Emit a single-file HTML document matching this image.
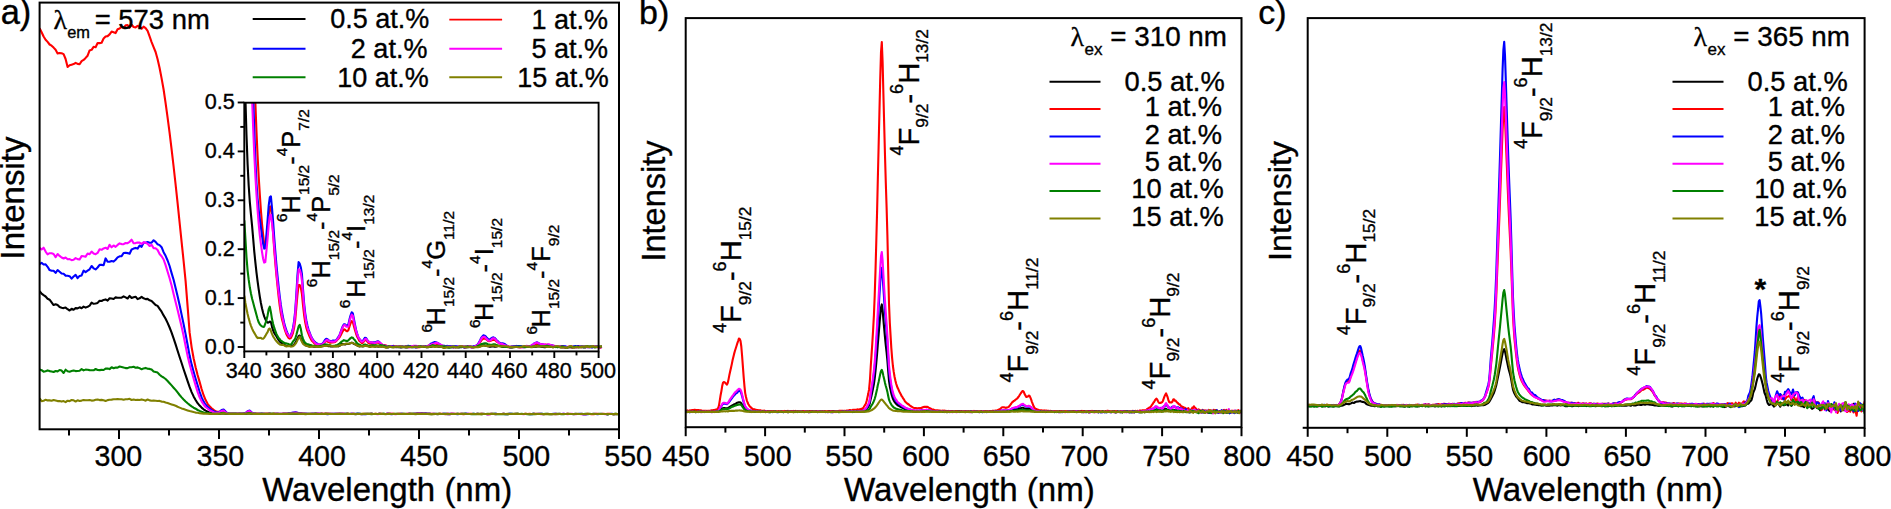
<!DOCTYPE html>
<html lang="en">
<head>
<meta charset="utf-8">
<title>Excitation and emission spectra</title>
<style>
html,body{margin:0;padding:0;background:#fff;}
body{width:1891px;height:509px;overflow:hidden;}
svg{display:block;font-family:'Liberation Sans', Arial, Helvetica, sans-serif;fill:#000;}
text{stroke:#000;stroke-width:0.35px;stroke-linejoin:round;}
</style>
</head>
<body>
<svg width="1891" height="509" viewBox="0 0 1891 509">
<rect x="0" y="0" width="1891" height="509" fill="#fff"/>
<defs>
<clipPath id="clipA"><rect x="39.6" y="2.6" width="579.4" height="426.7"/></clipPath>
<clipPath id="clipI"><rect x="244.3" y="102.7" width="358" height="249"/></clipPath>
<clipPath id="clipB"><rect x="685.5" y="18" width="556.5" height="410"/></clipPath>
<clipPath id="clipC"><rect x="1308" y="18" width="557" height="410"/></clipPath>
</defs>
<polyline fill="none" stroke="#000000" stroke-width="2.1" stroke-linejoin="round" points="39.6,291 41.6,293.7 43.6,295.2 45.6,296.5 47.6,298.7 49.6,299.7 51.6,302.3 53.6,305 55.6,304.2 57.6,305 59.6,307 61.6,307.7 63.6,308.1 65.6,307.6 67.6,309.2 69.6,310.5 71.6,308.8 73.6,309.8 75.6,308.1 77.6,308.4 79.6,307.3 81.6,308.3 83.6,306.6 85.6,307.6 87.6,306.8 89.6,305.7 91.6,302.6 93.6,303.8 95.6,303.5 97.6,302.9 99.6,300.7 101.6,301 103.6,299.9 105.6,299.4 107.6,300.6 109.6,298.3 111.6,298.5 113.6,299 115.6,297.4 117.6,297.7 119.6,297.8 121.6,297.6 123.6,296.3 125.6,297.4 127.6,298.5 129.6,295.9 131.6,298 133.6,297.3 135.6,296.7 137.6,299.1 139.6,298.3 141.6,296.9 143.6,298.3 145.6,299.1 147.6,298.9 149.6,300.3 151.6,301 153.6,303 155.6,305 157.6,305.9 159.6,308.8 161.6,311.7 163.6,315.4 165.6,318.7 167.6,322.9 169.6,327.5 171.6,332.6 173.6,338.3 175.6,344.4 177.6,350.7 179.6,357 181.6,363 183.6,369.2 185.6,375.2 187.6,381.1 189.6,386.9 191.6,392.1 193.6,396.4 195.6,400 197.6,403.2 199.6,405.6 201.6,407.6 203.6,409.3 205.6,410.6 207.6,411.6 209.6,412.4 211.6,413.1 213.6,413.4 215.6,413.7 217.6,413.8 219.6,413.7 221.6,413.5 223.6,413.4 225.6,413.7 227.6,413.8 229.6,413.9 231.6,413.8 233.6,413.9 235.6,413.8 237.6,413.8 239.6,413.9 241.6,413.9 243.6,413.9 245.6,413.9 247.6,413.5 249.6,413.5 251.6,413.7 253.6,413.9 255.6,413.9 257.6,413.9 259.6,414 261.6,413.9 263.6,413.9 265.6,413.9 267.6,413.9 269.6,413.9 271.6,413.9 273.6,413.9 275.6,414 277.6,413.9 279.6,413.9 281.6,413.9 283.6,413.9 285.6,413.8 287.6,413.8 289.6,413.9 291.6,413.7 293.6,413.8 295.6,413.7 297.6,413.8 299.6,413.8 301.6,413.9 303.6,413.9 305.6,413.9 307.6,414 309.6,414 311.6,413.9 313.6,413.9 315.6,413.9 317.6,413.9 319.6,414 321.6,413.9 323.6,414 325.6,413.9 327.6,413.9 329.6,413.9 331.6,414 333.6,414 335.6,414 337.6,414 339.6,413.9 341.6,413.9 343.6,413.9 345.6,414 347.6,413.9 349.6,414 351.6,413.9 353.6,413.9 355.6,414.1 357.6,413.9 359.6,413.9 361.6,414 363.6,414 365.6,413.9 367.6,414 369.6,413.9 371.6,413.9 373.6,414 375.6,414 377.6,414 379.6,413.9 381.6,414 383.6,413.9 385.6,414 387.6,413.9 389.6,413.9 391.6,414 393.6,414 395.6,414 397.6,414 399.6,414 401.6,414 403.6,414 405.6,414 407.6,414 409.6,414 411.6,414 413.6,414 415.6,414 417.6,413.9 419.6,413.9 421.6,414 423.6,414 425.6,413.9 427.6,414 429.6,414 431.6,414 433.6,414 435.6,414 437.6,414.1 439.6,413.9 441.6,414 443.6,414 445.6,414 447.6,414.1 449.6,414.1 451.6,413.9 453.6,413.9 455.6,414 457.6,413.9 459.6,414 461.6,414 463.6,413.9 465.6,413.9 467.6,414 469.6,414 471.6,414 473.6,414 475.6,414 477.6,413.9 479.6,414 481.6,413.9 483.6,413.9 485.6,414 487.6,414 489.6,414 491.6,413.9 493.6,414 495.6,413.9 497.6,414 499.6,414 501.6,414 503.6,414 505.6,414 507.6,414.1 509.6,413.9 511.6,414 513.6,414 515.6,414 517.6,413.9 519.6,414 521.6,414 523.6,414 525.6,414 527.6,414 529.6,414.1 531.6,414 533.6,413.9 535.6,414 537.6,413.9 539.6,413.8 541.6,414 543.6,414.1 545.6,414 547.6,413.9 549.6,414 551.6,414.1 553.6,414 555.6,414 557.6,414 559.6,414 561.6,414 563.6,414 565.6,414 567.6,413.9 569.6,414 571.6,414 573.6,414.1 575.6,413.9 577.6,414 579.6,414 581.6,413.9 583.6,414.1 585.6,414.1 587.6,414 589.6,414 591.6,414 593.6,413.9 595.6,414 597.6,414 599.6,414 601.6,413.9 603.6,414 605.6,414 607.6,414.1 609.6,414 611.6,414 613.6,414.1 615.6,414 617.6,414 619.6,413.9" clip-path="url(#clipA)"/>
<polyline fill="none" stroke="#ff0000" stroke-width="2.1" stroke-linejoin="round" points="39.6,28.3 41.6,32.2 43.6,36.5 45.6,39.8 47.6,41.9 49.6,44.5 51.6,45.7 53.6,47.6 55.6,49.7 57.6,53.4 59.6,53 61.6,53.2 63.6,54.1 65.6,59 67.6,67 69.6,65.3 71.6,64.7 73.6,64.1 75.6,62.9 77.6,63.9 79.6,64.2 81.6,61.1 83.6,59.9 85.6,57.9 87.6,55.7 89.6,50.4 91.6,49.8 93.6,46.8 95.6,47.2 97.6,43 99.6,43.1 101.6,42.7 103.6,38.5 105.6,36.5 107.6,36.1 109.6,34.4 111.6,31.6 113.6,32.2 115.6,33.1 117.6,29.2 119.6,28.5 121.6,26.7 123.6,27.8 125.6,25.3 127.6,25.1 129.6,27.8 131.6,24.7 133.6,27 135.6,27.4 137.6,25.9 139.6,26.5 141.6,28.7 143.6,26.6 145.6,28.1 147.6,30.8 149.6,36.4 151.6,42.1 153.6,47.1 155.6,52 157.6,59.3 159.6,68 161.6,78.4 163.6,89.5 165.6,103.2 167.6,117.7 169.6,132.9 171.6,149.4 173.6,166.5 175.6,184.5 177.6,203.2 179.6,222.5 181.6,241.8 183.6,261 185.6,281.2 187.6,306.4 189.6,332.4 191.6,347.1 193.6,358.2 195.6,367.3 197.6,375 199.6,381.9 201.6,389 203.6,395.2 205.6,400.1 207.6,403.8 209.6,406.3 211.6,408.2 213.6,409.9 215.6,411.3 217.6,411.9 219.6,411.7 221.6,410.9 223.6,410.7 225.6,412.3 227.6,413.5 229.6,413.9 231.6,413.9 233.6,413.9 235.6,413.9 237.6,413.9 239.6,413.9 241.6,413.8 243.6,413.8 245.6,413.4 247.6,411.9 249.6,411.5 251.6,412.9 253.6,413.6 255.6,413.9 257.6,413.9 259.6,413.9 261.6,413.9 263.6,414 265.6,413.9 267.6,413.9 269.6,413.9 271.6,414 273.6,413.9 275.6,413.8 277.6,414 279.6,414 281.6,414 283.6,413.9 285.6,413.9 287.6,413.7 289.6,413.6 291.6,413.2 293.6,413 295.6,412.9 297.6,413.1 299.6,413.3 301.6,413.7 303.6,413.9 305.6,413.8 307.6,414 309.6,414 311.6,413.9 313.6,413.9 315.6,413.9 317.6,413.9 319.6,413.9 321.6,413.9 323.6,413.9 325.6,413.9 327.6,413.9 329.6,414 331.6,414 333.6,413.9 335.6,414 337.6,413.9 339.6,413.9 341.6,414 343.6,413.9 345.6,414 347.6,413.9 349.6,414 351.6,414 353.6,413.9 355.6,414 357.6,414 359.6,414 361.6,414 363.6,413.9 365.6,414 367.6,414 369.6,414 371.6,413.9 373.6,414 375.6,413.9 377.6,414 379.6,413.9 381.6,413.9 383.6,414 385.6,414 387.6,413.9 389.6,413.9 391.6,413.9 393.6,413.9 395.6,414 397.6,413.9 399.6,413.9 401.6,414 403.6,413.9 405.6,414 407.6,413.9 409.6,413.9 411.6,413.8 413.6,414 415.6,413.8 417.6,413.7 419.6,413.6 421.6,413.6 423.6,413.7 425.6,413.8 427.6,413.8 429.6,413.8 431.6,413.9 433.6,413.9 435.6,414 437.6,414 439.6,413.9 441.6,413.9 443.6,414 445.6,414.1 447.6,413.8 449.6,414 451.6,413.9 453.6,414 455.6,413.9 457.6,414 459.6,413.9 461.6,413.9 463.6,414.1 465.6,414 467.6,414 469.6,413.9 471.6,413.9 473.6,414 475.6,414 477.6,414 479.6,414 481.6,413.9 483.6,414 485.6,414 487.6,414.1 489.6,414.1 491.6,414 493.6,414 495.6,414 497.6,414 499.6,414 501.6,414 503.6,413.9 505.6,414 507.6,414 509.6,414 511.6,414 513.6,414 515.6,414 517.6,414 519.6,414 521.6,414 523.6,414 525.6,413.9 527.6,414 529.6,413.9 531.6,414 533.6,414 535.6,413.9 537.6,414 539.6,414 541.6,414 543.6,414 545.6,414 547.6,414 549.6,414 551.6,414 553.6,414 555.6,413.9 557.6,414 559.6,414 561.6,414 563.6,414 565.6,414 567.6,413.9 569.6,414 571.6,414 573.6,414 575.6,414 577.6,414 579.6,414 581.6,414 583.6,414 585.6,414 587.6,413.9 589.6,414 591.6,414.1 593.6,414.1 595.6,414 597.6,413.9 599.6,414 601.6,414 603.6,413.9 605.6,414 607.6,413.9 609.6,413.9 611.6,414 613.6,414.1 615.6,414 617.6,414 619.6,414.1" clip-path="url(#clipA)"/>
<polyline fill="none" stroke="#0000ff" stroke-width="2.1" stroke-linejoin="round" points="39.6,264.1 41.6,262.9 43.6,264.5 45.6,264.3 47.6,266.8 49.6,270.1 51.6,270.8 53.6,270.8 55.6,272.9 57.6,270 59.6,271.7 61.6,273.5 63.6,273.8 65.6,275.6 67.6,275.8 69.6,276.2 71.6,278.6 73.6,276.5 75.6,274.9 77.6,278.1 79.6,275.9 81.6,275.4 83.6,270.7 85.6,272.1 87.6,270.7 89.6,269.3 91.6,266 93.6,268.3 95.6,269.4 97.6,267.5 99.6,264.9 101.6,264.9 103.6,265.2 105.6,258.4 107.6,261.7 109.6,261.8 111.6,261 113.6,261.6 115.6,259.7 117.6,257.4 119.6,256.3 121.6,256.1 123.6,253 125.6,252.7 127.6,253.1 129.6,253.7 131.6,249.5 133.6,248.6 135.6,247.9 137.6,248.6 139.6,245.5 141.6,246.8 143.6,242.5 145.6,242.8 147.6,242.1 149.6,242.7 151.6,242.6 153.6,240.3 155.6,241.9 157.6,244.3 159.6,245.1 161.6,247.2 163.6,252.2 165.6,255.8 167.6,260.5 169.6,266 171.6,273.1 173.6,279.8 175.6,288 177.6,296.2 179.6,305.1 181.6,314.6 183.6,324.1 185.6,334.1 187.6,344.8 189.6,355.6 191.6,364.4 193.6,371.7 195.6,378.7 197.6,385.2 199.6,391.8 201.6,397.4 203.6,401.6 205.6,404.7 207.6,406.8 209.6,408.6 211.6,410.3 213.6,411.2 215.6,411.9 217.6,412.5 219.6,412 221.6,410.1 223.6,409.6 225.6,411.5 227.6,413.4 229.6,413.7 231.6,413.9 233.6,413.9 235.6,413.9 237.6,413.9 239.6,413.9 241.6,413.9 243.6,413.8 245.6,413 247.6,411.2 249.6,410.6 251.6,412.4 253.6,413.6 255.6,413.9 257.6,414 259.6,413.8 261.6,413.9 263.6,413.9 265.6,414 267.6,414 269.6,413.9 271.6,414 273.6,414 275.6,413.9 277.6,413.9 279.6,414 281.6,414 283.6,413.9 285.6,413.8 287.6,413.8 289.6,413.4 291.6,412.9 293.6,412.6 295.6,412.4 297.6,412.8 299.6,413.2 301.6,413.6 303.6,413.8 305.6,413.9 307.6,413.9 309.6,414 311.6,413.9 313.6,413.9 315.6,413.9 317.6,413.9 319.6,413.8 321.6,414 323.6,414 325.6,414 327.6,414.1 329.6,414 331.6,413.9 333.6,413.9 335.6,413.9 337.6,413.9 339.6,414 341.6,413.9 343.6,414 345.6,413.9 347.6,414 349.6,414 351.6,413.9 353.6,414 355.6,413.9 357.6,413.9 359.6,413.9 361.6,414 363.6,414.1 365.6,414.1 367.6,414 369.6,414 371.6,413.9 373.6,414 375.6,414 377.6,414 379.6,414 381.6,414 383.6,414 385.6,414 387.6,413.9 389.6,414 391.6,414.1 393.6,414 395.6,414 397.6,414 399.6,414 401.6,413.9 403.6,414 405.6,414 407.6,414 409.6,413.9 411.6,414 413.6,413.8 415.6,413.7 417.6,413.5 419.6,413.6 421.6,413.4 423.6,413.5 425.6,413.6 427.6,413.8 429.6,413.9 431.6,414 433.6,413.9 435.6,414 437.6,414 439.6,414 441.6,414 443.6,413.9 445.6,413.9 447.6,414 449.6,413.9 451.6,414 453.6,414 455.6,414 457.6,414.1 459.6,414 461.6,413.9 463.6,414 465.6,413.9 467.6,413.9 469.6,414 471.6,414 473.6,413.9 475.6,414 477.6,414 479.6,414 481.6,414 483.6,414 485.6,414 487.6,414.1 489.6,414 491.6,414 493.6,414 495.6,413.9 497.6,414 499.6,414 501.6,414 503.6,413.9 505.6,414.1 507.6,414 509.6,413.9 511.6,413.9 513.6,414 515.6,414 517.6,414 519.6,414 521.6,414 523.6,414 525.6,414 527.6,414 529.6,414 531.6,414.1 533.6,413.9 535.6,414 537.6,414 539.6,414 541.6,413.9 543.6,414 545.6,414 547.6,414 549.6,414 551.6,414 553.6,413.9 555.6,413.9 557.6,414 559.6,414 561.6,414 563.6,413.9 565.6,414 567.6,414 569.6,414 571.6,414 573.6,414 575.6,414 577.6,414 579.6,413.9 581.6,414 583.6,414.1 585.6,414 587.6,414.1 589.6,414 591.6,414 593.6,414 595.6,414 597.6,414.1 599.6,414 601.6,414 603.6,414 605.6,414 607.6,414.1 609.6,414 611.6,413.9 613.6,414 615.6,414 617.6,414 619.6,414.1" clip-path="url(#clipA)"/>
<polyline fill="none" stroke="#ff00ff" stroke-width="2.1" stroke-linejoin="round" points="39.6,247.8 41.6,249.5 43.6,247.7 45.6,251.6 47.6,254.3 49.6,253.2 51.6,253.3 53.6,254 55.6,257.2 57.6,254 59.6,255.9 61.6,257.5 63.6,258.5 65.6,257.5 67.6,259.2 69.6,259.1 71.6,260.1 73.6,259.8 75.6,258.1 77.6,259.1 79.6,259.5 81.6,256.1 83.6,256.2 85.6,256.7 87.6,253.5 89.6,254.2 91.6,251.6 93.6,253.5 95.6,254.2 97.6,252.9 99.6,249.2 101.6,249.8 103.6,248.4 105.6,247.7 107.6,249 109.6,244.8 111.6,247.3 113.6,245.5 115.6,246.8 117.6,244.9 119.6,243.4 121.6,244.1 123.6,244.2 125.6,243 127.6,243.2 129.6,241.8 131.6,239.7 133.6,243.3 135.6,243.1 137.6,242.5 139.6,242.6 141.6,243.9 143.6,242.4 145.6,242.6 147.6,243.8 149.6,246 151.6,244.8 153.6,248.1 155.6,248.2 157.6,250 159.6,254 161.6,256.3 163.6,259.5 165.6,265.1 167.6,271.7 169.6,278.3 171.6,285.5 173.6,294 175.6,302.1 177.6,309.9 179.6,318.3 181.6,326.7 183.6,335.8 185.6,346 187.6,355.9 189.6,364.2 191.6,371.6 193.6,378.5 195.6,385.4 197.6,391.9 199.6,397.4 201.6,401.4 203.6,404.5 205.6,407 207.6,408.5 209.6,410.2 211.6,411.2 213.6,412.2 215.6,412.9 217.6,412.8 219.6,412.2 221.6,410.9 223.6,410.6 225.6,412.2 227.6,413.5 229.6,413.9 231.6,413.9 233.6,413.9 235.6,414 237.6,413.8 239.6,413.9 241.6,413.9 243.6,413.9 245.6,413.2 247.6,411.5 249.6,411.1 251.6,412.6 253.6,413.7 255.6,413.8 257.6,413.9 259.6,413.9 261.6,414 263.6,413.9 265.6,414 267.6,413.9 269.6,413.9 271.6,414 273.6,414 275.6,413.9 277.6,413.9 279.6,413.9 281.6,413.9 283.6,413.9 285.6,413.9 287.6,413.7 289.6,413.5 291.6,413 293.6,412.8 295.6,412.7 297.6,412.9 299.6,413.4 301.6,413.6 303.6,413.9 305.6,414 307.6,413.9 309.6,413.9 311.6,414 313.6,414 315.6,414 317.6,413.9 319.6,413.9 321.6,413.9 323.6,413.8 325.6,414 327.6,413.9 329.6,413.9 331.6,413.9 333.6,414 335.6,413.9 337.6,413.9 339.6,413.9 341.6,413.9 343.6,413.9 345.6,414 347.6,413.9 349.6,414 351.6,413.9 353.6,414 355.6,414 357.6,414 359.6,414 361.6,414.1 363.6,414 365.6,414 367.6,413.9 369.6,414 371.6,414 373.6,414 375.6,414 377.6,414.1 379.6,413.9 381.6,414 383.6,414 385.6,414 387.6,413.9 389.6,414 391.6,413.9 393.6,414 395.6,414.1 397.6,414 399.6,413.9 401.6,413.9 403.6,414 405.6,414 407.6,413.9 409.6,413.9 411.6,414 413.6,413.9 415.6,413.7 417.6,413.6 419.6,413.5 421.6,413.5 423.6,413.5 425.6,413.7 427.6,413.8 429.6,413.9 431.6,414 433.6,414 435.6,413.9 437.6,414 439.6,414 441.6,414 443.6,413.9 445.6,414 447.6,413.9 449.6,414.1 451.6,413.9 453.6,413.9 455.6,414 457.6,414 459.6,414 461.6,414 463.6,414 465.6,414 467.6,413.9 469.6,414 471.6,414 473.6,414 475.6,414 477.6,413.9 479.6,414 481.6,414 483.6,414 485.6,414 487.6,414.1 489.6,414.1 491.6,413.9 493.6,414 495.6,414.1 497.6,414 499.6,414 501.6,414 503.6,414 505.6,414 507.6,414 509.6,414 511.6,414 513.6,414 515.6,413.9 517.6,414 519.6,414 521.6,414 523.6,414.1 525.6,414 527.6,414 529.6,414 531.6,414 533.6,414 535.6,414 537.6,414 539.6,413.9 541.6,414.1 543.6,414 545.6,414 547.6,414 549.6,414 551.6,414 553.6,414 555.6,414.1 557.6,414 559.6,413.9 561.6,414 563.6,413.9 565.6,414 567.6,414.1 569.6,414 571.6,413.9 573.6,414 575.6,414.1 577.6,414 579.6,414 581.6,414.1 583.6,414.1 585.6,414.1 587.6,414 589.6,414 591.6,414 593.6,414 595.6,413.9 597.6,414 599.6,414 601.6,414 603.6,414 605.6,414.1 607.6,414 609.6,414 611.6,414 613.6,414 615.6,414.1 617.6,414 619.6,414" clip-path="url(#clipA)"/>
<polyline fill="none" stroke="#008000" stroke-width="2.1" stroke-linejoin="round" points="39.6,369.4 41.6,370.2 43.6,371.7 45.6,371.3 47.6,370.4 49.6,371.1 51.6,371.5 53.6,372 55.6,371 57.6,371.4 59.6,370 61.6,370.6 63.6,373 65.6,369.7 67.6,371.3 69.6,371.7 71.6,371.1 73.6,370.6 75.6,371.1 77.6,371 79.6,370.8 81.6,369.1 83.6,370.4 85.6,369.6 87.6,369.7 89.6,370.1 91.6,370.3 93.6,370.3 95.6,369 97.6,370 99.6,370.1 101.6,369.9 103.6,370 105.6,368.6 107.6,368.5 109.6,369.1 111.6,367.3 113.6,368.3 115.6,367.6 117.6,367.6 119.6,366.5 121.6,367 123.6,367.6 125.6,368.1 127.6,368.1 129.6,367.3 131.6,367.2 133.6,366.8 135.6,367.7 137.6,367.4 139.6,368.2 141.6,369.3 143.6,368.4 145.6,367.9 147.6,368.7 149.6,368.9 151.6,369.6 153.6,371.6 155.6,372.1 157.6,372.6 159.6,374.8 161.6,376.4 163.6,377.5 165.6,379 167.6,381 169.6,383.2 171.6,385.4 173.6,387.7 175.6,389.9 177.6,392.4 179.6,395 181.6,397.4 183.6,399.5 185.6,401.5 187.6,403.3 189.6,404.9 191.6,406.4 193.6,407.7 195.6,408.7 197.6,410 199.6,410.9 201.6,411.7 203.6,412.4 205.6,412.9 207.6,413.2 209.6,413.3 211.6,413.6 213.6,413.8 215.6,413.8 217.6,413.9 219.6,413.7 221.6,413.1 223.6,412.9 225.6,413.5 227.6,413.8 229.6,413.8 231.6,413.9 233.6,413.9 235.6,413.9 237.6,414 239.6,413.9 241.6,413.9 243.6,413.9 245.6,413.7 247.6,413.2 249.6,413.1 251.6,413.5 253.6,414 255.6,413.9 257.6,414 259.6,413.9 261.6,413.9 263.6,414 265.6,414 267.6,414 269.6,413.9 271.6,413.9 273.6,413.9 275.6,414 277.6,414 279.6,414 281.6,414 283.6,414 285.6,414 287.6,413.9 289.6,413.7 291.6,413.6 293.6,413.5 295.6,413.7 297.6,413.6 299.6,413.8 301.6,413.9 303.6,414 305.6,414 307.6,413.9 309.6,413.9 311.6,414 313.6,414 315.6,413.9 317.6,414 319.6,414 321.6,413.9 323.6,414 325.6,413.9 327.6,414 329.6,414 331.6,414 333.6,414 335.6,413.9 337.6,414 339.6,413.9 341.6,414 343.6,414 345.6,413.8 347.6,413.9 349.6,414 351.6,414 353.6,414 355.6,414 357.6,413.9 359.6,414 361.6,414.1 363.6,414 365.6,414 367.6,413.9 369.6,414 371.6,414.1 373.6,414 375.6,414 377.6,414 379.6,413.9 381.6,414 383.6,413.9 385.6,414 387.6,414 389.6,414 391.6,414 393.6,414 395.6,413.9 397.6,413.9 399.6,414 401.6,413.9 403.6,413.9 405.6,413.9 407.6,414 409.6,413.9 411.6,413.9 413.6,413.9 415.6,413.9 417.6,413.9 419.6,414 421.6,413.8 423.6,413.8 425.6,413.9 427.6,413.9 429.6,413.9 431.6,414.1 433.6,414 435.6,413.9 437.6,413.9 439.6,414 441.6,414 443.6,413.9 445.6,413.9 447.6,414 449.6,414 451.6,414 453.6,414 455.6,414 457.6,413.9 459.6,414 461.6,414 463.6,414 465.6,413.9 467.6,414 469.6,414 471.6,414.1 473.6,413.9 475.6,414.1 477.6,413.9 479.6,414 481.6,414.1 483.6,414 485.6,414 487.6,413.9 489.6,414 491.6,414 493.6,413.9 495.6,414.1 497.6,414 499.6,414.1 501.6,414 503.6,414.1 505.6,414.1 507.6,414.1 509.6,414 511.6,413.9 513.6,414 515.6,413.9 517.6,413.9 519.6,414 521.6,413.9 523.6,414 525.6,414 527.6,414.1 529.6,414.1 531.6,414 533.6,414.1 535.6,414 537.6,414 539.6,414 541.6,413.9 543.6,414 545.6,413.9 547.6,414 549.6,414.1 551.6,414 553.6,414 555.6,414 557.6,413.9 559.6,413.9 561.6,414.1 563.6,414.1 565.6,414 567.6,414 569.6,414 571.6,414 573.6,414 575.6,414 577.6,414 579.6,414 581.6,414 583.6,414 585.6,413.9 587.6,414 589.6,413.9 591.6,414 593.6,414 595.6,414 597.6,414 599.6,413.9 601.6,414 603.6,414 605.6,414 607.6,414.1 609.6,414 611.6,414 613.6,414.1 615.6,413.9 617.6,414.1 619.6,414" clip-path="url(#clipA)"/>
<polyline fill="none" stroke="#808000" stroke-width="2.1" stroke-linejoin="round" points="39.6,398.3 41.6,401.2 43.6,400.8 45.6,399.7 47.6,400.4 49.6,400.4 51.6,400.7 53.6,400 55.6,400.5 57.6,401.1 59.6,401.1 61.6,401.6 63.6,401.1 65.6,402.2 67.6,400.7 69.6,401.1 71.6,400 73.6,400.3 75.6,401.5 77.6,400.3 79.6,401 81.6,400.6 83.6,400.1 85.6,400.3 87.6,400.2 89.6,400.1 91.6,400.6 93.6,400.5 95.6,399.8 97.6,399.6 99.6,400.1 101.6,399.9 103.6,400.3 105.6,401 107.6,400.1 109.6,399.7 111.6,399.6 113.6,399.3 115.6,399.2 117.6,399.1 119.6,399.3 121.6,399.2 123.6,399.7 125.6,399.2 127.6,399.3 129.6,398.8 131.6,400 133.6,399.5 135.6,400 137.6,399.7 139.6,400 141.6,399.4 143.6,399.9 145.6,400.7 147.6,399.5 149.6,400.4 151.6,400.7 153.6,400.5 155.6,400.7 157.6,401 159.6,400.9 161.6,401.6 163.6,401.8 165.6,402.5 167.6,403.1 169.6,403.8 171.6,404.4 173.6,405.1 175.6,405.8 177.6,406.8 179.6,407.6 181.6,408.4 183.6,409.1 185.6,409.8 187.6,410.4 189.6,411 191.6,411.5 193.6,412.1 195.6,412.6 197.6,412.8 199.6,413.2 201.6,413.4 203.6,413.6 205.6,413.8 207.6,413.8 209.6,413.9 211.6,414 213.6,413.9 215.6,413.9 217.6,413.9 219.6,413.7 221.6,413.6 223.6,413.4 225.6,413.7 227.6,413.8 229.6,413.9 231.6,413.9 233.6,413.8 235.6,413.9 237.6,413.9 239.6,413.9 241.6,414 243.6,413.9 245.6,413.8 247.6,413.7 249.6,413.5 251.6,413.8 253.6,413.9 255.6,413.9 257.6,413.9 259.6,414 261.6,414 263.6,413.9 265.6,413.9 267.6,413.9 269.6,413.9 271.6,414 273.6,413.9 275.6,413.9 277.6,413.9 279.6,414 281.6,414 283.6,413.9 285.6,413.9 287.6,413.9 289.6,413.8 291.6,413.8 293.6,413.8 295.6,413.8 297.6,413.8 299.6,413.9 301.6,413.9 303.6,413.9 305.6,414.1 307.6,414 309.6,413.9 311.6,414 313.6,414 315.6,413.9 317.6,414 319.6,414 321.6,413.9 323.6,414 325.6,413.9 327.6,413.9 329.6,413.9 331.6,413.9 333.6,414 335.6,414 337.6,413.9 339.6,414 341.6,413.9 343.6,414 345.6,414 347.6,413.9 349.6,413.9 351.6,414 353.6,414 355.6,414 357.6,414 359.6,414 361.6,413.9 363.6,413.9 365.6,413.9 367.6,413.9 369.6,413.9 371.6,413.9 373.6,414 375.6,413.9 377.6,414 379.6,414 381.6,413.9 383.6,414 385.6,414.1 387.6,414 389.6,413.9 391.6,414 393.6,413.9 395.6,414 397.6,414 399.6,413.9 401.6,414 403.6,414 405.6,414 407.6,414 409.6,413.9 411.6,413.9 413.6,413.9 415.6,414.1 417.6,413.9 419.6,413.9 421.6,413.9 423.6,413.9 425.6,414 427.6,414 429.6,414.1 431.6,414 433.6,414.1 435.6,414 437.6,414 439.6,413.9 441.6,414 443.6,414 445.6,414 447.6,413.9 449.6,414 451.6,414 453.6,414 455.6,414 457.6,414 459.6,414 461.6,413.9 463.6,413.9 465.6,414 467.6,414 469.6,414 471.6,414 473.6,414 475.6,414 477.6,414.1 479.6,413.9 481.6,414.1 483.6,414 485.6,414 487.6,414 489.6,413.9 491.6,413.9 493.6,413.9 495.6,414 497.6,414 499.6,414 501.6,414 503.6,413.9 505.6,414 507.6,413.9 509.6,414 511.6,414 513.6,413.9 515.6,413.9 517.6,413.9 519.6,414 521.6,414 523.6,414 525.6,413.9 527.6,414 529.6,414 531.6,414 533.6,413.9 535.6,414.1 537.6,414 539.6,414 541.6,414 543.6,414.1 545.6,414 547.6,414.1 549.6,414 551.6,414.1 553.6,414.1 555.6,414 557.6,414.1 559.6,414 561.6,414 563.6,414 565.6,414 567.6,414 569.6,413.9 571.6,414 573.6,414 575.6,414 577.6,413.9 579.6,414 581.6,414 583.6,414 585.6,414 587.6,413.9 589.6,414 591.6,414 593.6,414 595.6,413.9 597.6,414 599.6,414 601.6,414 603.6,414 605.6,414 607.6,414.1 609.6,414 611.6,414 613.6,414 615.6,413.9 617.6,414.1 619.6,414.1" clip-path="url(#clipA)"/>
<polyline fill="none" stroke="#000000" stroke-width="2.1" stroke-linejoin="round" points="244.3,43.3 245.4,97.9 246.5,135.3 247.6,164.1 248.7,185.7 249.8,201.8 250.9,213.8 252.1,226.1 253.2,238.8 254.3,251.8 255.4,262.6 256.5,272.7 257.6,281.4 258.7,289.4 259.8,296.6 260.9,303 262,308.3 263.1,312.7 264.2,316.4 265.3,319.1 266.4,321.4 267.6,322.6 268.7,322.4 269.8,321.6 270.9,321.9 272,326.6 273.1,330.4 274.2,332.9 275.3,334.6 276.4,336.3 277.5,338.2 278.6,340 279.7,341.4 280.8,342.5 281.9,343.4 283.1,344.1 284.2,344.7 285.3,345.5 286.4,345.9 287.5,346 288.6,345.7 289.7,345.9 290.8,345.9 291.9,345.9 293,345.4 294.1,344.5 295.2,343.1 296.3,340.9 297.4,338.6 298.6,336.1 299.7,335.5 300.8,337.9 301.9,340.1 303,342.7 304.1,344 305.2,344.9 306.3,345.6 307.4,346 308.5,346.3 309.6,346 310.7,346.2 311.8,346.3 312.9,346.4 314.1,346.6 315.2,346.5 316.3,346.6 317.4,346.3 318.5,346.6 319.6,346.4 320.7,346.4 321.8,346.3 322.9,346.3 324,346 325.1,345.4 326.2,345.7 327.3,345.8 328.4,346.2 329.6,346 330.7,346.4 331.8,346.2 332.9,346.5 334,346.1 335.1,346.1 336.2,346.1 337.3,346.1 338.4,346.4 339.5,345.8 340.6,345.1 341.7,344 342.8,344.1 343.9,344.3 345.1,344.5 346.2,344 347.3,343.9 348.4,344 349.5,343.6 350.6,343.2 351.7,342.8 352.8,343.1 353.9,343.8 355,344.3 356.1,344.8 357.2,345.4 358.3,346.1 359.4,346.4 360.6,346.3 361.7,346.2 362.8,346.4 363.9,346.2 365,345.8 366.1,345.1 367.2,345.6 368.3,345.9 369.4,346.7 370.5,346.6 371.6,346 372.7,345.8 373.8,346.2 374.9,346.6 376.1,346.5 377.2,346.4 378.3,346.6 379.4,346.5 380.5,346.3 381.6,346.4 382.7,346.3 383.8,346.7 384.9,346.6 386,347.3 387.1,347.5 388.2,347.4 389.3,347.1 390.5,346.7 391.6,346.8 392.7,346.4 393.8,346.4 394.9,346.3 396,346.6 397.1,346.9 398.2,347.3 399.3,347.3 400.4,347.4 401.5,347.4 402.6,347.3 403.7,347 404.8,347 406,347.4 407.1,347.4 408.2,347.3 409.3,346.7 410.4,346.6 411.5,346.8 412.6,347.1 413.7,346.8 414.8,346.6 415.9,346.1 417,346 418.1,346.3 419.2,346.6 420.3,347 421.5,346.7 422.6,346.7 423.7,346.7 424.8,346.8 425.9,347.1 427,347.2 428.1,347.3 429.2,346.9 430.3,346.9 431.4,346.6 432.5,346.4 433.6,346.1 434.7,346.2 435.8,346.3 437,346.5 438.1,346.6 439.2,346.8 440.3,346.7 441.4,346.8 442.5,346.6 443.6,347 444.7,346.9 445.8,347.2 446.9,347.1 448,347.3 449.1,347.3 450.2,347.1 451.3,347.1 452.5,347.2 453.6,347.5 454.7,347.1 455.8,346.9 456.9,346.9 458,347.2 459.1,347.5 460.2,346.9 461.3,347.2 462.4,346.8 463.5,347.1 464.6,347.1 465.7,347.1 466.8,347 468,346.6 469.1,346.6 470.2,346.6 471.3,346.7 472.4,346.7 473.5,346.9 474.6,346.8 475.7,347 476.8,346.7 477.9,346.8 479,346.6 480.1,346.4 481.2,345.7 482.3,345.1 483.5,345.2 484.6,345.4 485.7,345.8 486.8,345.9 487.9,346.1 489,346.6 490.1,346.5 491.2,346.6 492.3,346.2 493.4,346.5 494.5,346.6 495.6,346.8 496.7,346.4 497.8,346 499,345.9 500.1,345.9 501.2,346.4 502.3,346.8 503.4,347 504.5,346.9 505.6,346.7 506.7,346.8 507.8,346.8 508.9,346.9 510,347.3 511.1,347.5 512.2,347.4 513.3,347.1 514.5,346.9 515.6,346.5 516.7,346.5 517.8,346.6 518.9,346.7 520,346.5 521.1,346.5 522.2,346.7 523.3,346.7 524.4,346.5 525.5,346.3 526.6,346.5 527.7,346.8 528.9,346.7 530,346.5 531.1,346.6 532.2,346.5 533.3,346.7 534.4,346.4 535.5,346.6 536.6,346.6 537.7,346.4 538.8,346.4 539.9,346.5 541,346.7 542.1,346.9 543.2,347 544.4,347.3 545.5,347.1 546.6,346.6 547.7,346.5 548.8,346.6 549.9,346.6 551,346.8 552.1,346.6 553.2,346.7 554.3,346.6 555.4,346.8 556.5,347 557.6,347.2 558.7,347 559.9,346.8 561,346.7 562.1,346.9 563.2,347.1 564.3,347 565.4,347.2 566.5,347 567.6,347.4 568.7,347 569.8,347.1 570.9,347.1 572,347.4 573.1,347.4 574.2,347.1 575.4,347.2 576.5,347.1 577.6,346.4 578.7,346.4 579.8,346.5 580.9,347.2 582,346.9 583.1,347.4 584.2,347.5 585.3,347.5 586.4,347.1 587.5,346.6 588.6,346.8 589.7,346.8 590.9,346.5 592,346.5 593.1,346.7 594.2,347.3 595.3,347.2 596.4,346.8 597.5,346.8 598.6,346.9 599.7,347.1 600.8,346.6 601.9,346.2" clip-path="url(#clipI)"/>
<polyline fill="none" stroke="#ff0000" stroke-width="2.1" stroke-linejoin="round" points="244.3,-581.4 245.4,-466.7 246.5,-365.4 247.6,-277 248.7,-199 249.8,-130.8 250.9,-70.3 252.1,-16.4 253.2,30.8 254.3,70.6 255.4,103.9 256.5,132 257.6,156 258.7,176.7 259.8,194.3 260.9,210.3 262,223.8 263.1,234.4 264.2,244.2 265.3,247 266.4,240.7 267.6,229.1 268.7,214.7 269.8,206.9 270.9,206.3 272,217.8 273.1,232.6 274.2,249.6 275.3,262.9 276.4,275 277.5,286 278.6,296.4 279.7,305.7 280.8,313.1 281.9,318.9 283.1,323.3 284.2,327.7 285.3,331.1 286.4,334.2 287.5,336.1 288.6,338.1 289.7,338.6 290.8,338 291.9,335.8 293,332.8 294.1,328.1 295.2,320.3 296.3,307.8 297.4,295.3 298.6,285 299.7,285 300.8,287.6 301.9,293.7 303,305.1 304.1,315 305.2,322.4 306.3,327.6 307.4,331.2 308.5,333.9 309.6,336.6 310.7,338.8 311.8,340.7 312.9,341.6 314.1,343.1 315.2,343.9 316.3,345 317.4,344.8 318.5,345 319.6,344.9 320.7,344.7 321.8,344.5 322.9,344 324,343 325.1,341.9 326.2,341 327.3,341.3 328.4,342 329.6,342.6 330.7,342.7 331.8,342.5 332.9,342.4 334,342.3 335.1,341.9 336.2,341.2 337.3,339.8 338.4,338.7 339.5,337.4 340.6,335.5 341.7,333.3 342.8,331.1 343.9,329.3 345.1,329.7 346.2,330.9 347.3,331.3 348.4,330.1 349.5,326.4 350.6,323.2 351.7,321.1 352.8,321.8 353.9,326.3 355,330.2 356.1,333.8 357.2,336.8 358.3,338.8 359.4,341 360.6,341.8 361.7,342.9 362.8,342.9 363.9,341.4 365,340.2 366.1,339.9 367.2,341.4 368.3,342.9 369.4,343.5 370.5,343.8 371.6,343.8 372.7,343.8 373.8,343.8 374.9,343.2 376.1,342.6 377.2,342.4 378.3,342.7 379.4,343.3 380.5,344 381.6,344.6 382.7,345 383.8,345 384.9,345.2 386,345.6 387.1,346 388.2,346.5 389.3,346.6 390.5,347 391.6,346.2 392.7,346.1 393.8,345.9 394.9,346.5 396,347.1 397.1,347 398.2,346.7 399.3,346.4 400.4,346.4 401.5,346.6 402.6,346.8 403.7,346.7 404.8,346.6 406,346.3 407.1,346.5 408.2,346.6 409.3,346.9 410.4,346.9 411.5,346.8 412.6,346.8 413.7,346.6 414.8,346.9 415.9,347.1 417,347.3 418.1,347.4 419.2,346.9 420.3,347.1 421.5,346.7 422.6,346.9 423.7,346.6 424.8,346.8 425.9,346.6 427,346.3 428.1,345.8 429.2,345.4 430.3,345.4 431.4,344.7 432.5,344 433.6,343.4 434.7,343.4 435.8,343.7 437,344 438.1,344.6 439.2,344.8 440.3,345.1 441.4,345.6 442.5,345.9 443.6,346.1 444.7,346.2 445.8,346.3 446.9,346.6 448,346.7 449.1,346.8 450.2,346.7 451.3,346.6 452.5,346.9 453.6,346.6 454.7,346.9 455.8,346.7 456.9,347.3 458,347 459.1,346.7 460.2,346.3 461.3,346.2 462.4,346.8 463.5,347.1 464.6,347.4 465.7,347.3 466.8,346.9 468,346.8 469.1,346.6 470.2,346.7 471.3,346.9 472.4,347.1 473.5,347.3 474.6,346.9 475.7,346.4 476.8,345.6 477.9,344.6 479,343.6 480.1,342.2 481.2,340.6 482.3,339.3 483.5,338.6 484.6,338.6 485.7,339 486.8,339.7 487.9,340.7 489,341.2 490.1,341 491.2,340.6 492.3,340 493.4,339.7 494.5,339.9 495.6,340.6 496.7,341.7 497.8,342.4 499,343 500.1,343.5 501.2,343.8 502.3,344.5 503.4,345 504.5,345.5 505.6,345.9 506.7,346.5 507.8,347.1 508.9,347.3 510,347.2 511.1,347.2 512.2,347 513.3,346.7 514.5,346.5 515.6,346.3 516.7,346.6 517.8,346.8 518.9,347.1 520,347.3 521.1,347 522.2,347.1 523.3,346.7 524.4,346.7 525.5,346.9 526.6,347 527.7,346.7 528.9,346.4 530,346.1 531.1,346.4 532.2,345.6 533.3,345.5 534.4,344.3 535.5,344.2 536.6,344.2 537.7,344.3 538.8,343.8 539.9,343.9 541,344.2 542.1,344.9 543.2,345 544.4,345 545.5,344.6 546.6,344.8 547.7,344.9 548.8,345.3 549.9,345.6 551,345.7 552.1,345.7 553.2,345.8 554.3,346 555.4,346.5 556.5,346.4 557.6,346.5 558.7,346.5 559.9,346.5 561,346.5 562.1,346.3 563.2,346.2 564.3,346.7 565.4,347.3 566.5,347.2 567.6,347.1 568.7,346.8 569.8,347.2 570.9,347.1 572,347.4 573.1,346.8 574.2,347 575.4,346.8 576.5,347.1 577.6,346.7 578.7,347 579.8,346.9 580.9,347.2 582,346.8 583.1,346.7 584.2,346.8 585.3,346.8 586.4,347 587.5,346.8 588.6,346.9 589.7,346.9 590.9,347 592,346.9 593.1,346.4 594.2,346.5 595.3,346.5 596.4,346.6 597.5,346.9 598.6,347.3 599.7,347.9 600.8,347.5 601.9,346.7" clip-path="url(#clipI)"/>
<polyline fill="none" stroke="#0000ff" stroke-width="2.1" stroke-linejoin="round" points="244.3,-386.8 245.4,-285.8 246.5,-200.3 247.6,-128.8 248.7,-68.4 249.8,-17.5 250.9,25.8 252.1,64.1 253.2,97.8 254.3,130.3 255.4,159.8 256.5,183.3 257.6,198.6 258.7,210.1 259.8,219 260.9,227.5 262,235.6 263.1,243.6 264.2,248.6 265.3,248.2 266.4,235 267.6,220.2 268.7,205.6 269.8,197.4 270.9,196.4 272,207.8 273.1,221.3 274.2,237.2 275.3,251.3 276.4,264.4 277.5,275.9 278.6,286.3 279.7,296.2 280.8,304.7 281.9,311.8 283.1,317.9 284.2,323 285.3,327.2 286.4,330.4 287.5,333.1 288.6,335.3 289.7,336.2 290.8,335.2 291.9,332.1 293,327.9 294.1,321.1 295.2,311 296.3,294.8 297.4,276.2 298.6,262 299.7,263.6 300.8,267.2 301.9,273.9 303,289 304.1,303.1 305.2,313.1 306.3,320.2 307.4,325.5 308.5,329.5 309.6,332.4 310.7,335.4 311.8,337.8 312.9,339.6 314.1,341.2 315.2,342.1 316.3,343.3 317.4,343.6 318.5,344.2 319.6,344.5 320.7,344.4 321.8,343.9 322.9,343.3 324,341.6 325.1,339.8 326.2,338.9 327.3,339 328.4,340.2 329.6,340.7 330.7,341.2 331.8,340.9 332.9,340.6 334,340.6 335.1,340.7 336.2,340.1 337.3,338.5 338.4,336.9 339.5,335.2 340.6,332 341.7,329 342.8,326.2 343.9,324.2 345.1,324.4 346.2,325.5 347.3,325.4 348.4,324.3 349.5,319.4 350.6,315.4 351.7,312.3 352.8,313.3 353.9,319 355,324.6 356.1,330 357.2,333.9 358.3,337.2 359.4,338.9 360.6,340.5 361.7,341.2 362.8,341 363.9,339.3 365,337.7 366.1,338 367.2,339.8 368.3,341.3 369.4,341.9 370.5,342.4 371.6,342.2 372.7,342.6 373.8,342.4 374.9,342.4 376.1,341.9 377.2,341.3 378.3,341.4 379.4,342.2 380.5,343.6 381.6,344.6 382.7,345.2 383.8,345.7 384.9,345.8 386,346 387.1,346.3 388.2,346 389.3,346.2 390.5,346.1 391.6,346.5 392.7,346.1 393.8,346.2 394.9,346.7 396,347.2 397.1,346.8 398.2,346.6 399.3,346.6 400.4,346.9 401.5,346.6 402.6,346.7 403.7,346.8 404.8,347.3 406,346.6 407.1,346.2 408.2,345.7 409.3,346.2 410.4,346.4 411.5,347 412.6,346.9 413.7,347.3 414.8,347.2 415.9,347.4 417,347.2 418.1,346.8 419.2,346.5 420.3,346.4 421.5,346.7 422.6,346.7 423.7,346.7 424.8,346.2 425.9,346.3 427,346.6 428.1,346.5 429.2,345.4 430.3,344.2 431.4,343.4 432.5,343 433.6,342.4 434.7,342 435.8,342.2 437,342.6 438.1,343.1 439.2,343.8 440.3,344.8 441.4,345.4 442.5,345.7 443.6,345.7 444.7,345.9 445.8,346.2 446.9,345.9 448,346 449.1,346 450.2,346.1 451.3,346.2 452.5,346.3 453.6,346.5 454.7,346.2 455.8,346.2 456.9,346.3 458,346.6 459.1,346.9 460.2,346.8 461.3,346.8 462.4,346.9 463.5,347.2 464.6,347.5 465.7,347.3 466.8,347.3 468,347.2 469.1,346.7 470.2,347 471.3,346.8 472.4,346.9 473.5,346.3 474.6,346 475.7,345.7 476.8,345.3 477.9,344.3 479,342.4 480.1,340.3 481.2,337.9 482.3,336.4 483.5,335.3 484.6,335.7 485.7,336.4 486.8,337.9 487.9,338.9 489,339.6 490.1,339.1 491.2,338.4 492.3,337.7 493.4,337.3 494.5,337.9 495.6,338.8 496.7,340.3 497.8,341.1 499,342.4 500.1,343 501.2,343.5 502.3,343.4 503.4,343.5 504.5,344 505.6,344.7 506.7,345.6 507.8,346.6 508.9,347.2 510,347.2 511.1,346.7 512.2,346.2 513.3,346.4 514.5,346.2 515.6,346.3 516.7,345.9 517.8,346.3 518.9,346.1 520,346.3 521.1,346.4 522.2,346.9 523.3,347.1 524.4,347 525.5,347 526.6,346.6 527.7,346.6 528.9,346.6 530,346.1 531.1,345.9 532.2,344.8 533.3,344.5 534.4,343.3 535.5,342.9 536.6,342.3 537.7,342.6 538.8,343.4 539.9,344.2 541,344.6 542.1,344.4 543.2,344.6 544.4,345 545.5,345.2 546.6,345 547.7,344.8 548.8,345 549.9,345.2 551,345.2 552.1,345.3 553.2,346 554.3,346.4 555.4,346.8 556.5,347 557.6,346.9 558.7,346.9 559.9,346.7 561,346.6 562.1,346.5 563.2,346.2 564.3,346.3 565.4,346.3 566.5,346.7 567.6,347 568.7,347 569.8,346.9 570.9,346.8 572,346.9 573.1,346.5 574.2,346.2 575.4,346.1 576.5,346.4 577.6,346.5 578.7,346.6 579.8,346.6 580.9,346.5 582,346.5 583.1,346.6 584.2,346.6 585.3,346.8 586.4,346.5 587.5,347.1 588.6,347 589.7,347.3 590.9,347.2 592,347.6 593.1,347 594.2,346.8 595.3,346.4 596.4,346.6 597.5,346.6 598.6,346.5 599.7,347 600.8,347 601.9,347.1" clip-path="url(#clipI)"/>
<polyline fill="none" stroke="#ff00ff" stroke-width="2.1" stroke-linejoin="round" points="244.3,-337.5 245.4,-234.1 246.5,-149.4 247.6,-80.5 248.7,-24 249.8,23.3 250.9,63.9 252.1,98.9 253.2,129 254.3,154.7 255.4,176.4 256.5,194.7 257.6,210.2 258.7,223.8 259.8,235.1 260.9,243.9 262,251.8 263.1,258.7 264.2,262.6 265.3,262.1 266.4,251.1 267.6,238.5 268.7,225 269.8,216.3 270.9,214.9 272,222.8 273.1,233.5 274.2,246.7 275.3,259.5 276.4,272.1 277.5,282.6 278.6,291.8 279.7,299.9 280.8,308.3 281.9,315.2 283.1,320.4 284.2,325.5 285.3,329.2 286.4,332.3 287.5,334 288.6,335.8 289.7,337 290.8,335.8 291.9,333.3 293,329.7 294.1,324.1 295.2,314.3 296.3,299.1 297.4,282.9 298.6,269.3 299.7,269.8 300.8,273 301.9,280.6 303,294.1 304.1,306.8 305.2,316.3 306.3,323.1 307.4,327.6 308.5,330.8 309.6,333.5 310.7,336.3 311.8,338.6 312.9,340.6 314.1,341.8 315.2,343 316.3,344 317.4,344.3 318.5,344.3 319.6,344.3 320.7,344.6 321.8,344.6 322.9,344 324,342.8 325.1,341.2 326.2,340.2 327.3,339.7 328.4,340.8 329.6,341.3 330.7,341.5 331.8,341.6 332.9,341.6 334,341.8 335.1,341.1 336.2,340.6 337.3,339.2 338.4,337.8 339.5,335.6 340.6,332.7 341.7,329.8 342.8,327.2 343.9,325.2 345.1,325 346.2,326.7 347.3,326.8 348.4,326.4 349.5,321.4 350.6,317.6 351.7,314.7 352.8,315.8 353.9,321.5 355,326.5 356.1,331.2 357.2,334.3 358.3,337 359.4,338.9 360.6,340.7 361.7,341.7 362.8,341.5 363.9,340.4 365,339.1 366.1,338.9 367.2,340.1 368.3,341.6 369.4,342.1 370.5,342.5 371.6,342.2 372.7,342.6 373.8,342.8 374.9,342.9 376.1,342.5 377.2,342 378.3,341.9 379.4,342.3 380.5,343 381.6,344 382.7,344.8 383.8,345.6 384.9,345.7 386,346 387.1,346.1 388.2,346.2 389.3,346.1 390.5,346.3 391.6,346.6 392.7,346.7 393.8,346.5 394.9,346.2 396,346.3 397.1,346.7 398.2,346.6 399.3,346.6 400.4,346.3 401.5,346.5 402.6,346.8 403.7,346.9 404.8,346.9 406,346.5 407.1,346.4 408.2,347.1 409.3,347.4 410.4,347.3 411.5,346.4 412.6,346.3 413.7,345.8 414.8,345.8 415.9,345.7 417,346 418.1,346.6 419.2,346.6 420.3,346.7 421.5,346.5 422.6,346.6 423.7,346.6 424.8,346.5 425.9,346.5 427,346.3 428.1,345.9 429.2,345.4 430.3,344.7 431.4,344.5 432.5,343.8 433.6,343.8 434.7,343.2 435.8,343 437,342.9 438.1,343.3 439.2,344 440.3,344.4 441.4,345.2 442.5,345.5 443.6,346.5 444.7,346.6 445.8,346.9 446.9,346.9 448,346.8 449.1,346.7 450.2,346.8 451.3,346.9 452.5,347.1 453.6,347.3 454.7,347.3 455.8,347.4 456.9,346.7 458,346.9 459.1,346.4 460.2,346.7 461.3,346.2 462.4,346.4 463.5,346.2 464.6,346.4 465.7,346.4 466.8,346.2 468,346 469.1,346.3 470.2,346.8 471.3,347.6 472.4,347.6 473.5,347.2 474.6,346.4 475.7,346 476.8,345.6 477.9,344.7 479,343.2 480.1,341 481.2,339.1 482.3,337.3 483.5,336.9 484.6,336.8 485.7,338.1 486.8,339.1 487.9,340.2 489,340.7 490.1,340.4 491.2,339.8 492.3,338.5 493.4,338.2 494.5,338.4 495.6,339.6 496.7,340.8 497.8,342.2 499,343.1 500.1,343.5 501.2,343.7 502.3,344 503.4,344.6 504.5,344.9 505.6,345.4 506.7,345.7 507.8,346.1 508.9,346.5 510,346.6 511.1,346.9 512.2,346.7 513.3,346.7 514.5,346.7 515.6,347 516.7,347 517.8,347.2 518.9,347.1 520,347.4 521.1,347.1 522.2,346.9 523.3,347.1 524.4,347.2 525.5,346.7 526.6,345.9 527.7,346.1 528.9,346.3 530,346.3 531.1,345.6 532.2,344.9 533.3,344.4 534.4,343.6 535.5,342.9 536.6,342.6 537.7,342.9 538.8,343.5 539.9,343.8 541,344.1 542.1,344.3 543.2,344.3 544.4,344.4 545.5,344.8 546.6,344.7 547.7,344.6 548.8,344.1 549.9,344.6 551,345.2 552.1,345.6 553.2,345.6 554.3,345.8 555.4,346.1 556.5,346.7 557.6,346.7 558.7,347 559.9,346.9 561,347.1 562.1,347 563.2,347.4 564.3,347.5 565.4,347.4 566.5,347 567.6,346.9 568.7,346.9 569.8,346.7 570.9,346.5 572,346.7 573.1,346.8 574.2,347.1 575.4,347.1 576.5,347.4 577.6,347.3 578.7,347.3 579.8,346.6 580.9,346.6 582,346.5 583.1,347 584.2,346.6 585.3,346.8 586.4,346.7 587.5,347.2 588.6,347.1 589.7,347 590.9,346.7 592,346.9 593.1,346.9 594.2,346.8 595.3,346.6 596.4,346.7 597.5,347.2 598.6,347.6 599.7,347.6 600.8,347.2 601.9,346.7" clip-path="url(#clipI)"/>
<polyline fill="none" stroke="#008000" stroke-width="2.1" stroke-linejoin="round" points="244.3,220.2 245.4,238.6 246.5,257.1 247.6,270.6 248.7,279.7 249.8,287.3 250.9,293.2 252.1,298.7 253.2,302.8 254.3,307 255.4,310.9 256.5,315 257.6,319 258.7,322.3 259.8,324.3 260.9,325.5 262,326.4 263.1,326.9 264.2,326.7 265.3,323.7 266.4,320.2 267.6,315.4 268.7,309.1 269.8,306.7 270.9,312.2 272,319.1 273.1,323.8 274.2,327.7 275.3,330.9 276.4,333.9 277.5,335.9 278.6,338 279.7,339.1 280.8,340.6 281.9,341.2 283.1,342.3 284.2,342.8 285.3,343.4 286.4,343.4 287.5,343.7 288.6,344.1 289.7,344.7 290.8,344.5 291.9,343.4 293,341.5 294.1,340.3 295.2,338.7 296.3,335 297.4,330.9 298.6,326.4 299.7,324.8 300.8,328.8 301.9,335.2 303,338.9 304.1,341.3 305.2,342.9 306.3,343.6 307.4,344.4 308.5,344.4 309.6,344.8 310.7,345 311.8,345.6 312.9,345.9 314.1,345.9 315.2,346 316.3,346.4 317.4,346.6 318.5,346.2 319.6,346.1 320.7,345.9 321.8,345.8 322.9,345.3 324,344.7 325.1,344.3 326.2,344.5 327.3,344.6 328.4,345.1 329.6,345 330.7,345.5 331.8,345.9 332.9,346 334,345.8 335.1,345.6 336.2,345.3 337.3,345.1 338.4,344.2 339.5,343.6 340.6,342.6 341.7,341.6 342.8,340.9 343.9,340.1 345.1,340.6 346.2,340.9 347.3,341 348.4,340.4 349.5,339.1 350.6,338.1 351.7,337.4 352.8,337.8 353.9,339.1 355,340.3 356.1,342 357.2,343.2 358.3,344.3 359.4,344.6 360.6,345.2 361.7,345.7 362.8,345.5 363.9,344.9 365,344.4 366.1,344.9 367.2,345.6 368.3,346 369.4,345.9 370.5,345.9 371.6,345.4 372.7,345.4 373.8,345.2 374.9,345.2 376.1,345.1 377.2,345.6 378.3,345.6 379.4,345.6 380.5,345.1 381.6,345.2 382.7,345.4 383.8,345.7 384.9,346.3 386,346.4 387.1,346.9 388.2,346.4 389.3,346.3 390.5,346.9 391.6,347 392.7,347.3 393.8,346.6 394.9,347 396,346.7 397.1,346.8 398.2,346.7 399.3,346.9 400.4,346.8 401.5,346.7 402.6,346.6 403.7,346.7 404.8,346.9 406,346.5 407.1,346.6 408.2,346.4 409.3,346.7 410.4,346.9 411.5,347.2 412.6,347.3 413.7,347 414.8,346.5 415.9,346.5 417,346.8 418.1,346.9 419.2,346.9 420.3,346.4 421.5,346.5 422.6,346.9 423.7,346.8 424.8,347 425.9,346.6 427,347.1 428.1,346.7 429.2,346.8 430.3,346.1 431.4,345.7 432.5,345.1 433.6,345.4 434.7,345.8 435.8,346.2 437,346 438.1,345.9 439.2,345.8 440.3,346.1 441.4,346.2 442.5,346.3 443.6,346.2 444.7,346.4 445.8,346.5 446.9,347.2 448,347.5 449.1,347.7 450.2,347.5 451.3,347.2 452.5,346.9 453.6,346.8 454.7,346.9 455.8,347.2 456.9,347.1 458,347.1 459.1,346.9 460.2,346.9 461.3,346.7 462.4,346.7 463.5,346.7 464.6,346.8 465.7,346.6 466.8,346.6 468,346.4 469.1,346.8 470.2,346.9 471.3,347.1 472.4,347.3 473.5,347.2 474.6,347.1 475.7,347 476.8,346.5 477.9,346.1 479,345.3 480.1,344.9 481.2,344 482.3,343.9 483.5,343.6 484.6,343.4 485.7,343.4 486.8,343.6 487.9,344.4 489,344.5 490.1,344.8 491.2,344.8 492.3,344.7 493.4,344.3 494.5,344.3 495.6,344.6 496.7,345.1 497.8,345.4 499,345.9 500.1,346.3 501.2,346.4 502.3,346.6 503.4,346.7 504.5,346.9 505.6,347 506.7,346.9 507.8,347 508.9,346.9 510,347.2 511.1,347.3 512.2,347.2 513.3,346.9 514.5,346.9 515.6,346.9 516.7,346.9 517.8,346.8 518.9,346.6 520,346.7 521.1,346.6 522.2,346.9 523.3,346.8 524.4,347.2 525.5,347.1 526.6,347 527.7,346.7 528.9,346.8 530,346.8 531.1,346.8 532.2,346.6 533.3,346.7 534.4,346.3 535.5,346.4 536.6,346 537.7,345.9 538.8,345.8 539.9,346 541,346.2 542.1,346.3 543.2,346.3 544.4,346.5 545.5,346.1 546.6,345.9 547.7,345.8 548.8,346.4 549.9,346.5 551,346.9 552.1,346.7 553.2,347.2 554.3,346.6 555.4,347.1 556.5,346.7 557.6,346.9 558.7,346.9 559.9,347.2 561,347.1 562.1,346.5 563.2,346.8 564.3,347.2 565.4,347.6 566.5,347.5 567.6,347.5 568.7,347 569.8,346.7 570.9,346.6 572,347.1 573.1,347 574.2,346.8 575.4,346.9 576.5,346.7 577.6,347.1 578.7,347 579.8,347.2 580.9,346.6 582,346.6 583.1,346.7 584.2,346.7 585.3,346.6 586.4,346.4 587.5,346.4 588.6,346.5 589.7,346.6 590.9,346.6 592,346.7 593.1,346.5 594.2,347.1 595.3,347.2 596.4,347.3 597.5,346.8 598.6,346.8 599.7,347 600.8,346.8 601.9,346.8" clip-path="url(#clipI)"/>
<polyline fill="none" stroke="#808000" stroke-width="2.1" stroke-linejoin="round" points="244.3,295.6 245.4,303 246.5,308.8 247.6,314 248.7,318.4 249.8,322.3 250.9,325.6 252.1,328.6 253.2,331 254.3,332.9 255.4,334.8 256.5,336.8 257.6,338.1 258.7,337.8 259.8,338 260.9,337.9 262,338.8 263.1,338.7 264.2,337.7 265.3,335.9 266.4,333.9 267.6,332.1 268.7,329.2 269.8,328.5 270.9,330.9 272,333.9 273.1,336.4 274.2,338 275.3,339.8 276.4,341.2 277.5,342.4 278.6,343.5 279.7,344.4 280.8,344.7 281.9,344.9 283.1,344.8 284.2,345.4 285.3,346 286.4,346.4 287.5,346.2 288.6,346.1 289.7,346 290.8,346.6 291.9,346.5 293,346.3 294.1,345.4 295.2,344.2 296.3,342.6 297.4,340.4 298.6,337.9 299.7,336.7 300.8,339.5 301.9,341.7 303,343.8 304.1,344.7 305.2,345.5 306.3,345.6 307.4,346.1 308.5,346.4 309.6,347 310.7,346.7 311.8,346.7 312.9,346.3 314.1,346.5 315.2,346.6 316.3,346.9 317.4,346.6 318.5,346.5 319.6,346.7 320.7,347 321.8,346.6 322.9,346 324,346 325.1,346 326.2,346 327.3,345.7 328.4,345.5 329.6,345.6 330.7,345.6 331.8,346.1 332.9,346 334,346.4 335.1,346.4 336.2,346.4 337.3,346.2 338.4,345.7 339.5,345.6 340.6,345 341.7,344.8 342.8,344.4 343.9,344.2 345.1,343.9 346.2,343.4 347.3,343.7 348.4,343.7 349.5,343.7 350.6,343.1 351.7,342.8 352.8,343.1 353.9,343.6 355,344.1 356.1,345 357.2,345.5 358.3,346 359.4,346.1 360.6,346.2 361.7,346.3 362.8,346.2 363.9,345.9 365,346 366.1,345.8 367.2,346.3 368.3,346.4 369.4,346.7 370.5,346.8 371.6,346.4 372.7,346.7 373.8,346.6 374.9,346.8 376.1,346.2 377.2,346.3 378.3,346 379.4,346.8 380.5,346.6 381.6,346.9 382.7,346.6 383.8,346.9 384.9,347.3 386,347.7 387.1,347.3 388.2,346.9 389.3,346.8 390.5,346.9 391.6,347.1 392.7,347.1 393.8,347.5 394.9,347.1 396,346.6 397.1,346.6 398.2,346.7 399.3,346.9 400.4,346.3 401.5,346.9 402.6,347 403.7,347.3 404.8,347.1 406,347.1 407.1,347.2 408.2,346.8 409.3,346.9 410.4,346.9 411.5,347.2 412.6,346.9 413.7,347 414.8,346.9 415.9,347.3 417,347 418.1,346.8 419.2,346.3 420.3,346.8 421.5,347 422.6,346.9 423.7,346.6 424.8,346.7 425.9,347 427,347.1 428.1,346.9 429.2,347 430.3,346.7 431.4,346.5 432.5,346.2 433.6,346.7 434.7,346.9 435.8,346.9 437,346.4 438.1,346.5 439.2,346.3 440.3,346.6 441.4,346.7 442.5,347.5 443.6,347.9 444.7,348 445.8,347.5 446.9,347.3 448,346.7 449.1,346.7 450.2,347 451.3,346.8 452.5,346.7 453.6,346.5 454.7,347.1 455.8,347.4 456.9,347.2 458,347.1 459.1,346.5 460.2,346.4 461.3,346.3 462.4,346.4 463.5,346.7 464.6,346.9 465.7,347.2 466.8,347.4 468,347.3 469.1,347.3 470.2,347 471.3,346.9 472.4,347.3 473.5,347.4 474.6,347.1 475.7,347 476.8,347.1 477.9,347.2 479,346.9 480.1,346.6 481.2,346.3 482.3,346 483.5,345.8 484.6,345.7 485.7,345.8 486.8,346.1 487.9,346.1 489,345.9 490.1,345.8 491.2,345.8 492.3,345.7 493.4,345.6 494.5,345.6 495.6,345.9 496.7,346.1 497.8,346.2 499,346 500.1,346.3 501.2,346.4 502.3,346.3 503.4,346.2 504.5,346.2 505.6,346.3 506.7,346.4 507.8,346.5 508.9,346.9 510,346.7 511.1,346.9 512.2,346.9 513.3,347.1 514.5,347.1 515.6,346.9 516.7,346.8 517.8,347.1 518.9,347.3 520,347.3 521.1,347 522.2,346.8 523.3,346.4 524.4,346.2 525.5,346.3 526.6,346.6 527.7,346.6 528.9,346.5 530,346.9 531.1,347.1 532.2,347.1 533.3,346.2 534.4,346.5 535.5,346.1 536.6,346.5 537.7,346 538.8,346.4 539.9,346.4 541,346.4 542.1,346.4 543.2,346.2 544.4,346.5 545.5,346.6 546.6,346.8 547.7,346.9 548.8,346.9 549.9,346.6 551,346.8 552.1,347.1 553.2,347.4 554.3,346.9 555.4,346.4 556.5,346.2 557.6,346.3 558.7,346.6 559.9,346.8 561,347.6 562.1,347.6 563.2,347.5 564.3,347.3 565.4,347.6 566.5,347.9 567.6,347.6 568.7,346.9 569.8,346.2 570.9,346 572,346.5 573.1,347.4 574.2,347.7 575.4,347.2 576.5,347 577.6,347.2 578.7,347.5 579.8,347.1 580.9,347.1 582,346.9 583.1,346.7 584.2,346.6 585.3,346.6 586.4,346.4 587.5,346.6 588.6,347 589.7,347.3 590.9,346.7 592,346.4 593.1,346.3 594.2,346.8 595.3,346.6 596.4,346.9 597.5,346.7 598.6,346.9 599.7,346.6 600.8,346.5 601.9,346.4" clip-path="url(#clipI)"/>
<rect x="39.6" y="2.6" width="579.4" height="426.7" fill="none" stroke="#000" stroke-width="2"/>
<line x1="69" y1="429.3" x2="69" y2="435.5" stroke="#000" stroke-width="2"/>
<line x1="119" y1="429.3" x2="119" y2="439" stroke="#000" stroke-width="2"/>
<text x="118.4" y="465.6" font-size="28.6" text-anchor="middle">300</text>
<line x1="169" y1="429.3" x2="169" y2="435.5" stroke="#000" stroke-width="2"/>
<line x1="219" y1="429.3" x2="219" y2="439" stroke="#000" stroke-width="2"/>
<text x="220.4" y="465.6" font-size="28.6" text-anchor="middle">350</text>
<line x1="269" y1="429.3" x2="269" y2="435.5" stroke="#000" stroke-width="2"/>
<line x1="319" y1="429.3" x2="319" y2="439" stroke="#000" stroke-width="2"/>
<text x="322" y="465.6" font-size="28.6" text-anchor="middle">400</text>
<line x1="369" y1="429.3" x2="369" y2="435.5" stroke="#000" stroke-width="2"/>
<line x1="419" y1="429.3" x2="419" y2="439" stroke="#000" stroke-width="2"/>
<text x="424.2" y="465.6" font-size="28.6" text-anchor="middle">450</text>
<line x1="469" y1="429.3" x2="469" y2="435.5" stroke="#000" stroke-width="2"/>
<line x1="519" y1="429.3" x2="519" y2="439" stroke="#000" stroke-width="2"/>
<text x="526.4" y="465.6" font-size="28.6" text-anchor="middle">500</text>
<line x1="569" y1="429.3" x2="569" y2="435.5" stroke="#000" stroke-width="2"/>
<line x1="619" y1="429.3" x2="619" y2="439" stroke="#000" stroke-width="2"/>
<text x="628.1" y="465.6" font-size="28.6" text-anchor="middle">550</text>
<text x="387.2" y="501" font-size="33" text-anchor="middle">Wavelength (nm)</text>
<text x="0" y="0" font-size="33" text-anchor="middle" transform="translate(23.6 198) rotate(-90)">Intensity</text>
<text x="0.7" y="24.2" font-size="34.5" text-anchor="start">a)</text>
<rect x="244.3" y="102.7" width="354.3" height="248.7" fill="none" stroke="#000" stroke-width="1.9"/>
<line x1="244.3" y1="351.4" x2="244.3" y2="358" stroke="#000" stroke-width="1.9"/>
<text x="243.7" y="378.4" font-size="21.6" text-anchor="middle">340</text>
<line x1="266.4" y1="351.4" x2="266.4" y2="355.4" stroke="#000" stroke-width="1.9"/>
<line x1="288.6" y1="351.4" x2="288.6" y2="358" stroke="#000" stroke-width="1.9"/>
<text x="288" y="378.4" font-size="21.6" text-anchor="middle">360</text>
<line x1="310.7" y1="351.4" x2="310.7" y2="355.4" stroke="#000" stroke-width="1.9"/>
<line x1="332.9" y1="351.4" x2="332.9" y2="358" stroke="#000" stroke-width="1.9"/>
<text x="332.3" y="378.4" font-size="21.6" text-anchor="middle">380</text>
<line x1="355" y1="351.4" x2="355" y2="355.4" stroke="#000" stroke-width="1.9"/>
<line x1="377.2" y1="351.4" x2="377.2" y2="358" stroke="#000" stroke-width="1.9"/>
<text x="376.6" y="378.4" font-size="21.6" text-anchor="middle">400</text>
<line x1="399.3" y1="351.4" x2="399.3" y2="355.4" stroke="#000" stroke-width="1.9"/>
<line x1="421.5" y1="351.4" x2="421.5" y2="358" stroke="#000" stroke-width="1.9"/>
<text x="420.9" y="378.4" font-size="21.6" text-anchor="middle">420</text>
<line x1="443.6" y1="351.4" x2="443.6" y2="355.4" stroke="#000" stroke-width="1.9"/>
<line x1="465.7" y1="351.4" x2="465.7" y2="358" stroke="#000" stroke-width="1.9"/>
<text x="465.1" y="378.4" font-size="21.6" text-anchor="middle">440</text>
<line x1="487.9" y1="351.4" x2="487.9" y2="355.4" stroke="#000" stroke-width="1.9"/>
<line x1="510" y1="351.4" x2="510" y2="358" stroke="#000" stroke-width="1.9"/>
<text x="509.4" y="378.4" font-size="21.6" text-anchor="middle">460</text>
<line x1="532.2" y1="351.4" x2="532.2" y2="355.4" stroke="#000" stroke-width="1.9"/>
<line x1="554.3" y1="351.4" x2="554.3" y2="358" stroke="#000" stroke-width="1.9"/>
<text x="553.7" y="378.4" font-size="21.6" text-anchor="middle">480</text>
<line x1="576.5" y1="351.4" x2="576.5" y2="355.4" stroke="#000" stroke-width="1.9"/>
<line x1="598.6" y1="351.4" x2="598.6" y2="358" stroke="#000" stroke-width="1.9"/>
<text x="598" y="378.4" font-size="21.6" text-anchor="middle">500</text>
<line x1="237.7" y1="347" x2="244.3" y2="347" stroke="#000" stroke-width="1.9"/>
<text x="234.8" y="353.8" font-size="21.6" text-anchor="end">0.0</text>
<line x1="240.3" y1="322.6" x2="244.3" y2="322.6" stroke="#000" stroke-width="1.9"/>
<line x1="237.7" y1="298.1" x2="244.3" y2="298.1" stroke="#000" stroke-width="1.9"/>
<text x="234.8" y="304.9" font-size="21.6" text-anchor="end">0.1</text>
<line x1="240.3" y1="273.6" x2="244.3" y2="273.6" stroke="#000" stroke-width="1.9"/>
<line x1="237.7" y1="249.2" x2="244.3" y2="249.2" stroke="#000" stroke-width="1.9"/>
<text x="234.8" y="256" font-size="21.6" text-anchor="end">0.2</text>
<line x1="240.3" y1="224.8" x2="244.3" y2="224.8" stroke="#000" stroke-width="1.9"/>
<line x1="237.7" y1="200.3" x2="244.3" y2="200.3" stroke="#000" stroke-width="1.9"/>
<text x="234.8" y="207.1" font-size="21.6" text-anchor="end">0.3</text>
<line x1="240.3" y1="175.8" x2="244.3" y2="175.8" stroke="#000" stroke-width="1.9"/>
<line x1="237.7" y1="151.4" x2="244.3" y2="151.4" stroke="#000" stroke-width="1.9"/>
<text x="234.8" y="158.2" font-size="21.6" text-anchor="end">0.4</text>
<line x1="240.3" y1="126.9" x2="244.3" y2="126.9" stroke="#000" stroke-width="1.9"/>
<line x1="237.7" y1="102.5" x2="244.3" y2="102.5" stroke="#000" stroke-width="1.9"/>
<text x="234.8" y="109.3" font-size="21.6" text-anchor="end">0.5</text>
<text x="53.4" y="28.7" font-size="27.4" text-anchor="start"><tspan font-family='"Liberation Serif", "DejaVu Serif", serif' font-size="27.8">λ</tspan><tspan font-size="16.4" dy="9.1" dx="0.3">em</tspan><tspan font-size="27.4" dy="-9.1" dx="-2.8"> = 573 nm</tspan></text>
<line x1="252.7" y1="19" x2="305.5" y2="19" stroke="#000000" stroke-width="1.9"/>
<text x="429.2" y="28.4" font-size="27" text-anchor="end">0.5 at.%</text>
<line x1="449.3" y1="19.6" x2="502.1" y2="19.6" stroke="#ff0000" stroke-width="1.9"/>
<text x="608.1" y="29" font-size="27" text-anchor="end">1 at.%</text>
<line x1="252.7" y1="48.8" x2="305.5" y2="48.8" stroke="#0000ff" stroke-width="1.9"/>
<text x="427.4" y="58.2" font-size="27" text-anchor="end">2 at.%</text>
<line x1="449.3" y1="48.8" x2="502.1" y2="48.8" stroke="#ff00ff" stroke-width="1.9"/>
<text x="608.1" y="58.2" font-size="27" text-anchor="end">5 at.%</text>
<line x1="252.7" y1="77.2" x2="305.5" y2="77.2" stroke="#008000" stroke-width="1.9"/>
<text x="428.8" y="86.6" font-size="27" text-anchor="end">10 at.%</text>
<line x1="449.3" y1="77.2" x2="502.1" y2="77.2" stroke="#808000" stroke-width="1.9"/>
<text x="608.7" y="86.6" font-size="27" text-anchor="end">15 at.%</text>
<text x="0" y="0" font-size="25.5" text-anchor="start" transform="translate(300.4 222) rotate(-90)"><tspan font-size="15.5" dy="-13">6</tspan><tspan font-size="25.5" dy="13" dx="0">H</tspan><tspan font-size="15.5" dy="9">15/2</tspan><tspan font-size="25.5" dy="-9">​</tspan><tspan font-size="25.5">-</tspan><tspan font-size="15.5" dy="-13">4</tspan><tspan font-size="25.5" dy="13" dx="0">P</tspan><tspan font-size="15.5" dy="9">7/2</tspan><tspan font-size="25.5" dy="-9">​</tspan></text>
<text x="0" y="0" font-size="25.5" text-anchor="start" transform="translate(330 287.2) rotate(-90)"><tspan font-size="15.5" dy="-13">6</tspan><tspan font-size="25.5" dy="13" dx="0">H</tspan><tspan font-size="15.5" dy="9">15/2</tspan><tspan font-size="25.5" dy="-9">​</tspan><tspan font-size="25.5">-</tspan><tspan font-size="15.5" dy="-13">4</tspan><tspan font-size="25.5" dy="13" dx="0">P</tspan><tspan font-size="15.5" dy="9">5/2</tspan><tspan font-size="25.5" dy="-9">​</tspan></text>
<text x="0" y="0" font-size="25.5" text-anchor="start" transform="translate(365.2 308.3) rotate(-90)"><tspan font-size="15.5" dy="-15">6</tspan><tspan font-size="25.5" dy="15" dx="2">H</tspan><tspan font-size="15.5" dy="9">15/2</tspan><tspan font-size="25.5" dy="-9">​</tspan><tspan font-size="25.5">-</tspan><tspan font-size="15.5" dy="-13">4</tspan><tspan font-size="25.5" dy="13" dx="0">I</tspan><tspan font-size="15.5" dy="9">13/2</tspan><tspan font-size="25.5" dy="-9">​</tspan></text>
<text x="0" y="0" font-size="25.5" text-anchor="start" transform="translate(444.9 332.6) rotate(-90)"><tspan font-size="15.5" dy="-13">6</tspan><tspan font-size="25.5" dy="13" dx="-1.5">H</tspan><tspan font-size="15.5" dy="9">15/2</tspan><tspan font-size="25.5" dy="-9">​</tspan><tspan font-size="25.5">-</tspan><tspan font-size="15.5" dy="-13">4</tspan><tspan font-size="25.5" dy="13" dx="0">G</tspan><tspan font-size="15.5" dy="9">11/2</tspan><tspan font-size="25.5" dy="-9">​</tspan></text>
<text x="0" y="0" font-size="25.5" text-anchor="start" transform="translate(492.9 328.1) rotate(-90)"><tspan font-size="15.5" dy="-13">6</tspan><tspan font-size="25.5" dy="13" dx="-1.5">H</tspan><tspan font-size="15.5" dy="9">15/2</tspan><tspan font-size="25.5" dy="-9">​</tspan><tspan font-size="25.5">-</tspan><tspan font-size="15.5" dy="-13">4</tspan><tspan font-size="25.5" dy="13" dx="0">I</tspan><tspan font-size="15.5" dy="9">15/2</tspan><tspan font-size="25.5" dy="-9">​</tspan></text>
<text x="0" y="0" font-size="25.5" text-anchor="start" transform="translate(550 334.6) rotate(-90)"><tspan font-size="15.5" dy="-13">6</tspan><tspan font-size="25.5" dy="13" dx="-1.5">H</tspan><tspan font-size="15.5" dy="9">15/2</tspan><tspan font-size="25.5" dy="-9">​</tspan><tspan font-size="25.5">-</tspan><tspan font-size="15.5" dy="-13">4</tspan><tspan font-size="25.5" dy="13" dx="0">F</tspan><tspan font-size="15.5" dy="9">9/2</tspan><tspan font-size="25.5" dy="-9">​</tspan></text>
<polyline fill="none" stroke="#000000" stroke-width="2.1" stroke-linejoin="round" points="685.7,411.9 686.5,411.7 687.3,412.1 688.1,411.7 688.9,411.9 689.7,412 690.5,412 691.3,412 692.1,411.9 692.8,411.8 693.6,411.8 694.4,411.8 695.2,412.1 696,412.1 696.8,411.7 697.6,411.8 698.4,411.7 699.2,411.8 700,412 700.8,411.8 701.6,411.8 702.4,411.9 703.2,412 704,411.9 704.8,411.9 705.6,411.8 706.3,411.9 707.1,411.7 707.9,412 708.7,411.9 709.5,411.9 710.3,412 711.1,412 711.9,411.8 712.7,411.8 713.5,411.9 714.3,411.8 715.1,411.9 715.9,411.8 716.7,411.8 717.5,411.6 718.3,411.4 719,411.2 719.8,410.4 720.6,409.9 721.4,409.3 722.2,408.7 723,408.2 723.8,408 724.6,408 725.4,408.2 726.2,408.2 727,408.2 727.8,408.2 728.6,407.5 729.4,407.2 730.2,406.6 731,406.1 731.8,405.6 732.5,405.3 733.3,404.8 734.1,404.3 734.9,404 735.7,403.6 736.5,403.1 737.3,402.8 738.1,402.5 738.9,402.2 739.7,402.3 740.5,402.6 741.3,403.3 742.1,404.7 742.9,406 743.7,407.4 744.5,408.6 745.2,409.4 746,410 746.8,410.3 747.6,410.8 748.4,411 749.2,411.2 750,411.4 750.8,411.3 751.6,411.4 752.4,411.5 753.2,411.6 754,411.6 754.8,411.6 755.6,411.7 756.4,411.8 757.2,411.9 758,411.7 758.7,411.8 759.5,411.9 760.3,411.7 761.1,411.8 761.9,412 762.7,411.8 763.5,411.9 764.3,411.7 765.1,412 765.9,411.9 766.7,411.9 767.5,411.7 768.3,412 769.1,412.2 769.9,412 770.7,411.9 771.5,411.8 772.2,411.7 773,411.9 773.8,412 774.6,411.8 775.4,411.9 776.2,411.9 777,411.9 777.8,411.8 778.6,412 779.4,412 780.2,411.9 781,411.9 781.8,412 782.6,412 783.4,411.9 784.2,411.8 785,411.8 785.7,411.8 786.5,411.8 787.3,412.1 788.1,412.1 788.9,412 789.7,412 790.5,412 791.3,411.9 792.1,412 792.9,411.9 793.7,412.1 794.5,412 795.3,411.8 796.1,412 796.9,411.9 797.7,411.8 798.4,411.9 799.2,411.8 800,411.9 800.8,411.8 801.6,412 802.4,412 803.2,412 804,412 804.8,411.8 805.6,411.9 806.4,411.9 807.2,411.9 808,411.8 808.8,412 809.6,411.7 810.4,412 811.2,412 811.9,411.8 812.7,411.8 813.5,412 814.3,411.9 815.1,412 815.9,411.8 816.7,411.8 817.5,412 818.3,411.9 819.1,411.9 819.9,411.9 820.7,411.9 821.5,412 822.3,411.9 823.1,411.9 823.9,411.9 824.7,411.8 825.4,411.9 826.2,412 827,411.9 827.8,411.9 828.6,411.9 829.4,411.8 830.2,411.8 831,411.9 831.8,411.9 832.6,412 833.4,411.8 834.2,411.9 835,412 835.8,412 836.6,411.9 837.4,411.7 838.1,411.8 838.9,412 839.7,411.9 840.5,411.8 841.3,411.8 842.1,411.8 842.9,411.9 843.7,411.7 844.5,411.8 845.3,412 846.1,411.8 846.9,411.8 847.7,411.6 848.5,411.6 849.3,411.8 850.1,411.6 850.9,411.6 851.6,411.7 852.4,411.8 853.2,411.5 854,411.5 854.8,411.6 855.6,411.7 856.4,411.4 857.2,411.5 858,411.5 858.8,411.4 859.6,411.5 860.4,411.3 861.2,411.3 862,411.3 862.8,411 863.6,410.8 864.4,410.7 865.1,410.1 865.9,409.7 866.7,409 867.5,407.9 868.3,406.7 869.1,405.5 869.9,402.9 870.7,398.9 871.5,395.7 872.3,392.1 873.1,388.1 873.9,384 874.7,378.4 875.5,371 876.3,362.6 877.1,353.7 877.8,344.4 878.6,335 879.4,325.1 880.2,315.5 881,307.4 881.8,304.4 882.6,310.1 883.4,319.6 884.2,328.6 885,337.4 885.8,345.4 886.6,352.5 887.4,360.6 888.2,370.8 889,380.7 889.8,386.2 890.6,390.1 891.3,393.4 892.1,396.3 892.9,398.8 893.7,400.4 894.5,401.8 895.3,402.8 896.1,403.7 896.9,404.6 897.7,405.2 898.5,405.8 899.3,406.1 900.1,406.6 900.9,407.1 901.7,407.5 902.5,407.8 903.3,408.2 904.1,408.7 904.8,408.9 905.6,409.1 906.4,409.4 907.2,409.6 908,409.9 908.8,410 909.6,410.3 910.4,410.3 911.2,410.4 912,410.9 912.8,410.9 913.6,410.8 914.4,411 915.2,411.2 916,410.9 916.8,411.2 917.5,410.9 918.3,411.1 919.1,411.1 919.9,411 920.7,411 921.5,410.9 922.3,410.8 923.1,410.8 923.9,410.6 924.7,410.6 925.5,410.6 926.3,410.6 927.1,410.6 927.9,410.7 928.7,410.8 929.5,410.9 930.3,411 931,411.1 931.8,411.3 932.6,411.4 933.4,411.4 934.2,411.6 935,411.6 935.8,411.4 936.6,411.7 937.4,411.5 938.2,411.8 939,411.7 939.8,411.8 940.6,411.8 941.4,411.8 942.2,411.8 943,411.7 943.8,411.7 944.5,411.7 945.3,411.8 946.1,411.7 946.9,411.7 947.7,411.8 948.5,412 949.3,411.8 950.1,411.8 950.9,411.9 951.7,411.8 952.5,411.8 953.3,411.9 954.1,411.8 954.9,411.9 955.7,411.9 956.5,411.9 957.2,411.9 958,411.9 958.8,411.8 959.6,411.7 960.4,411.9 961.2,412 962,411.9 962.8,412 963.6,411.9 964.4,411.9 965.2,412 966,411.8 966.8,411.8 967.6,411.7 968.4,411.7 969.2,411.8 970,411.7 970.7,411.9 971.5,411.9 972.3,411.9 973.1,411.9 973.9,411.8 974.7,411.9 975.5,411.7 976.3,411.8 977.1,411.9 977.9,411.9 978.7,412 979.5,412.1 980.3,411.9 981.1,411.9 981.9,411.9 982.7,412 983.5,411.9 984.2,411.7 985,411.8 985.8,411.8 986.6,411.9 987.4,411.8 988.2,411.8 989,411.8 989.8,411.9 990.6,411.8 991.4,412 992.2,411.9 993,411.8 993.8,411.9 994.6,411.8 995.4,411.6 996.2,411.8 996.9,411.6 997.7,411.7 998.5,411.7 999.3,411.5 1000.1,411.5 1000.9,411.5 1001.7,411.3 1002.5,411.1 1003.3,410.9 1004.1,411.2 1004.9,411.1 1005.7,411.1 1006.5,411.2 1007.3,411.2 1008.1,410.9 1008.9,410.8 1009.7,411.1 1010.4,410.5 1011.2,410.3 1012,410 1012.8,410 1013.6,409.8 1014.4,409.5 1015.2,409.4 1016,409.3 1016.8,409.2 1017.6,409.1 1018.4,408.9 1019.2,408.9 1020,408.3 1020.8,408.2 1021.6,408 1022.4,407.8 1023.1,407.7 1023.9,408.2 1024.7,408.4 1025.5,408.8 1026.3,409 1027.1,409.1 1027.9,409 1028.7,408.7 1029.5,408.8 1030.3,409.1 1031.1,409.5 1031.9,410.1 1032.7,410.5 1033.5,410.9 1034.3,411.1 1035.1,411.5 1035.9,411.5 1036.6,411.4 1037.4,411.5 1038.2,411.5 1039,411.6 1039.8,411.8 1040.6,411.6 1041.4,411.7 1042.2,411.7 1043,411.9 1043.8,411.7 1044.6,411.6 1045.4,411.7 1046.2,411.8 1047,411.8 1047.8,411.8 1048.6,411.8 1049.4,411.7 1050.1,411.8 1050.9,411.8 1051.7,411.8 1052.5,411.9 1053.3,412 1054.1,411.8 1054.9,411.9 1055.7,411.8 1056.5,412.1 1057.3,411.8 1058.1,411.9 1058.9,411.7 1059.7,412.1 1060.5,412.1 1061.3,411.8 1062.1,411.9 1062.8,411.9 1063.6,411.9 1064.4,411.9 1065.2,411.8 1066,412 1066.8,411.9 1067.6,411.8 1068.4,411.9 1069.2,412 1070,411.9 1070.8,411.8 1071.6,411.9 1072.4,411.9 1073.2,411.8 1074,411.8 1074.8,411.7 1075.6,411.9 1076.3,411.9 1077.1,411.8 1077.9,412.1 1078.7,411.9 1079.5,411.8 1080.3,411.9 1081.1,412 1081.9,411.8 1082.7,411.8 1083.5,411.9 1084.3,412 1085.1,411.9 1085.9,411.7 1086.7,411.7 1087.5,411.9 1088.3,412 1089.1,412.1 1089.8,411.9 1090.6,411.9 1091.4,411.9 1092.2,412.1 1093,411.9 1093.8,411.8 1094.6,412.1 1095.4,411.6 1096.2,411.8 1097,411.8 1097.8,412.1 1098.6,412 1099.4,411.7 1100.2,411.8 1101,412.3 1101.8,411.7 1102.6,411.8 1103.3,411.8 1104.1,412.1 1104.9,411.9 1105.7,412 1106.5,411.8 1107.3,411.6 1108.1,411.8 1108.9,411.7 1109.7,411.9 1110.5,412.1 1111.3,411.9 1112.1,411.7 1112.9,411.6 1113.7,411.9 1114.5,411.8 1115.3,412 1116,412.2 1116.8,411.9 1117.6,411.8 1118.4,412 1119.2,411.9 1120,412.3 1120.8,411.9 1121.6,411.6 1122.4,411.9 1123.2,411.8 1124,411.8 1124.8,412.1 1125.6,411.8 1126.4,412.1 1127.2,411.2 1128,411.8 1128.8,412.1 1129.5,412.2 1130.3,411.5 1131.1,411.7 1131.9,411.8 1132.7,412.2 1133.5,412 1134.3,412.2 1135.1,411.6 1135.9,412 1136.7,411.4 1137.5,411.7 1138.3,411.9 1139.1,411.5 1139.9,412.4 1140.7,412 1141.5,411.9 1142.2,411.5 1143,411.5 1143.8,411.6 1144.6,412.2 1145.4,411.8 1146.2,411.9 1147,411.2 1147.8,411.6 1148.6,411.2 1149.4,410.8 1150.2,411.2 1151,410.9 1151.8,411.1 1152.6,410.8 1153.4,410.6 1154.2,410.4 1155,410.2 1155.7,410.1 1156.5,409.3 1157.3,410.4 1158.1,410.3 1158.9,410.6 1159.7,411.3 1160.5,410.2 1161.3,410.4 1162.1,410.9 1162.9,410.5 1163.7,410.5 1164.5,409.5 1165.3,408.7 1166.1,408.7 1166.9,409.8 1167.7,410.4 1168.5,410 1169.2,409.9 1170,410.5 1170.8,410.2 1171.6,411 1172.4,410.3 1173.2,409.9 1174,410.1 1174.8,410.1 1175.6,410 1176.4,410.6 1177.2,410.9 1178,410.4 1178.8,410.7 1179.6,411.3 1180.4,410.8 1181.2,411.3 1182,410.9 1182.7,411.2 1183.5,411.4 1184.3,411.7 1185.1,411.3 1185.9,411.5 1186.7,410.7 1187.5,411.6 1188.3,412.2 1189.1,410.7 1189.9,412.5 1190.7,410.9 1191.5,411.9 1192.3,410.8 1193.1,411.5 1193.9,411.1 1194.7,411.3 1195.4,411.5 1196.2,411.3 1197,411.9 1197.8,411.5 1198.6,412.3 1199.4,412.1 1200.2,412 1201,411.8 1201.8,411.2 1202.6,412.2 1203.4,412.2 1204.2,412.4 1205,412 1205.8,411.6 1206.6,412.2 1207.4,412 1208.2,412.2 1208.9,411.8 1209.7,412.9 1210.5,411.6 1211.3,411.4 1212.1,412.3 1212.9,411.9 1213.7,412.4 1214.5,411.4 1215.3,411.6 1216.1,410.3 1216.9,412 1217.7,412.4 1218.5,412.2 1219.3,412.6 1220.1,411.8 1220.9,411.7 1221.7,411.4 1222.4,411.7 1223.2,412.1 1224,411.1 1224.8,411.6 1225.6,411.4 1226.4,412.6 1227.2,412.4 1228,412.3 1228.8,412.1 1229.6,413.2 1230.4,411.2 1231.2,412 1232,411.4 1232.8,411.4 1233.6,411 1234.4,411.5 1235.1,411.6 1235.9,412.3 1236.7,411.8 1237.5,410.8 1238.3,413 1239.1,412.3 1239.9,411.7 1240.7,410.8 1241.5,412.6" clip-path="url(#clipB)"/>
<polyline fill="none" stroke="#ff0000" stroke-width="2.1" stroke-linejoin="round" points="685.7,411.1 686.5,410.9 687.3,410.4 688.1,410.9 688.9,410.7 689.7,410.4 690.5,410.5 691.3,410.2 692.1,410.1 692.8,410.1 693.6,409.9 694.4,409.7 695.2,409.9 696,410 696.8,410.1 697.6,410 698.4,410 699.2,410.3 700,410.4 700.8,410.2 701.6,410.8 702.4,410.9 703.2,410.8 704,410.9 704.8,410.9 705.6,410.8 706.3,410.9 707.1,411 707.9,410.8 708.7,410.7 709.5,410.7 710.3,410.6 711.1,410.4 711.9,410.4 712.7,410.4 713.5,410 714.3,410 715.1,409.9 715.9,409.6 716.7,409.5 717.5,408.7 718.3,407.8 719,405.3 719.8,400.4 720.6,395.2 721.4,391.1 722.2,386.1 723,382.8 723.8,382 724.6,382.2 725.4,383 726.2,383.9 727,384.6 727.8,382.8 728.6,379.1 729.4,374.9 730.2,371.2 731,367.8 731.8,364.1 732.5,360.6 733.3,357.3 734.1,353.9 734.9,351 735.7,348.5 736.5,346 737.3,343.4 738.1,341.1 738.9,338.6 739.7,338.9 740.5,340.9 741.3,346.5 742.1,356 742.9,366.7 743.7,377.3 744.5,386.6 745.2,393.1 746,397 746.8,400.3 747.6,402.5 748.4,404.2 749.2,405.6 750,406.6 750.8,407.3 751.6,408.2 752.4,408.8 753.2,409.2 754,409.2 754.8,409.3 755.6,409.8 756.4,409.9 757.2,410.1 758,410.1 758.7,410.5 759.5,410.2 760.3,410.3 761.1,410.6 761.9,410.7 762.7,410.8 763.5,410.7 764.3,410.6 765.1,411 765.9,411.1 766.7,411 767.5,411 768.3,411 769.1,411.2 769.9,411 770.7,411 771.5,411.4 772.2,411.2 773,411.1 773.8,411.1 774.6,411.3 775.4,411.5 776.2,411.3 777,411.4 777.8,411.3 778.6,411 779.4,411.3 780.2,411.2 781,411.4 781.8,411.1 782.6,411.3 783.4,411.3 784.2,410.9 785,411.1 785.7,411.1 786.5,411.5 787.3,411 788.1,410.9 788.9,411.2 789.7,411.2 790.5,411.3 791.3,411 792.1,411.4 792.9,411.1 793.7,410.9 794.5,411.2 795.3,410.9 796.1,411.2 796.9,411.2 797.7,411.1 798.4,411.2 799.2,411.2 800,411.2 800.8,411.4 801.6,411.2 802.4,411.1 803.2,411 804,411.2 804.8,411.1 805.6,411.3 806.4,411.2 807.2,411.2 808,411.2 808.8,411.2 809.6,411.1 810.4,411 811.2,411.1 811.9,411.1 812.7,411.4 813.5,411.3 814.3,411.2 815.1,411.2 815.9,411.1 816.7,411.4 817.5,411.2 818.3,411.2 819.1,411.2 819.9,411.3 820.7,411.2 821.5,411.2 822.3,411.1 823.1,411.5 823.9,411.3 824.7,411 825.4,411.2 826.2,411.3 827,411.2 827.8,411.4 828.6,411 829.4,411 830.2,411.1 831,411 831.8,411.1 832.6,411 833.4,411.1 834.2,411 835,411.2 835.8,411.2 836.6,411.3 837.4,411.2 838.1,411.3 838.9,410.9 839.7,410.8 840.5,410.9 841.3,410.8 842.1,410.8 842.9,410.7 843.7,410.9 844.5,410.7 845.3,410.9 846.1,410.7 846.9,410.5 847.7,410.5 848.5,410.5 849.3,410.1 850.1,410.1 850.9,410.3 851.6,410.3 852.4,410.1 853.2,409.8 854,410.1 854.8,409.7 855.6,409.7 856.4,409.7 857.2,409.4 858,409.5 858.8,409.5 859.6,409.2 860.4,409.4 861.2,408.8 862,409 862.8,408.5 863.6,407.3 864.4,406 865.1,404.9 865.9,403.5 866.7,400.8 867.5,397.1 868.3,393.6 869.1,389.2 869.9,380.7 870.7,367.3 871.5,355.4 872.3,343.5 873.1,330.3 873.9,315.6 874.7,295.7 875.5,270.8 876.3,241.3 877.1,210.9 877.8,180 878.6,147.2 879.4,113.5 880.2,80.3 881,52.2 881.8,42.1 882.6,61.8 883.4,94 884.2,125.2 885,155.5 885.8,182.8 886.6,207.3 887.4,235.5 888.2,270.4 889,303.6 889.8,322.8 890.6,336 891.3,347.7 892.1,357.9 892.9,366 893.7,371.7 894.5,376.5 895.3,380.3 896.1,383.5 896.9,385.8 897.7,388.1 898.5,389.6 899.3,391.5 900.1,393 900.9,394.5 901.7,396.2 902.5,397.2 903.3,398.7 904.1,399.7 904.8,401.1 905.6,402 906.4,402.8 907.2,403.5 908,404 908.8,404.5 909.6,405.3 910.4,405.8 911.2,406.5 912,406.9 912.8,407.4 913.6,407.8 914.4,408 915.2,408 916,408.1 916.8,408.4 917.5,408.3 918.3,408.3 919.1,408.1 919.9,408.2 920.7,408 921.5,408.1 922.3,407.4 923.1,407.3 923.9,406.9 924.7,406.9 925.5,406.9 926.3,406.9 927.1,406.8 927.9,407 928.7,407.6 929.5,408 930.3,408.5 931,408.8 931.8,409.2 932.6,409.5 933.4,409.6 934.2,409.9 935,410.2 935.8,410.2 936.6,410.3 937.4,410.3 938.2,410.4 939,410.6 939.8,410.5 940.6,410.7 941.4,410.9 942.2,410.8 943,410.6 943.8,411 944.5,410.6 945.3,411 946.1,410.9 946.9,411.2 947.7,411.1 948.5,410.9 949.3,411.3 950.1,411.2 950.9,411.1 951.7,411.1 952.5,411.4 953.3,411.4 954.1,411.2 954.9,411.2 955.7,411.1 956.5,411.2 957.2,411.1 958,411 958.8,411.4 959.6,411.1 960.4,411.1 961.2,411 962,411.3 962.8,411.2 963.6,411.2 964.4,411.3 965.2,411.1 966,411.2 966.8,411.3 967.6,411.2 968.4,411.3 969.2,411.4 970,411.3 970.7,411.2 971.5,411.2 972.3,411.2 973.1,411.1 973.9,410.9 974.7,411.4 975.5,411.1 976.3,411.2 977.1,411.4 977.9,411.3 978.7,411.2 979.5,411.2 980.3,411.3 981.1,411.1 981.9,411.2 982.7,411.1 983.5,411 984.2,411.4 985,411.1 985.8,411.1 986.6,411.3 987.4,411.2 988.2,411.2 989,411.3 989.8,411 990.6,411.2 991.4,411.3 992.2,410.8 993,410.9 993.8,410.7 994.6,410.7 995.4,410.6 996.2,410.5 996.9,410.6 997.7,410 998.5,409.8 999.3,409.3 1000.1,409 1000.9,408.3 1001.7,407.5 1002.5,407.3 1003.3,407.3 1004.1,407.4 1004.9,407.5 1005.7,407.9 1006.5,407.6 1007.3,407.5 1008.1,407.2 1008.9,406.7 1009.7,405.8 1010.4,404.7 1011.2,403.8 1012,402.4 1012.8,401.9 1013.6,401.1 1014.4,400.8 1015.2,400 1016,399.3 1016.8,398.8 1017.6,398 1018.4,397 1019.2,395.8 1020,394.5 1020.8,393.2 1021.6,392.3 1022.4,391 1023.1,391 1023.9,392.2 1024.7,394.3 1025.5,395.6 1026.3,396.9 1027.1,396.7 1027.9,396.5 1028.7,395.6 1029.5,395.8 1030.3,397.4 1031.1,399.4 1031.9,401.8 1032.7,403.9 1033.5,406.1 1034.3,407.4 1035.1,408.5 1035.9,408.9 1036.6,409.1 1037.4,409.7 1038.2,409.7 1039,410.2 1039.8,410.3 1040.6,410.4 1041.4,410.2 1042.2,410.6 1043,410.6 1043.8,410.6 1044.6,410.4 1045.4,410.7 1046.2,410.5 1047,410.7 1047.8,410.8 1048.6,410.7 1049.4,411 1050.1,411 1050.9,410.9 1051.7,411.2 1052.5,411.2 1053.3,411.2 1054.1,411.1 1054.9,411 1055.7,411 1056.5,411.2 1057.3,411.1 1058.1,411.2 1058.9,411.4 1059.7,411.1 1060.5,411.3 1061.3,411.1 1062.1,411.3 1062.8,411.3 1063.6,411.2 1064.4,411.3 1065.2,411.4 1066,411.1 1066.8,411.2 1067.6,411.2 1068.4,411.2 1069.2,411.3 1070,411.6 1070.8,411.3 1071.6,411.3 1072.4,411.1 1073.2,411.4 1074,411.1 1074.8,411.2 1075.6,411 1076.3,411.3 1077.1,411.2 1077.9,411.2 1078.7,411.1 1079.5,411 1080.3,411.1 1081.1,411.4 1081.9,410.9 1082.7,411.5 1083.5,411.1 1084.3,411 1085.1,411.3 1085.9,411.2 1086.7,411.2 1087.5,411.4 1088.3,411.1 1089.1,411.4 1089.8,411.1 1090.6,411.1 1091.4,411 1092.2,410.9 1093,411.1 1093.8,411.1 1094.6,411.2 1095.4,411.2 1096.2,411 1097,411 1097.8,411.1 1098.6,411.2 1099.4,411 1100.2,411.4 1101,411.3 1101.8,411.2 1102.6,411 1103.3,411.5 1104.1,411.4 1104.9,411.5 1105.7,411 1106.5,411 1107.3,410.8 1108.1,410.7 1108.9,411.5 1109.7,411.2 1110.5,411.3 1111.3,411.5 1112.1,411.2 1112.9,411.3 1113.7,411.2 1114.5,411.3 1115.3,411.6 1116,411 1116.8,411 1117.6,411.3 1118.4,411.8 1119.2,411.8 1120,411.6 1120.8,411.1 1121.6,411 1122.4,411.2 1123.2,411.2 1124,411.9 1124.8,411.1 1125.6,411.4 1126.4,411.3 1127.2,411.5 1128,411.8 1128.8,411 1129.5,411.1 1130.3,411.5 1131.1,411.7 1131.9,411.4 1132.7,410.9 1133.5,411 1134.3,411.2 1135.1,410.9 1135.9,411 1136.7,411.4 1137.5,410.8 1138.3,411 1139.1,411.2 1139.9,410.4 1140.7,410.6 1141.5,411.2 1142.2,410.3 1143,410.4 1143.8,410.4 1144.6,410.2 1145.4,410.2 1146.2,410.1 1147,409.1 1147.8,408.5 1148.6,408.3 1149.4,407.5 1150.2,407.2 1151,406.4 1151.8,405.2 1152.6,404.2 1153.4,402.6 1154.2,401.9 1155,400.2 1155.7,399.3 1156.5,398.7 1157.3,399.7 1158.1,401.4 1158.9,402.8 1159.7,403 1160.5,403 1161.3,402.5 1162.1,402.3 1162.9,400.9 1163.7,398.7 1164.5,396.4 1165.3,394.7 1166.1,393.4 1166.9,395.3 1167.7,397.4 1168.5,400.4 1169.2,402.1 1170,402.5 1170.8,402.3 1171.6,402.4 1172.4,401.7 1173.2,399.6 1174,399.3 1174.8,400.6 1175.6,400.5 1176.4,401.8 1177.2,402.6 1178,403.2 1178.8,404.3 1179.6,404.2 1180.4,405.4 1181.2,406.1 1182,406.5 1182.7,408.1 1183.5,407.1 1184.3,408.6 1185.1,407.9 1185.9,408.5 1186.7,408.7 1187.5,409.4 1188.3,408.2 1189.1,410.6 1189.9,409.5 1190.7,409.8 1191.5,409.9 1192.3,407.7 1193.1,408 1193.9,406.3 1194.7,407.4 1195.4,408.2 1196.2,408.8 1197,410.4 1197.8,410.9 1198.6,409.4 1199.4,409.9 1200.2,411 1201,410.5 1201.8,410.5 1202.6,409.9 1203.4,410.5 1204.2,411.2 1205,410.3 1205.8,411.2 1206.6,410.5 1207.4,411.3 1208.2,413 1208.9,409.9 1209.7,411.6 1210.5,410.3 1211.3,410.6 1212.1,411.4 1212.9,411.9 1213.7,409.8 1214.5,411 1215.3,410.2 1216.1,410.9 1216.9,410.5 1217.7,411 1218.5,412.1 1219.3,411.8 1220.1,410.9 1220.9,412.1 1221.7,411.4 1222.4,411.3 1223.2,410.3 1224,409.9 1224.8,412.8 1225.6,410.9 1226.4,409.8 1227.2,412.3 1228,412 1228.8,410.3 1229.6,411 1230.4,411.6 1231.2,411 1232,410.6 1232.8,411.1 1233.6,410.9 1234.4,411 1235.1,410.8 1235.9,411 1236.7,410.8 1237.5,411.3 1238.3,410.2 1239.1,411.4 1239.9,411.6 1240.7,412.4 1241.5,411.8" clip-path="url(#clipB)"/>
<polyline fill="none" stroke="#0000ff" stroke-width="2.1" stroke-linejoin="round" points="685.7,411.9 686.5,411.9 687.3,411.8 688.1,412 688.9,412 689.7,412.2 690.5,411.9 691.3,411.8 692.1,411.8 692.8,411.9 693.6,411.8 694.4,411.9 695.2,412 696,412 696.8,412 697.6,411.8 698.4,411.8 699.2,411.8 700,411.9 700.8,411.6 701.6,411.9 702.4,411.8 703.2,411.9 704,411.8 704.8,412.1 705.6,411.8 706.3,411.9 707.1,411.9 707.9,412 708.7,412 709.5,411.7 710.3,411.8 711.1,412.1 711.9,411.9 712.7,411.9 713.5,411.7 714.3,411.8 715.1,411.7 715.9,411.7 716.7,411.6 717.5,411.5 718.3,411.3 719,410.3 719.8,408.8 720.6,407.2 721.4,406.2 722.2,404.8 723,403.9 723.8,403.7 724.6,403.7 725.4,403.8 726.2,404 727,404.1 727.8,403.5 728.6,402.7 729.4,401.7 730.2,400.4 731,399.5 731.8,398.4 732.5,397.4 733.3,396.2 734.1,395.5 734.9,394.6 735.7,393.6 736.5,393.1 737.3,392.6 738.1,391.5 738.9,390.9 739.7,390.9 740.5,391.5 741.3,393.4 742.1,396.1 742.9,399.2 743.7,402.3 744.5,404.9 745.2,406.5 746,408 746.8,408.7 747.6,409.3 748.4,410 749.2,410.4 750,410.4 750.8,411 751.6,410.8 752.4,411.3 753.2,411.3 754,411.5 754.8,411.6 755.6,411.4 756.4,411.5 757.2,411.5 758,411.8 758.7,411.7 759.5,411.8 760.3,411.7 761.1,411.7 761.9,411.7 762.7,411.7 763.5,411.9 764.3,411.7 765.1,411.9 765.9,411.6 766.7,411.9 767.5,411.7 768.3,411.9 769.1,411.8 769.9,411.9 770.7,412.1 771.5,411.8 772.2,412 773,412.1 773.8,411.9 774.6,411.8 775.4,411.8 776.2,412 777,412.1 777.8,412.3 778.6,412 779.4,412 780.2,411.9 781,411.7 781.8,411.9 782.6,412 783.4,412.1 784.2,412 785,412 785.7,411.9 786.5,411.9 787.3,411.9 788.1,411.9 788.9,411.9 789.7,411.8 790.5,411.7 791.3,412 792.1,411.9 792.9,411.9 793.7,411.9 794.5,411.8 795.3,411.8 796.1,412 796.9,411.7 797.7,411.8 798.4,411.8 799.2,412 800,411.8 800.8,411.9 801.6,412 802.4,411.9 803.2,412 804,412 804.8,411.8 805.6,411.8 806.4,412 807.2,411.8 808,411.7 808.8,411.7 809.6,411.9 810.4,411.9 811.2,411.7 811.9,411.9 812.7,411.8 813.5,411.7 814.3,411.7 815.1,411.9 815.9,411.9 816.7,411.8 817.5,411.9 818.3,411.7 819.1,411.8 819.9,411.7 820.7,411.9 821.5,411.8 822.3,412 823.1,411.9 823.9,411.7 824.7,411.9 825.4,412.1 826.2,412 827,412 827.8,412.1 828.6,411.9 829.4,411.8 830.2,412 831,411.8 831.8,412.2 832.6,411.8 833.4,411.9 834.2,411.6 835,411.9 835.8,411.9 836.6,411.9 837.4,411.9 838.1,411.9 838.9,411.8 839.7,411.8 840.5,411.8 841.3,411.7 842.1,411.9 842.9,411.5 843.7,411.9 844.5,411.6 845.3,411.7 846.1,411.5 846.9,411.7 847.7,411.5 848.5,411.5 849.3,411.4 850.1,411.3 850.9,411.5 851.6,411.4 852.4,411.8 853.2,411.4 854,411.3 854.8,411.4 855.6,411.3 856.4,411.3 857.2,411.5 858,411.1 858.8,411.3 859.6,411.3 860.4,411 861.2,411 862,410.9 862.8,410.8 863.6,410.5 864.4,409.9 865.1,409.6 865.9,408.8 866.7,407.9 867.5,406.5 868.3,404.9 869.1,403.4 869.9,399.8 870.7,394.9 871.5,390 872.3,385.5 873.1,380.2 873.9,374.4 874.7,367.1 875.5,356.9 876.3,345.7 877.1,333.8 877.8,321.4 878.6,308.8 879.4,295.6 880.2,282.6 881,271.7 881.8,267.9 882.6,275.6 883.4,287.9 884.2,300.3 885,312.3 885.8,322.5 886.6,332 887.4,343.5 888.2,357 889,370.1 889.8,377.3 890.6,382.7 891.3,387.3 892.1,391 892.9,394.3 893.7,396.4 894.5,398.4 895.3,399.6 896.1,400.9 896.9,402.1 897.7,403.1 898.5,403.5 899.3,404.3 900.1,404.7 900.9,405.2 901.7,406 902.5,406.4 903.3,407.2 904.1,407.4 904.8,407.6 905.6,408.4 906.4,408.4 907.2,408.8 908,408.9 908.8,409.3 909.6,409.5 910.4,409.6 911.2,410 912,410.2 912.8,410.6 913.6,410.5 914.4,410.6 915.2,410.8 916,410.7 916.8,411 917.5,410.9 918.3,410.8 919.1,410.8 919.9,410.5 920.7,410.6 921.5,410.8 922.3,410.2 923.1,410.5 923.9,410.4 924.7,410.3 925.5,410.2 926.3,409.8 927.1,410.2 927.9,410.2 928.7,410.6 929.5,410.7 930.3,410.4 931,410.7 931.8,411 932.6,411 933.4,411.2 934.2,411.3 935,411.6 935.8,411.7 936.6,411.6 937.4,411.6 938.2,411.7 939,411.5 939.8,411.4 940.6,411.7 941.4,411.9 942.2,411.9 943,411.6 943.8,411.7 944.5,411.7 945.3,411.7 946.1,411.7 946.9,411.8 947.7,411.8 948.5,411.9 949.3,412.1 950.1,411.8 950.9,411.9 951.7,411.8 952.5,412 953.3,411.8 954.1,411.8 954.9,411.9 955.7,412 956.5,412 957.2,411.8 958,411.8 958.8,411.6 959.6,411.9 960.4,411.8 961.2,411.7 962,412 962.8,411.8 963.6,412 964.4,411.9 965.2,411.8 966,411.9 966.8,411.8 967.6,412 968.4,411.9 969.2,412 970,411.9 970.7,411.5 971.5,411.9 972.3,411.9 973.1,411.9 973.9,412 974.7,411.6 975.5,412 976.3,411.6 977.1,411.9 977.9,411.7 978.7,411.9 979.5,412 980.3,411.9 981.1,411.7 981.9,411.9 982.7,412.2 983.5,411.6 984.2,412 985,411.9 985.8,411.7 986.6,412.1 987.4,412 988.2,411.8 989,411.8 989.8,411.8 990.6,412 991.4,411.7 992.2,411.9 993,411.8 993.8,411.9 994.6,411.5 995.4,411.7 996.2,411.6 996.9,411.6 997.7,411.4 998.5,411.5 999.3,411.2 1000.1,411.1 1000.9,410.6 1001.7,410.6 1002.5,410.5 1003.3,410.4 1004.1,410.4 1004.9,410.3 1005.7,410.6 1006.5,410.6 1007.3,410.3 1008.1,410.4 1008.9,410.2 1009.7,410.1 1010.4,409.6 1011.2,409.3 1012,408.5 1012.8,408.4 1013.6,408.2 1014.4,408.2 1015.2,407.8 1016,407.7 1016.8,407.5 1017.6,407.3 1018.4,406.9 1019.2,406.1 1020,406 1020.8,405.4 1021.6,405 1022.4,404.7 1023.1,404.5 1023.9,405.2 1024.7,405.6 1025.5,406 1026.3,406.7 1027.1,406.8 1027.9,406.7 1028.7,406.5 1029.5,406.4 1030.3,406.9 1031.1,407.4 1031.9,408.7 1032.7,409.2 1033.5,409.9 1034.3,410.5 1035.1,410.9 1035.9,411 1036.6,410.9 1037.4,411.5 1038.2,411.5 1039,411.6 1039.8,411.5 1040.6,411.4 1041.4,411.7 1042.2,411.9 1043,411.8 1043.8,411.8 1044.6,411.6 1045.4,411.7 1046.2,411.9 1047,411.6 1047.8,412 1048.6,411.8 1049.4,411.6 1050.1,412 1050.9,411.7 1051.7,411.7 1052.5,411.9 1053.3,411.8 1054.1,412.1 1054.9,411.8 1055.7,412 1056.5,412 1057.3,411.8 1058.1,411.9 1058.9,412 1059.7,411.9 1060.5,411.9 1061.3,412 1062.1,412.2 1062.8,411.9 1063.6,411.8 1064.4,412 1065.2,412 1066,412 1066.8,411.8 1067.6,412.1 1068.4,411.8 1069.2,411.6 1070,411.8 1070.8,411.9 1071.6,411.8 1072.4,411.8 1073.2,411.9 1074,411.9 1074.8,411.9 1075.6,411.8 1076.3,411.6 1077.1,411.9 1077.9,411.6 1078.7,412 1079.5,411.8 1080.3,412 1081.1,411.9 1081.9,411.9 1082.7,412.2 1083.5,411.9 1084.3,411.8 1085.1,411.8 1085.9,412.2 1086.7,412.1 1087.5,411.8 1088.3,412.1 1089.1,411.5 1089.8,411.8 1090.6,411.8 1091.4,411.9 1092.2,412 1093,411.8 1093.8,411.9 1094.6,411.6 1095.4,411.9 1096.2,411.8 1097,411.7 1097.8,411.7 1098.6,412.3 1099.4,411.5 1100.2,412.2 1101,412.1 1101.8,412 1102.6,412.1 1103.3,411.5 1104.1,411.9 1104.9,412.2 1105.7,412 1106.5,412.1 1107.3,412.1 1108.1,411.8 1108.9,411.8 1109.7,411.9 1110.5,412.2 1111.3,412.1 1112.1,411.7 1112.9,411.8 1113.7,412 1114.5,411.7 1115.3,412.4 1116,412.1 1116.8,411.9 1117.6,411.8 1118.4,411.6 1119.2,411.9 1120,411.8 1120.8,411.8 1121.6,412.2 1122.4,411.9 1123.2,411.5 1124,411.7 1124.8,412 1125.6,411.9 1126.4,411.4 1127.2,411.4 1128,411.3 1128.8,411.5 1129.5,411.9 1130.3,411.9 1131.1,412.4 1131.9,411.5 1132.7,411.5 1133.5,411.1 1134.3,412.1 1135.1,411.3 1135.9,411.7 1136.7,411.8 1137.5,411.7 1138.3,412.2 1139.1,411.8 1139.9,412.1 1140.7,411.9 1141.5,411.6 1142.2,411.8 1143,411.3 1143.8,411.7 1144.6,411.6 1145.4,411.5 1146.2,411.1 1147,410.9 1147.8,410.4 1148.6,410.7 1149.4,410.6 1150.2,410 1151,409.1 1151.8,409.1 1152.6,409.8 1153.4,408.5 1154.2,408.1 1155,407.4 1155.7,406.5 1156.5,406.7 1157.3,407.3 1158.1,408.6 1158.9,408.2 1159.7,408.7 1160.5,408.2 1161.3,407.7 1162.1,408.4 1162.9,407.6 1163.7,406.3 1164.5,406.5 1165.3,405.2 1166.1,405.2 1166.9,405.5 1167.7,406.3 1168.5,407.6 1169.2,407.4 1170,407.9 1170.8,408.3 1171.6,407.6 1172.4,406.6 1173.2,407.3 1174,406.8 1174.8,406.8 1175.6,406.9 1176.4,409 1177.2,408.3 1178,407.1 1178.8,408.9 1179.6,408.1 1180.4,408 1181.2,409.2 1182,408.5 1182.7,410 1183.5,411.2 1184.3,410.7 1185.1,409.7 1185.9,409.1 1186.7,410.4 1187.5,411.8 1188.3,411 1189.1,412.2 1189.9,411 1190.7,410 1191.5,411.4 1192.3,411.2 1193.1,410.8 1193.9,410.6 1194.7,410 1195.4,410.4 1196.2,410.4 1197,411.8 1197.8,410.5 1198.6,411 1199.4,412 1200.2,411.9 1201,412 1201.8,412.7 1202.6,410.2 1203.4,411.1 1204.2,411.5 1205,410.8 1205.8,411.7 1206.6,411.7 1207.4,410.7 1208.2,412.4 1208.9,412.3 1209.7,412.9 1210.5,412.2 1211.3,411 1212.1,412.1 1212.9,410.6 1213.7,412.2 1214.5,411.6 1215.3,412.6 1216.1,411.2 1216.9,410.2 1217.7,412 1218.5,413 1219.3,411.9 1220.1,411.2 1220.9,412.5 1221.7,410.2 1222.4,412.8 1223.2,411.3 1224,410.6 1224.8,411.6 1225.6,410.7 1226.4,411.4 1227.2,412.1 1228,412.2 1228.8,410.2 1229.6,413.3 1230.4,411.6 1231.2,412.5 1232,412.2 1232.8,411.1 1233.6,412.6 1234.4,413.2 1235.1,410.7 1235.9,410.7 1236.7,411.8 1237.5,412.6 1238.3,412.7 1239.1,411.5 1239.9,411.4 1240.7,411.4 1241.5,411.2" clip-path="url(#clipB)"/>
<polyline fill="none" stroke="#ff00ff" stroke-width="2.1" stroke-linejoin="round" points="685.7,411.9 686.5,411.8 687.3,411.9 688.1,411.8 688.9,411.9 689.7,411.8 690.5,412 691.3,411.9 692.1,412.1 692.8,411.8 693.6,412 694.4,412 695.2,412 696,412 696.8,412 697.6,411.8 698.4,411.8 699.2,411.8 700,412 700.8,411.9 701.6,412.2 702.4,411.8 703.2,412 704,411.7 704.8,411.8 705.6,411.6 706.3,411.8 707.1,412 707.9,411.6 708.7,411.7 709.5,411.7 710.3,411.6 711.1,411.9 711.9,412.2 712.7,411.9 713.5,411.9 714.3,411.7 715.1,411.8 715.9,411.6 716.7,411.7 717.5,411.2 718.3,410.9 719,410.2 719.8,408.4 720.6,406.8 721.4,405.5 722.2,404.1 723,402.9 723.8,402.7 724.6,402.7 725.4,402.9 726.2,403.3 727,403.6 727.8,402.9 728.6,401.9 729.4,400.4 730.2,399.2 731,398 731.8,397 732.5,395.8 733.3,395 734.1,393.6 734.9,392.5 735.7,392 736.5,391.1 737.3,390.3 738.1,389.6 738.9,388.7 739.7,389 740.5,389.6 741.3,391.4 742.1,394.5 742.9,398.1 743.7,401 744.5,404.1 745.2,406.2 746,407.6 746.8,408.4 747.6,409.3 748.4,409.7 749.2,410.2 750,410.4 750.8,410.6 751.6,410.9 752.4,411 753.2,411 754,411.2 754.8,411.7 755.6,411.3 756.4,411.4 757.2,411.4 758,411.3 758.7,411.6 759.5,411.6 760.3,412 761.1,411.5 761.9,411.7 762.7,411.8 763.5,411.8 764.3,411.7 765.1,412.1 765.9,411.5 766.7,411.8 767.5,411.9 768.3,411.7 769.1,411.7 769.9,411.8 770.7,412 771.5,411.7 772.2,411.9 773,412 773.8,411.9 774.6,411.9 775.4,412 776.2,411.8 777,412 777.8,411.8 778.6,411.8 779.4,411.8 780.2,412 781,411.9 781.8,411.8 782.6,411.8 783.4,411.9 784.2,411.8 785,411.9 785.7,411.9 786.5,411.7 787.3,411.7 788.1,411.6 788.9,411.8 789.7,412 790.5,411.9 791.3,411.7 792.1,411.9 792.9,411.7 793.7,411.9 794.5,411.8 795.3,412.1 796.1,411.9 796.9,411.8 797.7,411.8 798.4,411.9 799.2,412 800,411.9 800.8,411.9 801.6,412 802.4,411.9 803.2,412 804,412 804.8,411.6 805.6,411.8 806.4,411.7 807.2,412 808,412 808.8,412.1 809.6,412.1 810.4,412.1 811.2,411.8 811.9,412 812.7,412 813.5,412 814.3,411.8 815.1,412 815.9,411.8 816.7,412 817.5,411.8 818.3,411.9 819.1,411.8 819.9,412.1 820.7,411.9 821.5,411.9 822.3,412 823.1,411.8 823.9,411.9 824.7,411.8 825.4,412 826.2,411.9 827,412.1 827.8,411.8 828.6,412.1 829.4,412 830.2,411.9 831,411.8 831.8,411.9 832.6,412.2 833.4,412.1 834.2,412 835,411.9 835.8,412.1 836.6,412 837.4,411.8 838.1,411.9 838.9,411.8 839.7,411.8 840.5,412 841.3,411.9 842.1,411.8 842.9,411.7 843.7,411.8 844.5,411.6 845.3,411.8 846.1,411.7 846.9,411.6 847.7,411.6 848.5,411.7 849.3,411.5 850.1,411.6 850.9,411.6 851.6,411.2 852.4,411.6 853.2,411.2 854,411.4 854.8,411.1 855.6,411.3 856.4,411.4 857.2,411.2 858,411.2 858.8,411.1 859.6,411.2 860.4,411.3 861.2,411 862,411 862.8,410.8 863.6,410.3 864.4,409.7 865.1,409.1 865.9,408.5 866.7,407.1 867.5,405.5 868.3,404.1 869.1,402.6 869.9,398.8 870.7,392.8 871.5,387.6 872.3,382.8 873.1,376.5 873.9,370.5 874.7,362.1 875.5,351.3 876.3,338.3 877.1,325 877.8,311.6 878.6,297.5 879.4,282.9 880.2,268.6 881,256.2 881.8,252 882.6,260.4 883.4,274.8 884.2,288.2 885,301 885.8,312.9 886.6,323.5 887.4,335.8 888.2,351 889,365.4 889.8,373.5 890.6,379.7 891.3,384.4 892.1,388.9 892.9,392.4 893.7,394.8 894.5,396.9 895.3,398.6 896.1,399.6 896.9,401.1 897.7,402 898.5,402.7 899.3,403.4 900.1,404 900.9,404.6 901.7,405.3 902.5,406 903.3,406.1 904.1,406.9 904.8,407.4 905.6,407.8 906.4,408.3 907.2,408.6 908,408.8 908.8,409 909.6,409.2 910.4,409.7 911.2,409.7 912,410.2 912.8,410.1 913.6,410.1 914.4,410.8 915.2,410.5 916,410.5 916.8,410.7 917.5,410.4 918.3,410.8 919.1,410.7 919.9,410.5 920.7,410.4 921.5,410.5 922.3,410.5 923.1,410.1 923.9,409.9 924.7,410 925.5,410.1 926.3,410.2 927.1,409.6 927.9,410.1 928.7,410.5 929.5,410.7 930.3,410.4 931,410.6 931.8,411 932.6,411.2 933.4,411.1 934.2,411.2 935,411.4 935.8,411.6 936.6,411.4 937.4,411.2 938.2,411.7 939,411.7 939.8,411.8 940.6,411.8 941.4,411.5 942.2,411.6 943,411.9 943.8,411.9 944.5,411.8 945.3,411.9 946.1,411.8 946.9,411.8 947.7,412.1 948.5,411.6 949.3,412 950.1,411.7 950.9,411.8 951.7,411.9 952.5,412.2 953.3,412 954.1,411.7 954.9,411.8 955.7,412 956.5,412.3 957.2,411.9 958,412.1 958.8,411.9 959.6,412.1 960.4,411.7 961.2,412 962,411.9 962.8,411.9 963.6,412 964.4,411.8 965.2,411.8 966,411.9 966.8,412 967.6,411.8 968.4,412.1 969.2,411.9 970,411.9 970.7,412.3 971.5,412.1 972.3,412 973.1,411.6 973.9,411.7 974.7,412 975.5,411.7 976.3,412 977.1,411.7 977.9,412 978.7,412 979.5,412.1 980.3,411.9 981.1,411.8 981.9,411.9 982.7,411.4 983.5,412 984.2,411.7 985,411.8 985.8,411.9 986.6,411.9 987.4,412 988.2,411.8 989,411.8 989.8,411.9 990.6,412 991.4,412 992.2,411.8 993,412 993.8,411.9 994.6,411.4 995.4,411.8 996.2,411.7 996.9,411.4 997.7,411.4 998.5,411.3 999.3,411.1 1000.1,411 1000.9,410.7 1001.7,410.6 1002.5,410.2 1003.3,410.3 1004.1,410.4 1004.9,410.4 1005.7,410.5 1006.5,410.6 1007.3,410.4 1008.1,410.4 1008.9,410.5 1009.7,410 1010.4,409.4 1011.2,408.9 1012,408.5 1012.8,408 1013.6,407.7 1014.4,407.5 1015.2,407.5 1016,407 1016.8,407.2 1017.6,406.8 1018.4,406.1 1019.2,405.9 1020,405.3 1020.8,404.7 1021.6,404.3 1022.4,404 1023.1,403.8 1023.9,404.5 1024.7,405.1 1025.5,405.6 1026.3,406.1 1027.1,406.2 1027.9,406 1028.7,405.8 1029.5,406 1030.3,406.7 1031.1,407.1 1031.9,408.3 1032.7,408.8 1033.5,409.8 1034.3,410.2 1035.1,410.9 1035.9,411 1036.6,411 1037.4,411.2 1038.2,411.3 1039,411.4 1039.8,411.6 1040.6,411.7 1041.4,411.6 1042.2,411.8 1043,411.5 1043.8,411.8 1044.6,411.8 1045.4,411.7 1046.2,411.5 1047,411.7 1047.8,411.7 1048.6,411.7 1049.4,411.5 1050.1,411.7 1050.9,412 1051.7,412 1052.5,411.8 1053.3,411.8 1054.1,411.9 1054.9,411.8 1055.7,411.7 1056.5,412 1057.3,411.7 1058.1,411.7 1058.9,412.3 1059.7,412 1060.5,411.8 1061.3,411.9 1062.1,411.9 1062.8,411.8 1063.6,411.8 1064.4,412 1065.2,412.3 1066,411.8 1066.8,411.8 1067.6,411.8 1068.4,411.9 1069.2,411.8 1070,411.8 1070.8,412 1071.6,411.9 1072.4,411.8 1073.2,412 1074,411.9 1074.8,411.7 1075.6,411.6 1076.3,411.8 1077.1,411.6 1077.9,411.9 1078.7,411.9 1079.5,411.7 1080.3,411.9 1081.1,412 1081.9,412.1 1082.7,411.9 1083.5,412 1084.3,412.1 1085.1,412.1 1085.9,411.8 1086.7,411.8 1087.5,412 1088.3,412 1089.1,411.9 1089.8,412.7 1090.6,412 1091.4,411.7 1092.2,411.7 1093,412 1093.8,411.9 1094.6,412.2 1095.4,412.2 1096.2,411.9 1097,412.1 1097.8,411.6 1098.6,411.7 1099.4,411.8 1100.2,411.8 1101,412 1101.8,411.9 1102.6,412.3 1103.3,411.8 1104.1,411.7 1104.9,411.7 1105.7,411.9 1106.5,411.5 1107.3,411.9 1108.1,411.9 1108.9,412 1109.7,412 1110.5,412.3 1111.3,412 1112.1,412 1112.9,412 1113.7,412.2 1114.5,412.3 1115.3,412.1 1116,412 1116.8,411.6 1117.6,412.2 1118.4,411.8 1119.2,412 1120,412 1120.8,412.2 1121.6,411.3 1122.4,411.8 1123.2,411.9 1124,411.7 1124.8,412.2 1125.6,412.2 1126.4,411.8 1127.2,412.3 1128,411.9 1128.8,411.4 1129.5,412.3 1130.3,411.9 1131.1,411.7 1131.9,412.4 1132.7,411.8 1133.5,411.9 1134.3,412.4 1135.1,411.9 1135.9,411.6 1136.7,411.5 1137.5,411.9 1138.3,411.3 1139.1,411.7 1139.9,411.7 1140.7,412 1141.5,411.8 1142.2,411.4 1143,411.6 1143.8,411 1144.6,411.3 1145.4,411.3 1146.2,410.3 1147,411.2 1147.8,410.6 1148.6,410 1149.4,410.2 1150.2,409.7 1151,409.4 1151.8,410.1 1152.6,408.3 1153.4,408.6 1154.2,407.7 1155,406.5 1155.7,406.7 1156.5,406.5 1157.3,406.8 1158.1,408 1158.9,407.8 1159.7,408.2 1160.5,408.3 1161.3,408.4 1162.1,407.6 1162.9,408.3 1163.7,406.7 1164.5,405.9 1165.3,404.2 1166.1,403 1166.9,404.7 1167.7,405.4 1168.5,407.8 1169.2,407.4 1170,408.7 1170.8,408.6 1171.6,408.2 1172.4,408.1 1173.2,406.5 1174,405.9 1174.8,406.4 1175.6,408.1 1176.4,408.8 1177.2,408.4 1178,407.6 1178.8,409.9 1179.6,409.7 1180.4,408.5 1181.2,409.2 1182,409.3 1182.7,410 1183.5,410 1184.3,410.3 1185.1,410.7 1185.9,412 1186.7,411 1187.5,410.2 1188.3,411.6 1189.1,410.6 1189.9,411.2 1190.7,411.5 1191.5,410.3 1192.3,410.9 1193.1,411.4 1193.9,411.3 1194.7,409.7 1195.4,410.5 1196.2,411.6 1197,410.8 1197.8,411.5 1198.6,410.5 1199.4,412.1 1200.2,412.5 1201,412.5 1201.8,412.3 1202.6,412.1 1203.4,412.2 1204.2,412.1 1205,412.5 1205.8,411.2 1206.6,410.9 1207.4,412.5 1208.2,410.8 1208.9,411 1209.7,410.9 1210.5,412.2 1211.3,412.6 1212.1,410.9 1212.9,413.5 1213.7,412.1 1214.5,412.3 1215.3,412.3 1216.1,412.5 1216.9,412.1 1217.7,412.1 1218.5,411.7 1219.3,412.7 1220.1,412 1220.9,411.5 1221.7,411.9 1222.4,412.7 1223.2,412.4 1224,411.5 1224.8,412.1 1225.6,412.1 1226.4,412 1227.2,411.3 1228,411.6 1228.8,409.1 1229.6,410.7 1230.4,411.4 1231.2,411.2 1232,412.4 1232.8,411.8 1233.6,411.2 1234.4,410.7 1235.1,412 1235.9,412.3 1236.7,411.7 1237.5,412.2 1238.3,412.2 1239.1,411.5 1239.9,410.7 1240.7,412.4 1241.5,410.3" clip-path="url(#clipB)"/>
<polyline fill="none" stroke="#008000" stroke-width="2.1" stroke-linejoin="round" points="685.7,411.9 686.5,412.1 687.3,411.8 688.1,411.9 688.9,411.8 689.7,412.1 690.5,411.8 691.3,411.8 692.1,412 692.8,412 693.6,411.8 694.4,411.6 695.2,411.7 696,412.1 696.8,411.7 697.6,412 698.4,411.9 699.2,411.9 700,411.7 700.8,411.8 701.6,411.9 702.4,411.8 703.2,412 704,411.9 704.8,411.7 705.6,411.9 706.3,412 707.1,411.7 707.9,411.9 708.7,411.9 709.5,411.9 710.3,411.9 711.1,412 711.9,411.9 712.7,411.9 713.5,411.9 714.3,412.1 715.1,411.9 715.9,411.9 716.7,411.6 717.5,411.6 718.3,411.8 719,411.5 719.8,410.8 720.6,410.3 721.4,409.9 722.2,409.5 723,409.1 723.8,409 724.6,409.1 725.4,408.9 726.2,408.9 727,409.2 727.8,408.9 728.6,408.8 729.4,408.3 730.2,408 731,407.4 731.8,406.9 732.5,406.8 733.3,406.4 734.1,406.1 734.9,405.8 735.7,405.6 736.5,405.1 737.3,405 738.1,404.8 738.9,404.6 739.7,404.5 740.5,404.5 741.3,405.2 742.1,406.2 742.9,407.4 743.7,408.5 744.5,409.3 745.2,409.9 746,410.3 746.8,410.8 747.6,411.2 748.4,411.3 749.2,411.3 750,411.4 750.8,411.5 751.6,411.5 752.4,411.6 753.2,411.6 754,411.6 754.8,411.7 755.6,411.6 756.4,411.8 757.2,411.8 758,411.6 758.7,411.8 759.5,411.6 760.3,412.1 761.1,411.8 761.9,411.8 762.7,411.6 763.5,411.7 764.3,411.9 765.1,411.8 765.9,412 766.7,412 767.5,411.8 768.3,411.8 769.1,411.7 769.9,412.2 770.7,411.9 771.5,411.8 772.2,411.7 773,411.9 773.8,411.9 774.6,411.8 775.4,411.5 776.2,411.8 777,412 777.8,412 778.6,411.8 779.4,412 780.2,411.8 781,411.9 781.8,411.9 782.6,411.9 783.4,412.1 784.2,412 785,411.9 785.7,411.9 786.5,411.9 787.3,411.9 788.1,411.6 788.9,412.1 789.7,411.7 790.5,411.8 791.3,412 792.1,411.9 792.9,412 793.7,411.9 794.5,411.9 795.3,411.8 796.1,411.9 796.9,411.8 797.7,412.1 798.4,411.7 799.2,411.9 800,412 800.8,411.8 801.6,411.9 802.4,411.9 803.2,411.9 804,412 804.8,412.1 805.6,411.9 806.4,411.9 807.2,412 808,411.9 808.8,412.2 809.6,411.8 810.4,412 811.2,412 811.9,411.8 812.7,411.8 813.5,411.9 814.3,411.8 815.1,411.9 815.9,412 816.7,411.7 817.5,412.2 818.3,412 819.1,411.9 819.9,411.8 820.7,411.9 821.5,411.9 822.3,411.9 823.1,411.8 823.9,411.9 824.7,411.9 825.4,411.9 826.2,412 827,412 827.8,411.9 828.6,411.9 829.4,411.8 830.2,412 831,412.1 831.8,411.8 832.6,412.1 833.4,411.8 834.2,412 835,412 835.8,411.9 836.6,412 837.4,411.8 838.1,411.8 838.9,412.2 839.7,411.9 840.5,412.1 841.3,411.9 842.1,411.8 842.9,412 843.7,411.8 844.5,411.9 845.3,411.8 846.1,411.8 846.9,411.9 847.7,411.7 848.5,411.8 849.3,412 850.1,411.8 850.9,411.9 851.6,411.8 852.4,412.1 853.2,411.8 854,411.5 854.8,411.9 855.6,411.7 856.4,411.5 857.2,411.7 858,411.6 858.8,411.7 859.6,411.9 860.4,411.8 861.2,411.6 862,411.7 862.8,411.6 863.6,411.6 864.4,411.6 865.1,411.5 865.9,410.9 866.7,410.9 867.5,410.4 868.3,409.9 869.1,409.4 869.9,408.5 870.7,406.8 871.5,405.5 872.3,404.2 873.1,402.8 873.9,400.9 874.7,398.8 875.5,396 876.3,392.6 877.1,389 877.8,385.3 878.6,381.9 879.4,378.1 880.2,374.2 881,371 881.8,369.8 882.6,372.1 883.4,375.9 884.2,379.2 885,382.9 885.8,386 886.6,388.8 887.4,391.9 888.2,396.1 889,399.7 889.8,401.6 890.6,403.3 891.3,404.6 892.1,405.7 892.9,406.5 893.7,407.5 894.5,407.9 895.3,408.3 896.1,408.8 896.9,409 897.7,409.3 898.5,409.4 899.3,409.6 900.1,409.7 900.9,409.9 901.7,410.1 902.5,410.6 903.3,410.4 904.1,410.6 904.8,410.7 905.6,410.9 906.4,410.8 907.2,411 908,411.1 908.8,411.1 909.6,411.1 910.4,411.4 911.2,411.2 912,411.4 912.8,411.4 913.6,411.6 914.4,411.6 915.2,411.7 916,411.6 916.8,411.5 917.5,411.6 918.3,411.5 919.1,411.7 919.9,411.6 920.7,411.4 921.5,411.6 922.3,411.4 923.1,411.5 923.9,411.3 924.7,411.4 925.5,411.4 926.3,411.4 927.1,411.1 927.9,411.5 928.7,411.3 929.5,411.7 930.3,411.5 931,411.5 931.8,411.7 932.6,411.6 933.4,411.5 934.2,411.8 935,411.8 935.8,411.8 936.6,412 937.4,411.9 938.2,411.8 939,411.7 939.8,411.8 940.6,411.9 941.4,411.9 942.2,411.9 943,411.7 943.8,411.8 944.5,412.1 945.3,411.9 946.1,411.8 946.9,412.2 947.7,411.8 948.5,411.9 949.3,411.8 950.1,412 950.9,411.9 951.7,411.9 952.5,411.9 953.3,411.8 954.1,411.9 954.9,411.8 955.7,411.9 956.5,411.9 957.2,411.9 958,411.8 958.8,411.8 959.6,411.7 960.4,412 961.2,411.9 962,411.9 962.8,411.7 963.6,411.9 964.4,412 965.2,411.8 966,412 966.8,411.9 967.6,411.7 968.4,411.8 969.2,412.1 970,411.7 970.7,411.9 971.5,411.8 972.3,412.3 973.1,412 973.9,411.9 974.7,412 975.5,412 976.3,411.9 977.1,411.9 977.9,411.9 978.7,412.1 979.5,411.9 980.3,412 981.1,411.6 981.9,411.9 982.7,412 983.5,411.9 984.2,412.1 985,411.9 985.8,411.8 986.6,411.8 987.4,411.7 988.2,412 989,412 989.8,411.9 990.6,411.9 991.4,411.9 992.2,411.7 993,411.9 993.8,411.8 994.6,411.7 995.4,411.8 996.2,411.7 996.9,411.6 997.7,411.7 998.5,411.8 999.3,411.5 1000.1,411.7 1000.9,411.6 1001.7,411.7 1002.5,411.6 1003.3,411.6 1004.1,411.5 1004.9,411.7 1005.7,411.6 1006.5,411.6 1007.3,411.3 1008.1,411.5 1008.9,411.6 1009.7,411.4 1010.4,410.9 1011.2,411.2 1012,411.1 1012.8,410.9 1013.6,410.8 1014.4,410.7 1015.2,410.9 1016,410.6 1016.8,410.6 1017.6,410.3 1018.4,410.2 1019.2,410.5 1020,410 1020.8,410 1021.6,409.9 1022.4,409.8 1023.1,409.9 1023.9,409.9 1024.7,410.2 1025.5,410.2 1026.3,410.4 1027.1,410.3 1027.9,410.4 1028.7,410.4 1029.5,410.2 1030.3,410.6 1031.1,410.5 1031.9,410.8 1032.7,411.2 1033.5,411.3 1034.3,411.6 1035.1,411.6 1035.9,411.9 1036.6,411.7 1037.4,411.8 1038.2,411.8 1039,412 1039.8,411.7 1040.6,411.6 1041.4,411.8 1042.2,411.8 1043,411.6 1043.8,411.8 1044.6,411.9 1045.4,412.1 1046.2,411.7 1047,411.9 1047.8,411.8 1048.6,411.7 1049.4,411.8 1050.1,411.8 1050.9,411.9 1051.7,411.9 1052.5,411.9 1053.3,411.9 1054.1,412.1 1054.9,412 1055.7,412 1056.5,411.8 1057.3,411.9 1058.1,412.1 1058.9,411.8 1059.7,411.8 1060.5,411.9 1061.3,411.7 1062.1,411.8 1062.8,411.8 1063.6,411.7 1064.4,411.8 1065.2,412 1066,412 1066.8,412 1067.6,411.9 1068.4,411.9 1069.2,412 1070,411.7 1070.8,411.8 1071.6,411.8 1072.4,411.9 1073.2,411.8 1074,411.9 1074.8,412 1075.6,411.9 1076.3,412.1 1077.1,411.9 1077.9,411.9 1078.7,411.9 1079.5,412 1080.3,411.9 1081.1,411.8 1081.9,412 1082.7,412 1083.5,411.7 1084.3,412 1085.1,411.9 1085.9,411.9 1086.7,411.8 1087.5,411.9 1088.3,412.1 1089.1,412.1 1089.8,412.1 1090.6,411.9 1091.4,412 1092.2,411.8 1093,411.8 1093.8,412 1094.6,411.8 1095.4,411.9 1096.2,411.7 1097,411.8 1097.8,411.8 1098.6,411.6 1099.4,411.9 1100.2,412 1101,411.9 1101.8,412 1102.6,411.4 1103.3,412 1104.1,412 1104.9,412.1 1105.7,411.5 1106.5,412.2 1107.3,412 1108.1,412 1108.9,412 1109.7,411.9 1110.5,411.7 1111.3,412.2 1112.1,412 1112.9,411.8 1113.7,411.8 1114.5,411.6 1115.3,412 1116,412.4 1116.8,411.9 1117.6,411.6 1118.4,411.9 1119.2,411.8 1120,412 1120.8,412.1 1121.6,411.8 1122.4,412.4 1123.2,411.8 1124,411.9 1124.8,411.7 1125.6,412 1126.4,411.7 1127.2,411.7 1128,411.7 1128.8,412.2 1129.5,412.2 1130.3,412.3 1131.1,411.9 1131.9,412.2 1132.7,411.8 1133.5,412 1134.3,412.3 1135.1,412.1 1135.9,411.8 1136.7,412 1137.5,411.9 1138.3,411.8 1139.1,412 1139.9,412.1 1140.7,411.8 1141.5,412.4 1142.2,412 1143,412.1 1143.8,411.9 1144.6,411.7 1145.4,411.8 1146.2,411.6 1147,411.8 1147.8,411.7 1148.6,411.4 1149.4,411.9 1150.2,411.7 1151,411.3 1151.8,411.1 1152.6,411.1 1153.4,411.3 1154.2,410.8 1155,410.5 1155.7,411 1156.5,409.9 1157.3,410.5 1158.1,411.4 1158.9,410.2 1159.7,411.3 1160.5,410.6 1161.3,411.4 1162.1,411.1 1162.9,411.6 1163.7,411 1164.5,410.9 1165.3,410.1 1166.1,409.5 1166.9,410.2 1167.7,411.2 1168.5,410 1169.2,411.2 1170,410.9 1170.8,410.7 1171.6,410.5 1172.4,411.1 1173.2,410 1174,410.6 1174.8,410.6 1175.6,411.9 1176.4,410.3 1177.2,411.4 1178,411.7 1178.8,410.6 1179.6,411.3 1180.4,411.7 1181.2,411.5 1182,411.7 1182.7,411.8 1183.5,410.9 1184.3,411.8 1185.1,411.6 1185.9,412.1 1186.7,412.1 1187.5,411.9 1188.3,412.1 1189.1,411.7 1189.9,411 1190.7,410.5 1191.5,412 1192.3,411 1193.1,411.9 1193.9,411.1 1194.7,411.6 1195.4,411.8 1196.2,411.7 1197,412.6 1197.8,412.5 1198.6,413.2 1199.4,410.9 1200.2,410.9 1201,411.8 1201.8,411 1202.6,411.8 1203.4,412.4 1204.2,412 1205,412.8 1205.8,411.9 1206.6,411.6 1207.4,411.7 1208.2,412.6 1208.9,411.8 1209.7,412.6 1210.5,412.5 1211.3,413.1 1212.1,411.6 1212.9,411.9 1213.7,411.6 1214.5,410.9 1215.3,410.8 1216.1,412.1 1216.9,411.1 1217.7,412.1 1218.5,412.2 1219.3,411.7 1220.1,411.8 1220.9,411.9 1221.7,412.1 1222.4,411.6 1223.2,413.2 1224,411.2 1224.8,412.3 1225.6,412.2 1226.4,412.3 1227.2,412.7 1228,411.3 1228.8,412.3 1229.6,412.2 1230.4,411.4 1231.2,411.2 1232,412 1232.8,411.9 1233.6,411.6 1234.4,411.8 1235.1,411.6 1235.9,412.4 1236.7,411.9 1237.5,412.5 1238.3,411.1 1239.1,411.4 1239.9,411.5 1240.7,411.7 1241.5,412.3" clip-path="url(#clipB)"/>
<polyline fill="none" stroke="#808000" stroke-width="2.1" stroke-linejoin="round" points="685.7,412 686.5,412 687.3,411.8 688.1,412 688.9,411.8 689.7,411.9 690.5,412 691.3,411.9 692.1,411.7 692.8,411.9 693.6,411.7 694.4,411.9 695.2,412 696,411.9 696.8,412 697.6,412 698.4,412.1 699.2,411.8 700,411.9 700.8,412.1 701.6,411.8 702.4,412 703.2,412 704,411.8 704.8,412 705.6,411.8 706.3,412 707.1,411.9 707.9,411.8 708.7,411.9 709.5,411.9 710.3,411.9 711.1,412 711.9,411.9 712.7,411.9 713.5,411.7 714.3,411.9 715.1,411.8 715.9,411.9 716.7,412 717.5,411.9 718.3,411.8 719,411.7 719.8,411.7 720.6,411.6 721.4,411.4 722.2,411.3 723,411.4 723.8,411.3 724.6,411.2 725.4,411.4 726.2,411.3 727,411.3 727.8,411.5 728.6,411.1 729.4,411 730.2,411 731,410.9 731.8,410.9 732.5,410.8 733.3,410.9 734.1,410.9 734.9,410.7 735.7,410.6 736.5,410.6 737.3,410.6 738.1,410.5 738.9,410.5 739.7,410.4 740.5,410.6 741.3,410.6 742.1,410.8 742.9,410.9 743.7,411.3 744.5,411.4 745.2,411.5 746,411.6 746.8,411.6 747.6,411.7 748.4,411.7 749.2,411.6 750,411.7 750.8,411.9 751.6,412.1 752.4,411.9 753.2,411.9 754,411.8 754.8,411.8 755.6,411.8 756.4,411.9 757.2,412 758,411.9 758.7,411.7 759.5,411.9 760.3,412 761.1,411.8 761.9,411.9 762.7,411.9 763.5,411.8 764.3,411.9 765.1,412.1 765.9,412 766.7,411.9 767.5,411.8 768.3,412 769.1,411.8 769.9,411.8 770.7,411.8 771.5,412 772.2,411.9 773,411.9 773.8,411.9 774.6,411.7 775.4,411.9 776.2,411.8 777,412 777.8,411.8 778.6,411.8 779.4,411.8 780.2,411.9 781,411.9 781.8,411.8 782.6,411.8 783.4,411.9 784.2,411.8 785,412 785.7,411.9 786.5,411.8 787.3,412 788.1,411.9 788.9,411.8 789.7,412 790.5,412 791.3,412 792.1,411.7 792.9,412.1 793.7,412.1 794.5,411.8 795.3,411.8 796.1,412 796.9,411.8 797.7,411.8 798.4,412 799.2,411.8 800,411.7 800.8,411.9 801.6,412.1 802.4,411.9 803.2,411.7 804,412.1 804.8,411.9 805.6,412 806.4,411.8 807.2,411.9 808,411.9 808.8,412 809.6,411.9 810.4,411.8 811.2,411.7 811.9,411.8 812.7,412 813.5,412 814.3,411.9 815.1,411.9 815.9,412 816.7,412 817.5,412 818.3,412 819.1,412 819.9,411.9 820.7,412 821.5,412 822.3,411.8 823.1,412 823.9,412 824.7,411.9 825.4,411.9 826.2,411.9 827,411.7 827.8,411.9 828.6,412.1 829.4,411.9 830.2,412.1 831,411.9 831.8,411.9 832.6,412 833.4,411.8 834.2,411.9 835,411.8 835.8,412 836.6,411.8 837.4,411.9 838.1,411.8 838.9,411.8 839.7,411.9 840.5,412 841.3,411.9 842.1,411.9 842.9,412 843.7,412 844.5,411.6 845.3,411.9 846.1,412 846.9,412 847.7,412 848.5,411.9 849.3,412 850.1,411.8 850.9,411.9 851.6,412 852.4,411.7 853.2,411.8 854,411.8 854.8,411.7 855.6,411.9 856.4,411.8 857.2,412 858,412 858.8,411.8 859.6,411.9 860.4,411.8 861.2,411.7 862,411.9 862.8,411.9 863.6,411.8 864.4,411.7 865.1,411.6 865.9,411.6 866.7,411.7 867.5,411.3 868.3,411.4 869.1,411.2 869.9,410.9 870.7,410.5 871.5,410.2 872.3,409.8 873.1,409.2 873.9,408.7 874.7,407.9 875.5,407.1 876.3,406.2 877.1,405.1 877.8,404.2 878.6,402.8 879.4,401.7 880.2,400.5 881,399.8 881.8,399.5 882.6,400.2 883.4,401.1 884.2,402.2 885,403.1 885.8,404.2 886.6,405.1 887.4,406 888.2,407.2 889,408.2 889.8,408.7 890.6,409.3 891.3,409.6 892.1,410.1 892.9,410.5 893.7,410.7 894.5,410.8 895.3,411 896.1,410.8 896.9,411 897.7,411.3 898.5,411.3 899.3,411.1 900.1,411.3 900.9,411.3 901.7,411.4 902.5,411.5 903.3,411.8 904.1,411.5 904.8,411.7 905.6,411.5 906.4,411.6 907.2,411.6 908,411.5 908.8,411.6 909.6,411.8 910.4,411.7 911.2,411.8 912,411.6 912.8,411.9 913.6,411.8 914.4,411.9 915.2,411.8 916,411.8 916.8,411.7 917.5,411.9 918.3,411.9 919.1,411.7 919.9,411.8 920.7,411.8 921.5,411.9 922.3,411.7 923.1,411.9 923.9,411.6 924.7,411.9 925.5,411.6 926.3,411.8 927.1,411.8 927.9,411.7 928.7,411.8 929.5,411.7 930.3,411.8 931,411.8 931.8,411.9 932.6,411.9 933.4,412 934.2,411.9 935,411.8 935.8,411.9 936.6,411.9 937.4,411.9 938.2,412 939,411.9 939.8,411.5 940.6,412 941.4,412 942.2,411.7 943,411.7 943.8,411.8 944.5,411.9 945.3,411.9 946.1,411.9 946.9,411.8 947.7,412 948.5,411.9 949.3,412.1 950.1,411.9 950.9,412.1 951.7,411.9 952.5,412 953.3,411.9 954.1,411.7 954.9,412 955.7,412 956.5,411.9 957.2,411.9 958,411.8 958.8,411.9 959.6,411.8 960.4,411.8 961.2,412 962,411.9 962.8,411.8 963.6,411.9 964.4,412 965.2,412.2 966,411.9 966.8,411.9 967.6,412 968.4,411.9 969.2,411.8 970,412 970.7,411.9 971.5,412 972.3,411.9 973.1,412 973.9,411.9 974.7,411.9 975.5,411.9 976.3,411.9 977.1,411.9 977.9,411.8 978.7,411.8 979.5,411.9 980.3,411.8 981.1,411.8 981.9,411.8 982.7,411.9 983.5,411.9 984.2,411.9 985,411.8 985.8,411.9 986.6,411.9 987.4,412 988.2,411.9 989,411.8 989.8,412 990.6,411.9 991.4,411.7 992.2,412 993,411.9 993.8,411.8 994.6,411.7 995.4,411.9 996.2,411.8 996.9,412 997.7,412 998.5,411.9 999.3,411.8 1000.1,411.9 1000.9,411.7 1001.7,411.8 1002.5,412 1003.3,411.7 1004.1,411.7 1004.9,411.7 1005.7,412 1006.5,411.9 1007.3,411.8 1008.1,411.8 1008.9,411.6 1009.7,411.9 1010.4,411.8 1011.2,411.6 1012,411.4 1012.8,411.4 1013.6,411.7 1014.4,411.5 1015.2,411.7 1016,411.4 1016.8,411.6 1017.6,411.5 1018.4,411.6 1019.2,411.3 1020,411.6 1020.8,411.3 1021.6,411.3 1022.4,411.3 1023.1,411.4 1023.9,411.4 1024.7,411.4 1025.5,411.5 1026.3,411.5 1027.1,411.5 1027.9,411.5 1028.7,411.5 1029.5,411.5 1030.3,411.4 1031.1,411.7 1031.9,411.6 1032.7,411.6 1033.5,411.8 1034.3,411.8 1035.1,411.9 1035.9,411.9 1036.6,411.9 1037.4,412 1038.2,411.9 1039,412 1039.8,411.9 1040.6,411.8 1041.4,411.9 1042.2,411.7 1043,411.8 1043.8,412 1044.6,411.8 1045.4,411.9 1046.2,411.8 1047,411.8 1047.8,411.9 1048.6,412 1049.4,411.9 1050.1,411.9 1050.9,411.8 1051.7,411.9 1052.5,411.9 1053.3,412 1054.1,411.8 1054.9,411.8 1055.7,411.7 1056.5,411.9 1057.3,411.6 1058.1,411.8 1058.9,411.8 1059.7,411.8 1060.5,411.9 1061.3,412 1062.1,412 1062.8,411.8 1063.6,411.8 1064.4,412 1065.2,411.9 1066,411.8 1066.8,411.9 1067.6,411.9 1068.4,412 1069.2,412.1 1070,411.9 1070.8,411.9 1071.6,411.9 1072.4,411.8 1073.2,412 1074,411.7 1074.8,411.8 1075.6,412 1076.3,412.1 1077.1,412 1077.9,412 1078.7,411.7 1079.5,412 1080.3,411.9 1081.1,412.1 1081.9,412 1082.7,411.8 1083.5,412.2 1084.3,412 1085.1,412 1085.9,411.7 1086.7,411.5 1087.5,411.8 1088.3,412.2 1089.1,411.9 1089.8,411.7 1090.6,412 1091.4,411.8 1092.2,411.8 1093,411.9 1093.8,412.3 1094.6,412.1 1095.4,411.7 1096.2,411.7 1097,412.1 1097.8,411.8 1098.6,412.2 1099.4,412 1100.2,411.7 1101,411.8 1101.8,411.9 1102.6,411.9 1103.3,411.5 1104.1,411.9 1104.9,411.9 1105.7,411.9 1106.5,411.8 1107.3,411.9 1108.1,411.9 1108.9,411.8 1109.7,411.9 1110.5,411.9 1111.3,411.7 1112.1,411.8 1112.9,412.1 1113.7,411.8 1114.5,412.1 1115.3,412 1116,412.2 1116.8,412 1117.6,411.7 1118.4,411.9 1119.2,412 1120,411.7 1120.8,411.7 1121.6,412 1122.4,412.4 1123.2,412.1 1124,411.9 1124.8,412 1125.6,412 1126.4,411.7 1127.2,411.9 1128,411.6 1128.8,411.6 1129.5,412 1130.3,411.8 1131.1,411.7 1131.9,411.7 1132.7,411.9 1133.5,411.8 1134.3,411.9 1135.1,411.4 1135.9,411.7 1136.7,411.5 1137.5,411.8 1138.3,412 1139.1,412 1139.9,411.9 1140.7,412.4 1141.5,412 1142.2,411.9 1143,412.2 1143.8,411.6 1144.6,412.3 1145.4,411.7 1146.2,412 1147,411.8 1147.8,411.8 1148.6,411.9 1149.4,412.2 1150.2,411.7 1151,412.2 1151.8,411.6 1152.6,411.7 1153.4,412.1 1154.2,411.8 1155,411.7 1155.7,411.3 1156.5,412.1 1157.3,411.7 1158.1,411.7 1158.9,411.1 1159.7,411.3 1160.5,411.4 1161.3,412 1162.1,411.5 1162.9,411.5 1163.7,411.4 1164.5,411.5 1165.3,411.3 1166.1,411.4 1166.9,411.3 1167.7,410.9 1168.5,411.5 1169.2,411.2 1170,411.4 1170.8,412 1171.6,411.4 1172.4,411.5 1173.2,411.4 1174,412.1 1174.8,411.8 1175.6,411.7 1176.4,412 1177.2,412.1 1178,411.5 1178.8,412 1179.6,412.2 1180.4,411.9 1181.2,411.7 1182,412.1 1182.7,412.1 1183.5,412.3 1184.3,411.9 1185.1,411.6 1185.9,411.2 1186.7,411.7 1187.5,412.3 1188.3,412 1189.1,412 1189.9,410.5 1190.7,411 1191.5,412.1 1192.3,412 1193.1,412.9 1193.9,412 1194.7,411.3 1195.4,412.2 1196.2,411.7 1197,411.9 1197.8,411.1 1198.6,411.1 1199.4,411.5 1200.2,412.2 1201,412.4 1201.8,412.2 1202.6,410.6 1203.4,411.7 1204.2,411.5 1205,413 1205.8,412.2 1206.6,411.6 1207.4,411.5 1208.2,411.2 1208.9,411.5 1209.7,410.2 1210.5,411.3 1211.3,410.8 1212.1,412.1 1212.9,411.5 1213.7,412.1 1214.5,411.4 1215.3,413.3 1216.1,412.5 1216.9,411.9 1217.7,412 1218.5,411.6 1219.3,412.1 1220.1,412.1 1220.9,412.2 1221.7,410.8 1222.4,412.6 1223.2,411.8 1224,411.3 1224.8,412.4 1225.6,412.6 1226.4,411.1 1227.2,411.8 1228,412.6 1228.8,410.7 1229.6,412 1230.4,411.8 1231.2,411 1232,412.6 1232.8,412 1233.6,412.1 1234.4,411.2 1235.1,412.7 1235.9,411.4 1236.7,411.6 1237.5,411.5 1238.3,412.6 1239.1,413.1 1239.9,411.6 1240.7,411 1241.5,411.1" clip-path="url(#clipB)"/>
<rect x="685.7" y="18.1" width="555.8" height="409.1" fill="none" stroke="#000" stroke-width="2"/>
<line x1="685.7" y1="427.2" x2="685.7" y2="436.2" stroke="#000" stroke-width="2"/>
<text x="685.8" y="465.6" font-size="28.6" text-anchor="middle">450</text>
<line x1="725.4" y1="427.2" x2="725.4" y2="432.6" stroke="#000" stroke-width="2"/>
<line x1="765.1" y1="427.2" x2="765.1" y2="436.2" stroke="#000" stroke-width="2"/>
<text x="767.7" y="465.6" font-size="28.6" text-anchor="middle">500</text>
<line x1="804.8" y1="427.2" x2="804.8" y2="432.6" stroke="#000" stroke-width="2"/>
<line x1="844.5" y1="427.2" x2="844.5" y2="436.2" stroke="#000" stroke-width="2"/>
<text x="849.1" y="465.6" font-size="28.6" text-anchor="middle">550</text>
<line x1="884.2" y1="427.2" x2="884.2" y2="432.6" stroke="#000" stroke-width="2"/>
<line x1="923.9" y1="427.2" x2="923.9" y2="436.2" stroke="#000" stroke-width="2"/>
<text x="925.9" y="465.6" font-size="28.6" text-anchor="middle">600</text>
<line x1="963.6" y1="427.2" x2="963.6" y2="432.6" stroke="#000" stroke-width="2"/>
<line x1="1003.3" y1="427.2" x2="1003.3" y2="436.2" stroke="#000" stroke-width="2"/>
<text x="1006.6" y="465.6" font-size="28.6" text-anchor="middle">650</text>
<line x1="1043" y1="427.2" x2="1043" y2="432.6" stroke="#000" stroke-width="2"/>
<line x1="1082.7" y1="427.2" x2="1082.7" y2="436.2" stroke="#000" stroke-width="2"/>
<text x="1084.3" y="465.6" font-size="28.6" text-anchor="middle">700</text>
<line x1="1122.4" y1="427.2" x2="1122.4" y2="432.6" stroke="#000" stroke-width="2"/>
<line x1="1162.1" y1="427.2" x2="1162.1" y2="436.2" stroke="#000" stroke-width="2"/>
<text x="1166" y="465.6" font-size="28.6" text-anchor="middle">750</text>
<line x1="1201.8" y1="427.2" x2="1201.8" y2="432.6" stroke="#000" stroke-width="2"/>
<line x1="1241.5" y1="427.2" x2="1241.5" y2="436.2" stroke="#000" stroke-width="2"/>
<text x="1247.2" y="465.6" font-size="28.6" text-anchor="middle">800</text>
<text x="969.4" y="501.3" font-size="33.1" text-anchor="middle">Wavelength (nm)</text>
<text x="0" y="0" font-size="32.5" text-anchor="middle" transform="translate(665.2 201) rotate(-90)">Intensity</text>
<text x="639" y="23.8" font-size="34" text-anchor="start">b)</text>
<polyline fill="none" stroke="#000000" stroke-width="2.1" stroke-linejoin="round" points="1307.7,406 1308.5,406.1 1309.3,406.2 1310.1,406 1310.9,405.9 1311.7,406 1312.5,406 1313.3,406.2 1314.1,406.4 1314.9,406.1 1315.7,405.8 1316.5,405.9 1317.2,406.1 1318,406 1318.8,405.9 1319.6,405.7 1320.4,405.6 1321.2,405.8 1322,406 1322.8,406.1 1323.6,406.3 1324.4,406.3 1325.2,406.2 1326,406 1326.8,405.8 1327.6,406.1 1328.4,406.4 1329.2,406.2 1330,406 1330.8,406 1331.6,406 1332.4,406.2 1333.2,406.4 1334,406.2 1334.7,406.1 1335.5,406 1336.3,406 1337.1,406.1 1337.9,406.3 1338.7,406.2 1339.5,406.1 1340.3,405.9 1341.1,405.6 1341.9,405.6 1342.7,405.5 1343.5,405.1 1344.3,404.8 1345.1,404.3 1345.9,403.9 1346.7,403.9 1347.5,404 1348.3,404.1 1349.1,404.3 1349.9,403.9 1350.7,403.5 1351.5,403.1 1352.3,402.6 1353,402.8 1353.8,403 1354.6,402.5 1355.4,402 1356.2,401.8 1357,401.6 1357.8,401.5 1358.6,401.4 1359.4,401.2 1360.2,401.1 1361,401.4 1361.8,401.8 1362.6,401.9 1363.4,401.9 1364.2,402.2 1365,402.6 1365.8,403.4 1366.6,404.1 1367.4,404.5 1368.2,404.8 1369,405.1 1369.8,405.3 1370.6,405.6 1371.3,405.8 1372.1,405.8 1372.9,405.8 1373.7,406 1374.5,406.2 1375.3,406.1 1376.1,405.9 1376.9,406 1377.7,406.1 1378.5,406.1 1379.3,406.1 1380.1,406.1 1380.9,406 1381.7,406 1382.5,405.9 1383.3,406.1 1384.1,406.4 1384.9,406.2 1385.7,406 1386.5,406 1387.3,405.9 1388.1,406.1 1388.8,406.2 1389.6,406 1390.4,405.8 1391.2,406.1 1392,406.3 1392.8,406.3 1393.6,406.3 1394.4,406.2 1395.2,406.1 1396,406.2 1396.8,406.3 1397.6,406.1 1398.4,405.8 1399.2,405.9 1400,406.1 1400.8,405.9 1401.6,405.7 1402.4,406.1 1403.2,406.4 1404,406.4 1404.8,406.4 1405.6,406.1 1406.4,405.8 1407.1,406.1 1407.9,406.4 1408.7,406.1 1409.5,405.9 1410.3,406.1 1411.1,406.3 1411.9,406.2 1412.7,406.1 1413.5,405.9 1414.3,405.8 1415.1,406 1415.9,406.1 1416.7,406.2 1417.5,406.4 1418.3,406.3 1419.1,406.2 1419.9,406 1420.7,405.8 1421.5,405.9 1422.3,406 1423.1,406 1423.9,405.9 1424.6,406 1425.4,406.1 1426.2,406 1427,406 1427.8,406.1 1428.6,406.1 1429.4,406.2 1430.2,406.3 1431,406.1 1431.8,405.9 1432.6,406 1433.4,406 1434.2,406.3 1435,406.5 1435.8,406.3 1436.6,406.1 1437.4,405.9 1438.2,405.8 1439,405.7 1439.8,405.6 1440.6,406 1441.4,406.4 1442.2,406.2 1442.9,406 1443.7,406 1444.5,405.9 1445.3,405.9 1446.1,405.8 1446.9,406 1447.7,406.2 1448.5,406 1449.3,405.9 1450.1,406 1450.9,406.1 1451.7,406 1452.5,406 1453.3,406 1454.1,406.1 1454.9,406 1455.7,405.9 1456.5,405.9 1457.3,406 1458.1,405.9 1458.9,405.8 1459.7,405.9 1460.4,405.9 1461.2,405.8 1462,405.6 1462.8,405.5 1463.6,405.4 1464.4,405.6 1465.2,405.8 1466,405.9 1466.8,406 1467.6,405.9 1468.4,405.8 1469.2,405.9 1470,405.9 1470.8,406 1471.6,406.1 1472.4,405.9 1473.2,405.7 1474,405.8 1474.8,405.8 1475.6,405.6 1476.4,405.4 1477.2,405.6 1478,405.7 1478.7,405.5 1479.5,405.4 1480.3,405.3 1481.1,405.3 1481.9,405.3 1482.7,405.3 1483.5,405.2 1484.3,405 1485.1,404.7 1485.9,404.3 1486.7,403.9 1487.5,403.4 1488.3,402.8 1489.1,402 1489.9,400.7 1490.7,399.2 1491.5,397.7 1492.3,396.2 1493.1,394.6 1493.9,393 1494.7,390.7 1495.5,388 1496.3,385.1 1497,381.8 1497.8,377.9 1498.6,374 1499.4,370.1 1500.2,366.1 1501,361.7 1501.8,357.4 1502.6,353.3 1503.4,350.4 1504.2,349.2 1505,351.4 1505.8,355.3 1506.6,359.5 1507.4,363.4 1508.2,367.2 1509,370.4 1509.8,373.3 1510.6,376.5 1511.4,380.5 1512.2,385.2 1513,389.6 1513.8,391.9 1514.5,393.6 1515.3,395.1 1516.1,396.5 1516.9,397.4 1517.7,398.1 1518.5,399.3 1519.3,400.5 1520.1,401 1520.9,401.4 1521.7,401.8 1522.5,402.2 1523.3,402.2 1524.1,402.3 1524.9,402.5 1525.7,402.6 1526.5,403 1527.3,403.3 1528.1,403.3 1528.9,403.3 1529.7,403.4 1530.5,403.5 1531.3,403.9 1532.1,404.4 1532.8,404.4 1533.6,404.3 1534.4,404.5 1535.2,404.7 1536,404.8 1536.8,405 1537.6,405 1538.4,405.1 1539.2,405.1 1540,405.2 1540.8,405.4 1541.6,405.6 1542.4,405.5 1543.2,405.4 1544,405.3 1544.8,405.3 1545.6,405.5 1546.4,405.7 1547.2,405.6 1548,405.6 1548.8,405.6 1549.6,405.7 1550.3,405.5 1551.1,405.4 1551.9,405.4 1552.7,405.4 1553.5,405.3 1554.3,405.1 1555.1,405.2 1555.9,405.3 1556.7,405.5 1557.5,405.6 1558.3,405.3 1559.1,405.1 1559.9,405.2 1560.7,405.4 1561.5,405.2 1562.3,405.1 1563.1,405.2 1563.9,405.3 1564.7,405.8 1565.5,406.2 1566.3,406.2 1567.1,406.2 1567.9,405.9 1568.6,405.7 1569.4,405.8 1570.2,405.9 1571,406.1 1571.8,406.3 1572.6,406.1 1573.4,406 1574.2,405.7 1575,405.5 1575.8,405.6 1576.6,405.7 1577.4,405.9 1578.2,406.1 1579,406 1579.8,405.8 1580.6,405.7 1581.4,405.7 1582.2,405.8 1583,406 1583.8,405.7 1584.6,405.5 1585.4,405.8 1586.2,406.1 1586.9,405.8 1587.7,405.4 1588.5,405.5 1589.3,405.6 1590.1,405.7 1590.9,405.8 1591.7,405.9 1592.5,405.9 1593.3,405.9 1594.1,405.9 1594.9,406.1 1595.7,406.2 1596.5,406 1597.3,405.7 1598.1,405.7 1598.9,405.7 1599.7,405.7 1600.5,405.8 1601.3,405.8 1602.1,405.9 1602.9,405.9 1603.7,405.9 1604.4,406.1 1605.2,406.2 1606,406.2 1606.8,406.1 1607.6,406.2 1608.4,406.3 1609.2,406.1 1610,405.8 1610.8,406 1611.6,406.2 1612.4,405.9 1613.2,405.7 1614,405.9 1614.8,406.1 1615.6,405.8 1616.4,405.6 1617.2,405.5 1618,405.5 1618.8,405.5 1619.6,405.5 1620.4,405.5 1621.2,405.5 1622,405.7 1622.7,405.8 1623.5,405.7 1624.3,405.7 1625.1,405.7 1625.9,405.7 1626.7,405.6 1627.5,405.4 1628.3,405.3 1629.1,405.1 1629.9,405.4 1630.7,405.8 1631.5,405.3 1632.3,404.8 1633.1,405.1 1633.9,405.4 1634.7,405.5 1635.5,405.5 1636.3,405.2 1637.1,405 1637.9,404.8 1638.7,404.7 1639.5,404.8 1640.2,404.9 1641,404.9 1641.8,404.9 1642.6,404.5 1643.4,404.2 1644.2,404.5 1645,404.8 1645.8,404.5 1646.6,404.2 1647.4,404.3 1648.2,404.5 1649,404.5 1649.8,404.6 1650.6,404.7 1651.4,404.7 1652.2,404.9 1653,405.1 1653.8,405.3 1654.6,405.4 1655.4,405.4 1656.2,405.3 1657,405.6 1657.8,405.8 1658.5,405.9 1659.3,405.9 1660.1,405.7 1660.9,405.4 1661.7,405.4 1662.5,405.4 1663.3,405.5 1664.1,405.6 1664.9,405.6 1665.7,405.7 1666.5,405.8 1667.3,406 1668.1,405.9 1668.9,405.9 1669.7,406 1670.5,406.1 1671.3,406.4 1672.1,406.6 1672.9,406.2 1673.7,405.9 1674.5,405.9 1675.3,405.9 1676,405.8 1676.8,405.7 1677.6,406 1678.4,406.2 1679.2,406 1680,405.7 1680.8,405.9 1681.6,406.1 1682.4,406.2 1683.2,406.3 1684,406.2 1684.8,406 1685.6,405.9 1686.4,405.8 1687.2,405.9 1688,406 1688.8,405.9 1689.6,405.9 1690.4,406 1691.2,406.2 1692,406 1692.8,405.9 1693.6,405.8 1694.3,405.7 1695.1,406 1695.9,406.2 1696.7,406 1697.5,405.9 1698.3,406.1 1699.1,406.4 1699.9,406.2 1700.7,405.9 1701.5,406.2 1702.3,406.5 1703.1,406.2 1703.9,405.9 1704.7,405.9 1705.5,406 1706.3,406.2 1707.1,406.4 1707.9,406.1 1708.7,405.9 1709.5,406.1 1710.3,406.4 1711.1,406.2 1711.9,406 1712.6,406.2 1713.4,406.4 1714.2,406.1 1715,405.8 1715.8,406 1716.6,406.3 1717.4,405.8 1718.2,405.3 1719,405.6 1719.8,405.8 1720.6,405.8 1721.4,405.7 1722.2,406.2 1723,406.7 1723.8,406.9 1724.6,407.1 1725.4,406.8 1726.2,406.5 1727,405.7 1727.8,405 1728.6,405.8 1729.4,406.6 1730.1,405.9 1730.9,405.3 1731.7,405.3 1732.5,405.2 1733.3,405.8 1734.1,406.4 1734.9,406.3 1735.7,406.2 1736.5,405.7 1737.3,405.1 1738.1,405.7 1738.9,406.2 1739.7,406.2 1740.5,406.3 1741.3,406.3 1742.1,406.3 1742.9,406 1743.7,405.6 1744.5,405.6 1745.3,405.4 1746.1,404.6 1746.9,403.8 1747.7,403.8 1748.4,403.7 1749.2,402.6 1750,401.4 1750.8,400.8 1751.6,399.8 1752.4,396.7 1753.2,392.7 1754,390.9 1754.8,389 1755.6,385.7 1756.4,382.1 1757.2,378.9 1758,376.3 1758.8,374.3 1759.6,374.5 1760.4,376.3 1761.2,378.7 1762,381.6 1762.8,384.7 1763.6,388.6 1764.4,392.5 1765.2,394.5 1765.9,396.4 1766.7,399.8 1767.5,402.8 1768.3,404.1 1769.1,405 1769.9,404.5 1770.7,403.9 1771.5,404.2 1772.3,404.4 1773.1,405.5 1773.9,406.6 1774.7,405.2 1775.5,403.8 1776.3,403.5 1777.1,403.2 1777.9,403.8 1778.7,404.4 1779.5,405.4 1780.3,406.6 1781.1,404.9 1781.9,403.2 1782.7,404.3 1783.5,405.3 1784.2,405.2 1785,405 1785.8,404.5 1786.6,404 1787.4,404.7 1788.2,405.5 1789,403.9 1789.8,402.3 1790.6,404 1791.4,405.8 1792.2,404.6 1793,403.3 1793.8,403.5 1794.6,403.8 1795.4,403 1796.2,402.2 1797,403.3 1797.8,404.4 1798.6,404.2 1799.4,404 1800.2,405.2 1801,406.3 1801.7,406.3 1802.5,406.2 1803.3,406.6 1804.1,407.1 1804.9,405.9 1805.7,404.8 1806.5,406.1 1807.3,407.5 1808.1,405.6 1808.9,403.6 1809.7,405.1 1810.5,406.7 1811.3,407.8 1812.1,408.8 1812.9,408.4 1813.7,407.9 1814.5,406.2 1815.3,404.4 1816.1,406.1 1816.9,407.8 1817.7,406.8 1818.5,405.7 1819.3,408 1820,410.3 1820.8,408.2 1821.6,406.2 1822.4,405.8 1823.2,405.5 1824,405.8 1824.8,406.1 1825.6,405.9 1826.4,405.6 1827.2,407.5 1828,409.5 1828.8,410.3 1829.6,411.1 1830.4,410.8 1831.2,410.4 1832,408 1832.8,405.5 1833.6,406.1 1834.4,406.6 1835.2,406.1 1836,405.7 1836.8,407.3 1837.6,408.9 1838.3,407.3 1839.1,405.6 1839.9,408.5 1840.7,411.4 1841.5,409 1842.3,406.5 1843.1,408.4 1843.9,410.2 1844.7,409.4 1845.5,408.7 1846.3,407.3 1847.1,405.9 1847.9,405.6 1848.7,405.2 1849.5,406.6 1850.3,408 1851.1,408.2 1851.9,408.5 1852.7,406.2 1853.5,403.8 1854.3,404.2 1855.1,404.6 1855.8,407 1856.6,409.4 1857.4,408.1 1858.2,406.7 1859,407.4 1859.8,408.1 1860.6,406.4 1861.4,404.7 1862.2,405.4 1863,406.1 1863.8,406.2 1864.6,406.2" clip-path="url(#clipC)"/>
<polyline fill="none" stroke="#ff0000" stroke-width="2.1" stroke-linejoin="round" points="1307.7,405.4 1308.5,405.1 1309.3,404.9 1310.1,405 1310.9,405 1311.7,405.4 1312.5,405.8 1313.3,405.6 1314.1,405.3 1314.9,405.2 1315.7,405.1 1316.5,405.2 1317.2,405.4 1318,405.4 1318.8,405.4 1319.6,405.4 1320.4,405.4 1321.2,405.2 1322,405.1 1322.8,405.3 1323.6,405.5 1324.4,405.3 1325.2,405.1 1326,405 1326.8,404.8 1327.6,404.9 1328.4,405 1329.2,405 1330,405 1330.8,405.2 1331.6,405.3 1332.4,405.1 1333.2,404.9 1334,405.1 1334.7,405.3 1335.5,405.1 1336.3,404.9 1337.1,405.1 1337.9,405.3 1338.7,404.7 1339.5,403.6 1340.3,402.6 1341.1,401.2 1341.9,398.5 1342.7,394.8 1343.5,391 1344.3,387.7 1345.1,384.7 1345.9,382.9 1346.7,382 1347.5,381.6 1348.3,381.5 1349.1,381.2 1349.9,378.9 1350.7,376 1351.5,373.7 1352.3,371.4 1353,369.1 1353.8,366.8 1354.6,364.5 1355.4,362.1 1356.2,359.6 1357,357.2 1357.8,354.7 1358.6,352.3 1359.4,350.8 1360.2,350.5 1361,352.5 1361.8,356 1362.6,359.6 1363.4,362.7 1364.2,365.9 1365,370 1365.8,375.2 1366.6,380.4 1367.4,385.3 1368.2,389.9 1369,393.5 1369.8,396.4 1370.6,398.2 1371.3,399.5 1372.1,401.1 1372.9,402.4 1373.7,402.8 1374.5,403.2 1375.3,403.9 1376.1,404.5 1376.9,404.5 1377.7,404.5 1378.5,404.5 1379.3,404.6 1380.1,404.7 1380.9,404.7 1381.7,405 1382.5,405.3 1383.3,405.5 1384.1,405.6 1384.9,405.7 1385.7,405.8 1386.5,405.6 1387.3,405.4 1388.1,405.3 1388.8,405.2 1389.6,405.2 1390.4,405.2 1391.2,405.5 1392,405.8 1392.8,405.6 1393.6,405.4 1394.4,405.3 1395.2,405.2 1396,405.1 1396.8,404.9 1397.6,405 1398.4,405 1399.2,405 1400,405.1 1400.8,405.4 1401.6,405.6 1402.4,405.2 1403.2,404.8 1404,405 1404.8,405.1 1405.6,405.1 1406.4,405 1407.1,405.1 1407.9,405.3 1408.7,405.2 1409.5,405.1 1410.3,405.1 1411.1,405.1 1411.9,405.1 1412.7,405.1 1413.5,405.2 1414.3,405.2 1415.1,405 1415.9,404.7 1416.7,404.7 1417.5,404.6 1418.3,404.8 1419.1,405 1419.9,405.1 1420.7,405.1 1421.5,405.1 1422.3,405.1 1423.1,405 1423.9,404.9 1424.6,404.6 1425.4,404.3 1426.2,404.6 1427,404.8 1427.8,404.5 1428.6,404.2 1429.4,404.6 1430.2,405 1431,405 1431.8,405 1432.6,404.9 1433.4,404.8 1434.2,404.8 1435,404.8 1435.8,404.6 1436.6,404.4 1437.4,404.2 1438.2,404 1439,404.3 1439.8,404.7 1440.6,404.5 1441.4,404.3 1442.2,404.2 1442.9,404 1443.7,403.8 1444.5,403.7 1445.3,404 1446.1,404.3 1446.9,404.1 1447.7,404 1448.5,403.9 1449.3,403.9 1450.1,404 1450.9,404.1 1451.7,404 1452.5,403.9 1453.3,404 1454.1,404.1 1454.9,404.1 1455.7,404.1 1456.5,404 1457.3,403.9 1458.1,403.6 1458.9,403.3 1459.7,403.2 1460.4,403.1 1461.2,403.2 1462,403.3 1462.8,403.5 1463.6,403.7 1464.4,403.2 1465.2,402.8 1466,402.9 1466.8,403.1 1467.6,402.8 1468.4,402.5 1469.2,402.6 1470,402.8 1470.8,402.9 1471.6,403 1472.4,402.8 1473.2,402.6 1474,402.6 1474.8,402.6 1475.6,402.2 1476.4,401.8 1477.2,402.3 1478,402.8 1478.7,402.4 1479.5,402.1 1480.3,401.8 1481.1,401.3 1481.9,401 1482.7,400.5 1483.5,399.3 1484.3,398 1485.1,396.6 1485.9,394.5 1486.7,392.2 1487.5,389.9 1488.3,387.3 1489.1,383.7 1489.9,376.7 1490.7,367.9 1491.5,360 1492.3,352.2 1493.1,343.9 1493.9,335.1 1494.7,324.8 1495.5,311.8 1496.3,295.4 1497,277.2 1497.8,257.1 1498.6,237 1499.4,216.4 1500.2,194.9 1501,172.8 1501.8,151.4 1502.6,129.4 1503.4,113.1 1504.2,107 1505,118.5 1505.8,138.2 1506.6,159.3 1507.4,179.6 1508.2,199.5 1509,217.6 1509.8,234 1510.6,250.6 1511.4,271.4 1512.2,294.3 1513,315.9 1513.8,329.4 1514.5,339.2 1515.3,347.2 1516.1,354.5 1516.9,361.2 1517.7,366.6 1518.5,370.5 1519.3,373.8 1520.1,376.7 1520.9,379.1 1521.7,381 1522.5,382.5 1523.3,384 1524.1,385.4 1524.9,386.5 1525.7,387.4 1526.5,388.5 1527.3,389.5 1528.1,390.6 1528.9,391.7 1529.7,392.7 1530.5,393.7 1531.3,394.4 1532.1,395.1 1532.8,395.7 1533.6,396.2 1534.4,396.6 1535.2,396.9 1536,397.2 1536.8,397.5 1537.6,398.2 1538.4,398.9 1539.2,399.1 1540,399.2 1540.8,399.8 1541.6,400.2 1542.4,400.4 1543.2,400.4 1544,400.4 1544.8,400.4 1545.6,400.5 1546.4,400.7 1547.2,400.8 1548,401 1548.8,400.9 1549.6,400.9 1550.3,400.8 1551.1,400.7 1551.9,400.8 1552.7,400.9 1553.5,400.8 1554.3,400.6 1555.1,400.3 1555.9,400.1 1556.7,399.8 1557.5,399.5 1558.3,399.8 1559.1,400.2 1559.9,400 1560.7,400 1561.5,400.3 1562.3,400.6 1563.1,401 1563.9,401.4 1564.7,401.8 1565.5,402.2 1566.3,402.5 1567.1,402.8 1567.9,402.9 1568.6,402.9 1569.4,402.8 1570.2,402.7 1571,402.7 1571.8,402.7 1572.6,403 1573.4,403.3 1574.2,403.3 1575,403.4 1575.8,403.4 1576.6,403.5 1577.4,403.1 1578.2,402.7 1579,403.3 1579.8,403.8 1580.6,403.9 1581.4,403.9 1582.2,403.6 1583,403.2 1583.8,403.6 1584.6,403.9 1585.4,403.7 1586.2,403.4 1586.9,403.7 1587.7,404 1588.5,403.7 1589.3,403.4 1590.1,403.4 1590.9,403.4 1591.7,403.7 1592.5,403.9 1593.3,403.9 1594.1,403.8 1594.9,404 1595.7,404.1 1596.5,403.8 1597.3,403.6 1598.1,403.8 1598.9,403.9 1599.7,404 1600.5,404.1 1601.3,403.9 1602.1,403.7 1602.9,403.7 1603.7,403.8 1604.4,403.8 1605.2,403.9 1606,403.9 1606.8,404 1607.6,403.8 1608.4,403.6 1609.2,403.8 1610,404 1610.8,404 1611.6,404 1612.4,403.8 1613.2,403.7 1614,403.5 1614.8,403.3 1615.6,403.3 1616.4,403.4 1617.2,403.3 1618,403.2 1618.8,403 1619.6,402.8 1620.4,402.5 1621.2,402.2 1622,401.9 1622.7,401.5 1623.5,400.5 1624.3,399.5 1625.1,399.6 1625.9,399.8 1626.7,399.5 1627.5,399.3 1628.3,399.2 1629.1,399.1 1629.9,399.2 1630.7,399.2 1631.5,398.9 1632.3,398.4 1633.1,397.6 1633.9,396.8 1634.7,396 1635.5,395.1 1636.3,394.3 1637.1,393.7 1637.9,393.2 1638.7,392.7 1639.5,392.1 1640.2,391.5 1641,390.8 1641.8,390 1642.6,389.8 1643.4,389.7 1644.2,389.1 1645,388.7 1645.8,388.1 1646.6,387.5 1647.4,387.7 1648.2,388 1649,388.4 1649.8,388.8 1650.6,389.5 1651.4,390.3 1652.2,391.2 1653,392.4 1653.8,393.8 1654.6,395.3 1655.4,396.4 1656.2,397.5 1657,398.7 1657.8,399.6 1658.5,400.4 1659.3,401.1 1660.1,402 1660.9,402.7 1661.7,402.4 1662.5,402.1 1663.3,402.3 1664.1,402.5 1664.9,402.5 1665.7,402.5 1666.5,402.9 1667.3,403.4 1668.1,403.7 1668.9,404 1669.7,403.9 1670.5,403.8 1671.3,403.8 1672.1,403.8 1672.9,403.4 1673.7,403 1674.5,403.5 1675.3,403.9 1676,403.9 1676.8,403.9 1677.6,403.7 1678.4,403.5 1679.2,403.5 1680,403.6 1680.8,403.6 1681.6,403.6 1682.4,403.8 1683.2,404.1 1684,403.7 1684.8,403.4 1685.6,403.6 1686.4,403.9 1687.2,404 1688,404.2 1688.8,404 1689.6,403.9 1690.4,404.1 1691.2,404.4 1692,404.4 1692.8,404.4 1693.6,404.3 1694.3,404.2 1695.1,404.3 1695.9,404.4 1696.7,404.3 1697.5,404.2 1698.3,404.2 1699.1,404.3 1699.9,404.2 1700.7,404.2 1701.5,404.3 1702.3,404.4 1703.1,404 1703.9,403.6 1704.7,404 1705.5,404.5 1706.3,404.4 1707.1,404.3 1707.9,404.4 1708.7,404.5 1709.5,404.5 1710.3,404.4 1711.1,404.6 1711.9,404.8 1712.6,403.9 1713.4,403.1 1714.2,403.7 1715,404.3 1715.8,404 1716.6,403.7 1717.4,404 1718.2,404.4 1719,404.7 1719.8,405 1720.6,404.7 1721.4,404.5 1722.2,404.6 1723,404.6 1723.8,404.8 1724.6,405 1725.4,404.6 1726.2,404.2 1727,403.6 1727.8,403.1 1728.6,403.6 1729.4,404.1 1730.1,403.8 1730.9,403.5 1731.7,403.4 1732.5,403.3 1733.3,404.6 1734.1,405.9 1734.9,404.3 1735.7,402.7 1736.5,404.1 1737.3,405.5 1738.1,404.1 1738.9,402.7 1739.7,403.4 1740.5,404 1741.3,403.7 1742.1,403.4 1742.9,402.4 1743.7,401.4 1744.5,401.6 1745.3,401.7 1746.1,402.4 1746.9,403.1 1747.7,402.3 1748.4,401.3 1749.2,399.5 1750,397.3 1750.8,393.3 1751.6,388.5 1752.4,384.2 1753.2,378.1 1754,370.7 1754.8,362.9 1755.6,355.5 1756.4,347.3 1757.2,338.4 1758,331.2 1758.8,326.8 1759.6,327.5 1760.4,333.2 1761.2,340.3 1762,347.7 1762.8,355.7 1763.6,362.5 1764.4,369 1765.2,377.3 1765.9,385.4 1766.7,391.3 1767.5,396 1768.3,397.6 1769.1,398.3 1769.9,398.8 1770.7,399 1771.5,400 1772.3,400.7 1773.1,401.5 1773.9,402 1774.7,401.7 1775.5,401.3 1776.3,402 1777.1,402.7 1777.9,400.3 1778.7,398 1779.5,396.3 1780.3,394.7 1781.1,396.8 1781.9,399 1782.7,397.2 1783.5,395.2 1784.2,397.3 1785,399.4 1785.8,398.3 1786.6,397.1 1787.4,396.7 1788.2,396.4 1789,395.9 1789.8,395.8 1790.6,398 1791.4,400.2 1792.2,397.7 1793,395 1793.8,396.6 1794.6,398.2 1795.4,400.1 1796.2,402.2 1797,399.6 1797.8,397.1 1798.6,398.1 1799.4,399.1 1800.2,401 1801,402.9 1801.7,402.1 1802.5,401.2 1803.3,400.5 1804.1,399.8 1804.9,400.3 1805.7,400.7 1806.5,401.4 1807.3,402 1808.1,403.4 1808.9,404.8 1809.7,403.8 1810.5,402.8 1811.3,401.8 1812.1,400.6 1812.9,399.6 1813.7,398.6 1814.5,400.6 1815.3,402.6 1816.1,402.5 1816.9,402.4 1817.7,402.4 1818.5,402.4 1819.3,404.1 1820,405.9 1820.8,408 1821.6,410.1 1822.4,408.7 1823.2,407.2 1824,406.8 1824.8,406.5 1825.6,406 1826.4,405.5 1827.2,406 1828,406.4 1828.8,407.6 1829.6,408.7 1830.4,408.6 1831.2,408.5 1832,408.2 1832.8,407.8 1833.6,408.9 1834.4,409.9 1835.2,410 1836,410 1836.8,411.5 1837.6,412.9 1838.3,411 1839.1,409 1839.9,408.3 1840.7,407.7 1841.5,408.9 1842.3,410.2 1843.1,409.7 1843.9,409.1 1844.7,408.6 1845.5,408.1 1846.3,410 1847.1,412 1847.9,411.3 1848.7,410.7 1849.5,411.1 1850.3,411.6 1851.1,409.4 1851.9,407 1852.7,409.7 1853.5,412.5 1854.3,410.5 1855.1,408.5 1855.8,412.1 1856.6,415.8 1857.4,409.2 1858.2,402.4 1859,404.5 1859.8,406.6 1860.6,409.1 1861.4,411.5 1862.2,410.2 1863,408.8 1863.8,405.1 1864.6,401.4" clip-path="url(#clipC)"/>
<polyline fill="none" stroke="#0000ff" stroke-width="2.1" stroke-linejoin="round" points="1307.7,406.2 1308.5,405.9 1309.3,405.6 1310.1,405.7 1310.9,405.8 1311.7,405.6 1312.5,405.4 1313.3,405.4 1314.1,405.5 1314.9,405.8 1315.7,406.1 1316.5,405.8 1317.2,405.5 1318,405.3 1318.8,405.2 1319.6,405.1 1320.4,405 1321.2,405.2 1322,405.4 1322.8,405.1 1323.6,404.9 1324.4,404.9 1325.2,405 1326,405.2 1326.8,405.3 1327.6,405.1 1328.4,405 1329.2,405.7 1330,406.5 1330.8,405.8 1331.6,405.1 1332.4,405.1 1333.2,405.1 1334,405.4 1334.7,405.6 1335.5,405.4 1336.3,405.1 1337.1,405.3 1337.9,405.4 1338.7,405.1 1339.5,404.2 1340.3,402.8 1341.1,400.9 1341.9,398.2 1342.7,394.5 1343.5,390.4 1344.3,386.8 1345.1,383.7 1345.9,381.7 1346.7,380.4 1347.5,379.6 1348.3,379.2 1349.1,378.6 1349.9,376.3 1350.7,373.2 1351.5,371.1 1352.3,368.9 1353,366.1 1353.8,363.2 1354.6,360.7 1355.4,358.1 1356.2,355.7 1357,353.4 1357.8,350.7 1358.6,348.2 1359.4,346.4 1360.2,346 1361,348 1361.8,351.5 1362.6,355.3 1363.4,358.7 1364.2,362.6 1365,367.5 1365.8,373.3 1366.6,378.8 1367.4,383.8 1368.2,388.4 1369,392.3 1369.8,395.4 1370.6,397.8 1371.3,399.6 1372.1,401.2 1372.9,402.4 1373.7,402.8 1374.5,403.1 1375.3,403.5 1376.1,403.7 1376.9,404.2 1377.7,404.7 1378.5,404.5 1379.3,404.3 1380.1,404.8 1380.9,405.2 1381.7,405.2 1382.5,405.1 1383.3,405.3 1384.1,405.5 1384.9,405.4 1385.7,405.3 1386.5,405.3 1387.3,405.4 1388.1,405.4 1388.8,405.3 1389.6,405.4 1390.4,405.4 1391.2,405.5 1392,405.5 1392.8,405.5 1393.6,405.4 1394.4,405.4 1395.2,405.4 1396,405.6 1396.8,405.7 1397.6,405.8 1398.4,406 1399.2,405.6 1400,405.2 1400.8,405.1 1401.6,404.9 1402.4,405.3 1403.2,405.7 1404,405.4 1404.8,405.1 1405.6,405.3 1406.4,405.5 1407.1,405.4 1407.9,405.2 1408.7,405.1 1409.5,404.9 1410.3,405 1411.1,405.1 1411.9,405.2 1412.7,405.3 1413.5,405.6 1414.3,405.9 1415.1,405.6 1415.9,405.2 1416.7,405.2 1417.5,405.2 1418.3,404.9 1419.1,404.7 1419.9,405 1420.7,405.3 1421.5,405.2 1422.3,405.1 1423.1,405 1423.9,405 1424.6,404.8 1425.4,404.6 1426.2,405 1427,405.4 1427.8,405 1428.6,404.7 1429.4,404.8 1430.2,405 1431,405 1431.8,405.1 1432.6,405.2 1433.4,405.4 1434.2,405.3 1435,405.2 1435.8,404.8 1436.6,404.5 1437.4,404.7 1438.2,405 1439,405 1439.8,405.1 1440.6,405 1441.4,404.9 1442.2,404.5 1442.9,404.2 1443.7,404.2 1444.5,404.3 1445.3,404.3 1446.1,404.3 1446.9,404.3 1447.7,404.2 1448.5,404.2 1449.3,404.3 1450.1,404.4 1450.9,404.6 1451.7,404.6 1452.5,404.7 1453.3,404.2 1454.1,403.8 1454.9,404 1455.7,404.1 1456.5,404 1457.3,403.9 1458.1,404 1458.9,404 1459.7,403.8 1460.4,403.5 1461.2,403.3 1462,403.1 1462.8,403.4 1463.6,403.6 1464.4,403.4 1465.2,403.3 1466,403.2 1466.8,403.2 1467.6,403 1468.4,402.8 1469.2,402.8 1470,402.9 1470.8,402.8 1471.6,402.7 1472.4,402.7 1473.2,402.8 1474,402.6 1474.8,402.4 1475.6,402.5 1476.4,402.5 1477.2,402.2 1478,401.8 1478.7,401.8 1479.5,401.9 1480.3,401.3 1481.1,400.4 1481.9,400.2 1482.7,399.7 1483.5,398.7 1484.3,397.6 1485.1,395.6 1485.9,392.8 1486.7,390 1487.5,387.3 1488.3,384.5 1489.1,380.5 1489.9,371.1 1490.7,359.5 1491.5,350.6 1492.3,341.6 1493.1,331.1 1493.9,320 1494.7,307.7 1495.5,292.2 1496.3,272.1 1497,249.7 1497.8,225.1 1498.6,200.5 1499.4,175.8 1500.2,150 1501,122.6 1501.8,96.2 1502.6,69.4 1503.4,49.6 1504.2,41.9 1505,55.5 1505.8,79.9 1506.6,105.9 1507.4,130.6 1508.2,154.8 1509,176.9 1509.8,196.7 1510.6,217.4 1511.4,243.1 1512.2,271.2 1513,297.6 1513.8,313.9 1514.5,325.7 1515.3,335.7 1516.1,344.9 1516.9,352.8 1517.7,359.2 1518.5,363.7 1519.3,367.5 1520.1,371 1520.9,373.9 1521.7,376.4 1522.5,378.5 1523.3,380.3 1524.1,382 1524.9,383.4 1525.7,384.7 1526.5,386.1 1527.3,387.4 1528.1,388.2 1528.9,388.9 1529.7,390.5 1530.5,392 1531.3,392.4 1532.1,392.6 1532.8,393.7 1533.6,394.8 1534.4,394.9 1535.2,395 1536,395.9 1536.8,396.8 1537.6,397.4 1538.4,398 1539.2,398.4 1540,398.9 1540.8,399.5 1541.6,400 1542.4,400 1543.2,400 1544,400.5 1544.8,400.9 1545.6,400.8 1546.4,400.8 1547.2,401 1548,401.2 1548.8,400.9 1549.6,400.7 1550.3,401.1 1551.1,401.4 1551.9,401.2 1552.7,400.8 1553.5,400.2 1554.3,399.6 1555.1,400 1555.9,400.5 1556.7,400 1557.5,399.5 1558.3,399.3 1559.1,399.1 1559.9,399.5 1560.7,399.9 1561.5,400 1562.3,400.1 1563.1,400.4 1563.9,400.8 1564.7,401.3 1565.5,401.7 1566.3,402.4 1567.1,403 1567.9,403 1568.6,402.9 1569.4,403 1570.2,403.1 1571,402.9 1571.8,402.8 1572.6,403.1 1573.4,403.3 1574.2,403.4 1575,403.5 1575.8,403.8 1576.6,404 1577.4,403.9 1578.2,403.7 1579,403.7 1579.8,403.6 1580.6,404.2 1581.4,404.7 1582.2,404.3 1583,403.9 1583.8,403.8 1584.6,403.8 1585.4,403.9 1586.2,404.1 1586.9,404.1 1587.7,404.1 1588.5,404.2 1589.3,404.3 1590.1,404 1590.9,403.8 1591.7,404.1 1592.5,404.3 1593.3,404 1594.1,403.7 1594.9,403.9 1595.7,404 1596.5,404.5 1597.3,404.9 1598.1,404.6 1598.9,404.3 1599.7,404.2 1600.5,404.1 1601.3,404 1602.1,403.9 1602.9,404 1603.7,404.2 1604.4,404.2 1605.2,404.3 1606,404.1 1606.8,403.9 1607.6,403.8 1608.4,403.6 1609.2,404.2 1610,404.8 1610.8,404.5 1611.6,404.3 1612.4,403.8 1613.2,403.3 1614,403.5 1614.8,403.6 1615.6,403.7 1616.4,403.9 1617.2,403.3 1618,402.6 1618.8,402.3 1619.6,402 1620.4,402.1 1621.2,402.1 1622,401.6 1622.7,401 1623.5,400.5 1624.3,400 1625.1,399.3 1625.9,398.8 1626.7,398.6 1627.5,398.5 1628.3,398.7 1629.1,398.9 1629.9,398.9 1630.7,398.7 1631.5,398.3 1632.3,397.8 1633.1,397.4 1633.9,397 1634.7,395.8 1635.5,394.6 1636.3,393.7 1637.1,392.8 1637.9,392.2 1638.7,391.5 1639.5,390.8 1640.2,390.1 1641,389.3 1641.8,388.6 1642.6,388.2 1643.4,387.9 1644.2,387.5 1645,387.2 1645.8,386.6 1646.6,386.1 1647.4,386.2 1648.2,386.5 1649,386.6 1649.8,386.7 1650.6,387.9 1651.4,389.4 1652.2,390.1 1653,391.1 1653.8,392.9 1654.6,394.7 1655.4,395.6 1656.2,396.5 1657,398.3 1657.8,399.7 1658.5,400.4 1659.3,400.9 1660.1,402 1660.9,402.9 1661.7,403 1662.5,403 1663.3,402.9 1664.1,402.7 1664.9,403.1 1665.7,403.4 1666.5,403.5 1667.3,403.6 1668.1,403.5 1668.9,403.3 1669.7,403.5 1670.5,403.7 1671.3,403.7 1672.1,403.8 1672.9,403.8 1673.7,403.8 1674.5,404 1675.3,404.1 1676,403.8 1676.8,403.5 1677.6,403.6 1678.4,403.7 1679.2,404 1680,404.2 1680.8,404.3 1681.6,404.3 1682.4,404.6 1683.2,404.9 1684,404.8 1684.8,404.7 1685.6,404.3 1686.4,403.8 1687.2,404.3 1688,404.7 1688.8,404.6 1689.6,404.5 1690.4,404.1 1691.2,403.7 1692,403.8 1692.8,403.9 1693.6,404.1 1694.3,404.2 1695.1,404.2 1695.9,404.2 1696.7,404.3 1697.5,404.5 1698.3,404.4 1699.1,404.3 1699.9,404.3 1700.7,404.3 1701.5,404.1 1702.3,403.8 1703.1,403.9 1703.9,404 1704.7,404.4 1705.5,404.8 1706.3,404.2 1707.1,403.7 1707.9,403.8 1708.7,404 1709.5,403.9 1710.3,403.8 1711.1,403.7 1711.9,403.7 1712.6,403.8 1713.4,404 1714.2,404.1 1715,404.3 1715.8,404 1716.6,403.6 1717.4,403.6 1718.2,403.7 1719,404.1 1719.8,404.6 1720.6,404.6 1721.4,404.6 1722.2,404.4 1723,404.3 1723.8,404.2 1724.6,404.1 1725.4,404.3 1726.2,404.6 1727,405.1 1727.8,405.7 1728.6,404.6 1729.4,403.5 1730.1,404.3 1730.9,405.2 1731.7,405.4 1732.5,405.6 1733.3,405.5 1734.1,405.4 1734.9,405 1735.7,404.6 1736.5,404.7 1737.3,404.9 1738.1,406 1738.9,407.1 1739.7,406.6 1740.5,406.1 1741.3,406 1742.1,405.9 1742.9,405.2 1743.7,404.5 1744.5,403.5 1745.3,402.4 1746.1,402 1746.9,401.5 1747.7,398.7 1748.4,395.5 1749.2,394.1 1750,392.2 1750.8,388.1 1751.6,382.7 1752.4,377 1753.2,368.6 1754,360.3 1754.8,351.7 1755.6,340 1756.4,327.3 1757.2,317.3 1758,309.6 1758.8,301.4 1759.6,300.2 1760.4,306.3 1761.2,314.2 1762,325.5 1762.8,337.3 1763.6,347.4 1764.4,357.1 1765.2,367.4 1765.9,377.3 1766.7,382.9 1767.5,386.9 1768.3,391 1769.1,393.7 1769.9,396 1770.7,397.9 1771.5,399.8 1772.3,401.4 1773.1,401.6 1773.9,401.3 1774.7,399 1775.5,396.6 1776.3,393.9 1777.1,391.2 1777.9,393.2 1778.7,395.5 1779.5,394.6 1780.3,394 1781.1,395.2 1781.9,396.4 1782.7,398.1 1783.5,399.5 1784.2,395.8 1785,391.9 1785.8,391.8 1786.6,391.6 1787.4,390.2 1788.2,389.1 1789,390.4 1789.8,392.3 1790.6,393.2 1791.4,394.2 1792.2,392.1 1793,389.6 1793.8,392.5 1794.6,395.5 1795.4,393.8 1796.2,392 1797,392.1 1797.8,392.3 1798.6,394.1 1799.4,396 1800.2,397.3 1801,398.5 1801.7,398.1 1802.5,397.6 1803.3,400.7 1804.1,403.8 1804.9,402.4 1805.7,400.9 1806.5,401.5 1807.3,402 1808.1,403.8 1808.9,405.5 1809.7,404.2 1810.5,402.9 1811.3,401.4 1812.1,399.9 1812.9,398 1813.7,396.1 1814.5,401.1 1815.3,406.3 1816.1,404.3 1816.9,402.3 1817.7,402.6 1818.5,402.9 1819.3,404.2 1820,405.6 1820.8,406.2 1821.6,406.8 1822.4,405.3 1823.2,403.8 1824,403.5 1824.8,403.2 1825.6,406.8 1826.4,410.4 1827.2,405.8 1828,401 1828.8,403.8 1829.6,406.6 1830.4,406.3 1831.2,405.9 1832,407.2 1832.8,408.4 1833.6,405.4 1834.4,402.3 1835.2,406.8 1836,411.4 1836.8,409.9 1837.6,408.5 1838.3,407.4 1839.1,406.3 1839.9,408.3 1840.7,410.3 1841.5,409.1 1842.3,407.9 1843.1,406.5 1843.9,405.1 1844.7,403.9 1845.5,402.6 1846.3,405.2 1847.1,407.8 1847.9,408.3 1848.7,408.9 1849.5,407.1 1850.3,405.3 1851.1,406 1851.9,406.7 1852.7,409 1853.5,411.3 1854.3,407.5 1855.1,403.6 1855.8,405.9 1856.6,408.3 1857.4,409.6 1858.2,410.9 1859,407 1859.8,403 1860.6,403.9 1861.4,404.7 1862.2,407.6 1863,410.6 1863.8,407.4 1864.6,404.2" clip-path="url(#clipC)"/>
<polyline fill="none" stroke="#ff00ff" stroke-width="2.1" stroke-linejoin="round" points="1307.7,405.9 1308.5,406 1309.3,406.1 1310.1,405.8 1310.9,405.5 1311.7,405.6 1312.5,405.8 1313.3,405.7 1314.1,405.6 1314.9,405.9 1315.7,406.1 1316.5,406 1317.2,405.9 1318,406.1 1318.8,406.2 1319.6,406.1 1320.4,405.9 1321.2,405.9 1322,405.9 1322.8,405.9 1323.6,405.8 1324.4,406 1325.2,406.2 1326,405.9 1326.8,405.5 1327.6,405.9 1328.4,406.3 1329.2,405.9 1330,405.5 1330.8,405.7 1331.6,405.9 1332.4,405.7 1333.2,405.5 1334,405.8 1334.7,406.1 1335.5,405.9 1336.3,405.7 1337.1,405.5 1337.9,405.3 1338.7,404.9 1339.5,403.9 1340.3,402.9 1341.1,401.5 1341.9,398.8 1342.7,395.1 1343.5,391.9 1344.3,389 1345.1,385.9 1345.9,383.7 1346.7,383 1347.5,382.8 1348.3,382.7 1349.1,382.4 1349.9,380.3 1350.7,377.5 1351.5,375.6 1352.3,373.7 1353,371.6 1353.8,369.3 1354.6,366.6 1355.4,363.9 1356.2,361.2 1357,358.6 1357.8,356.4 1358.6,354.4 1359.4,353.1 1360.2,353.1 1361,354.7 1361.8,357.8 1362.6,361.3 1363.4,364.4 1364.2,367.7 1365,371.8 1365.8,376.7 1366.6,381.5 1367.4,386.5 1368.2,391.2 1369,394.5 1369.8,397.2 1370.6,399.4 1371.3,401.1 1372.1,402.3 1372.9,403.1 1373.7,403.4 1374.5,403.5 1375.3,404 1376.1,404.4 1376.9,404.7 1377.7,405.1 1378.5,405.1 1379.3,405.1 1380.1,405.2 1380.9,405.3 1381.7,405.2 1382.5,405.1 1383.3,405.3 1384.1,405.4 1384.9,405.5 1385.7,405.5 1386.5,405.4 1387.3,405.3 1388.1,405.4 1388.8,405.5 1389.6,405.4 1390.4,405.3 1391.2,405.6 1392,405.9 1392.8,405.9 1393.6,405.9 1394.4,405.8 1395.2,405.7 1396,405.3 1396.8,405 1397.6,405.4 1398.4,405.9 1399.2,405.7 1400,405.5 1400.8,405.4 1401.6,405.4 1402.4,405.6 1403.2,405.8 1404,405.8 1404.8,405.8 1405.6,405.3 1406.4,404.8 1407.1,405.2 1407.9,405.5 1408.7,405.5 1409.5,405.5 1410.3,405.4 1411.1,405.3 1411.9,405.3 1412.7,405.3 1413.5,405.6 1414.3,405.8 1415.1,405.8 1415.9,405.8 1416.7,405.6 1417.5,405.4 1418.3,405.4 1419.1,405.5 1419.9,405.4 1420.7,405.3 1421.5,405.4 1422.3,405.6 1423.1,405 1423.9,404.4 1424.6,404.7 1425.4,405 1426.2,404.8 1427,404.5 1427.8,404.9 1428.6,405.3 1429.4,405.2 1430.2,405.1 1431,405.1 1431.8,405.2 1432.6,405.1 1433.4,405 1434.2,404.9 1435,404.8 1435.8,405 1436.6,405.1 1437.4,405.2 1438.2,405.2 1439,405.2 1439.8,405.1 1440.6,405 1441.4,404.9 1442.2,404.7 1442.9,404.6 1443.7,404.9 1444.5,405.3 1445.3,405.1 1446.1,405 1446.9,404.8 1447.7,404.6 1448.5,404.5 1449.3,404.3 1450.1,404.5 1450.9,404.7 1451.7,404.6 1452.5,404.4 1453.3,404.5 1454.1,404.5 1454.9,404.4 1455.7,404.4 1456.5,404.3 1457.3,404.2 1458.1,404.2 1458.9,404.3 1459.7,404.2 1460.4,404 1461.2,404 1462,404 1462.8,403.6 1463.6,403.3 1464.4,403.5 1465.2,403.6 1466,403.3 1466.8,403 1467.6,403.2 1468.4,403.4 1469.2,403.3 1470,403.2 1470.8,403.2 1471.6,403.3 1472.4,403.1 1473.2,402.9 1474,402.6 1474.8,402.4 1475.6,402.3 1476.4,402.2 1477.2,402.5 1478,402.8 1478.7,402.2 1479.5,401.5 1480.3,401.6 1481.1,401.5 1481.9,400.8 1482.7,400 1483.5,399 1484.3,397.9 1485.1,396.5 1485.9,394.5 1486.7,392.1 1487.5,389.8 1488.3,386.8 1489.1,382.8 1489.9,375.1 1490.7,365.5 1491.5,356.8 1492.3,348.1 1493.1,339.2 1493.9,329.8 1494.7,319 1495.5,305.2 1496.3,287 1497,266.7 1497.8,245.1 1498.6,223.4 1499.4,201.2 1500.2,178.1 1501,154.1 1501.8,131.1 1502.6,106.5 1503.4,88.2 1504.2,82.1 1505,95 1505.8,116.4 1506.6,139.4 1507.4,161.5 1508.2,183.1 1509,202.5 1509.8,219.9 1510.6,238.4 1511.4,261.3 1512.2,286.2 1513,309.6 1513.8,324 1514.5,334.3 1515.3,343 1516.1,351 1516.9,357.9 1517.7,363.5 1518.5,368.1 1519.3,372.1 1520.1,374.9 1520.9,377.3 1521.7,379.5 1522.5,381.4 1523.3,383 1524.1,384.4 1524.9,385.6 1525.7,386.6 1526.5,387.8 1527.3,388.9 1528.1,390 1528.9,391 1529.7,392.1 1530.5,393.1 1531.3,394 1532.1,394.8 1532.8,395.6 1533.6,396.3 1534.4,396.8 1535.2,397.3 1536,397.7 1536.8,398.1 1537.6,398.3 1538.4,398.5 1539.2,399.1 1540,399.7 1540.8,400.1 1541.6,400.4 1542.4,400.9 1543.2,401.4 1544,401.7 1544.8,401.8 1545.6,401.6 1546.4,401.4 1547.2,401 1548,400.7 1548.8,401.2 1549.6,401.7 1550.3,401.4 1551.1,401 1551.9,401.3 1552.7,401.5 1553.5,401.3 1554.3,401 1555.1,400.8 1555.9,400.7 1556.7,400.6 1557.5,400.5 1558.3,400.2 1559.1,400 1559.9,400.2 1560.7,400.5 1561.5,400.8 1562.3,401.1 1563.1,401.5 1563.9,401.9 1564.7,402 1565.5,402.1 1566.3,402.2 1567.1,402.3 1567.9,402.6 1568.6,403 1569.4,403.2 1570.2,403.4 1571,403.6 1571.8,403.7 1572.6,403.7 1573.4,403.7 1574.2,403.9 1575,404.1 1575.8,403.7 1576.6,403.4 1577.4,403.8 1578.2,404.1 1579,403.9 1579.8,403.6 1580.6,404 1581.4,404.4 1582.2,404.1 1583,403.8 1583.8,403.9 1584.6,403.9 1585.4,403.9 1586.2,403.9 1586.9,404 1587.7,404.1 1588.5,404.3 1589.3,404.6 1590.1,404 1590.9,403.5 1591.7,404.1 1592.5,404.7 1593.3,404.4 1594.1,404 1594.9,404.2 1595.7,404.4 1596.5,404.5 1597.3,404.7 1598.1,404.4 1598.9,404.1 1599.7,404 1600.5,403.9 1601.3,404 1602.1,404.1 1602.9,404.4 1603.7,404.8 1604.4,404.7 1605.2,404.6 1606,404.4 1606.8,404.2 1607.6,404.2 1608.4,404.2 1609.2,404.1 1610,404 1610.8,404.1 1611.6,404.3 1612.4,404.4 1613.2,404.6 1614,404.4 1614.8,404.3 1615.6,403.9 1616.4,403.6 1617.2,403.7 1618,403.7 1618.8,403.5 1619.6,403.3 1620.4,402.7 1621.2,402.1 1622,401.6 1622.7,401.1 1623.5,400.7 1624.3,400.4 1625.1,399.7 1625.9,399.2 1626.7,399.1 1627.5,399.1 1628.3,398.9 1629.1,398.8 1629.9,398.9 1630.7,398.9 1631.5,398.5 1632.3,397.9 1633.1,397.3 1633.9,396.6 1634.7,396 1635.5,395.3 1636.3,394.1 1637.1,392.9 1637.9,392.1 1638.7,391.3 1639.5,390.8 1640.2,390.3 1641,389.7 1641.8,389 1642.6,388.4 1643.4,387.8 1644.2,387.3 1645,387 1645.8,386.8 1646.6,386.7 1647.4,386.5 1648.2,386.5 1649,386.9 1649.8,387.3 1650.6,387.9 1651.4,388.7 1652.2,390 1653,391.6 1653.8,393 1654.6,394.4 1655.4,396.1 1656.2,397.8 1657,398.7 1657.8,399.2 1658.5,400.6 1659.3,401.8 1660.1,402.2 1660.9,402.3 1661.7,402.4 1662.5,402.4 1663.3,403.1 1664.1,403.7 1664.9,403.5 1665.7,403.4 1666.5,403.7 1667.3,404.1 1668.1,403.8 1668.9,403.5 1669.7,403.8 1670.5,404 1671.3,404.1 1672.1,404.2 1672.9,404.3 1673.7,404.4 1674.5,404.2 1675.3,404 1676,404.1 1676.8,404.2 1677.6,404.2 1678.4,404.1 1679.2,404.1 1680,404.1 1680.8,404.3 1681.6,404.6 1682.4,404.5 1683.2,404.4 1684,404.2 1684.8,404.1 1685.6,404.2 1686.4,404.3 1687.2,404.3 1688,404.4 1688.8,404.4 1689.6,404.5 1690.4,404.5 1691.2,404.6 1692,404.6 1692.8,404.5 1693.6,404.5 1694.3,404.5 1695.1,404.1 1695.9,403.7 1696.7,404.1 1697.5,404.6 1698.3,404.7 1699.1,404.9 1699.9,404.6 1700.7,404.4 1701.5,404.5 1702.3,404.6 1703.1,404.7 1703.9,404.8 1704.7,404.5 1705.5,404.2 1706.3,404.4 1707.1,404.6 1707.9,404.8 1708.7,404.9 1709.5,404.6 1710.3,404.3 1711.1,404 1711.9,403.7 1712.6,403.8 1713.4,403.9 1714.2,404.2 1715,404.5 1715.8,404.5 1716.6,404.5 1717.4,404.6 1718.2,404.7 1719,404.5 1719.8,404.2 1720.6,404.5 1721.4,404.8 1722.2,404.6 1723,404.5 1723.8,404.6 1724.6,404.8 1725.4,404.7 1726.2,404.6 1727,405.3 1727.8,406.1 1728.6,405.4 1729.4,404.8 1730.1,405 1730.9,405.2 1731.7,405.1 1732.5,405 1733.3,404.8 1734.1,404.5 1734.9,405.2 1735.7,405.8 1736.5,405.7 1737.3,405.6 1738.1,405.1 1738.9,404.7 1739.7,404.7 1740.5,404.6 1741.3,404.1 1742.1,403.6 1742.9,403.7 1743.7,403.7 1744.5,404.3 1745.3,404.8 1746.1,403.2 1746.9,401.5 1747.7,400.9 1748.4,400 1749.2,398.3 1750,396.3 1750.8,393 1751.6,388.9 1752.4,384.7 1753.2,378.7 1754,371.7 1754.8,364.5 1755.6,357.5 1756.4,349.8 1757.2,340.6 1758,333.2 1758.8,326.6 1759.6,325.2 1760.4,330.5 1761.2,337.3 1762,346.7 1762.8,356.5 1763.6,364.5 1764.4,372.1 1765.2,378.7 1765.9,384.9 1766.7,389.2 1767.5,392.4 1768.3,396.1 1769.1,398.9 1769.9,398.8 1770.7,398.3 1771.5,398.4 1772.3,398.3 1773.1,400.8 1773.9,402.9 1774.7,399.8 1775.5,396.5 1776.3,395.7 1777.1,394.8 1777.9,396.9 1778.7,399.3 1779.5,398.7 1780.3,398.5 1781.1,397.5 1781.9,396.4 1782.7,396.3 1783.5,396 1784.2,396.2 1785,396.3 1785.8,395 1786.6,393.7 1787.4,392.3 1788.2,391.1 1789,392.5 1789.8,394.4 1790.6,396.3 1791.4,398.3 1792.2,397 1793,395.3 1793.8,394.4 1794.6,393.4 1795.4,392.9 1796.2,392.4 1797,393.1 1797.8,394 1798.6,398.5 1799.4,403.1 1800.2,402 1801,400.9 1801.7,400.3 1802.5,399.7 1803.3,400.9 1804.1,402.2 1804.9,401.1 1805.7,400 1806.5,400.5 1807.3,400.9 1808.1,400.8 1808.9,400.5 1809.7,400 1810.5,399.6 1811.3,402 1812.1,404.5 1812.9,401.8 1813.7,399.2 1814.5,403.1 1815.3,407.2 1816.1,407 1816.9,406.8 1817.7,407.1 1818.5,407.5 1819.3,407.5 1820,407.5 1820.8,405.7 1821.6,403.8 1822.4,402.6 1823.2,401.4 1824,405.6 1824.8,410 1825.6,407.1 1826.4,404.2 1827.2,403.6 1828,403 1828.8,404.4 1829.6,405.7 1830.4,409 1831.2,412.4 1832,408.9 1832.8,405.4 1833.6,404.8 1834.4,404.2 1835.2,408.2 1836,412.2 1836.8,410.4 1837.6,408.5 1838.3,406.2 1839.1,403.8 1839.9,404.9 1840.7,406 1841.5,404.8 1842.3,403.5 1843.1,403.3 1843.9,403.1 1844.7,407.1 1845.5,411.2 1846.3,411.1 1847.1,411 1847.9,407.6 1848.7,404.2 1849.5,406.2 1850.3,408.3 1851.1,406.3 1851.9,404.3 1852.7,404.8 1853.5,405.3 1854.3,407.7 1855.1,410.1 1855.8,407 1856.6,404 1857.4,404.8 1858.2,405.7 1859,407.6 1859.8,409.6 1860.6,409.4 1861.4,409.2 1862.2,409.4 1863,409.5 1863.8,408 1864.6,406.4" clip-path="url(#clipC)"/>
<polyline fill="none" stroke="#008000" stroke-width="2.1" stroke-linejoin="round" points="1307.7,406.2 1308.5,406.3 1309.3,406.4 1310.1,406.5 1310.9,406.7 1311.7,406.5 1312.5,406.3 1313.3,406.3 1314.1,406.4 1314.9,406.4 1315.7,406.5 1316.5,406.6 1317.2,406.6 1318,406.2 1318.8,405.9 1319.6,405.9 1320.4,405.9 1321.2,406.3 1322,406.7 1322.8,406.4 1323.6,406.1 1324.4,406.2 1325.2,406.2 1326,406.1 1326.8,405.9 1327.6,406.2 1328.4,406.6 1329.2,406.3 1330,406.1 1330.8,406.3 1331.6,406.5 1332.4,406.5 1333.2,406.4 1334,406.4 1334.7,406.3 1335.5,406.2 1336.3,406.1 1337.1,406.1 1337.9,406.2 1338.7,406.4 1339.5,406.4 1340.3,405.6 1341.1,404.7 1341.9,404 1342.7,402.9 1343.5,401.8 1344.3,400.8 1345.1,400 1345.9,399.5 1346.7,399 1347.5,398.7 1348.3,398.4 1349.1,398.1 1349.9,397.4 1350.7,396.5 1351.5,395.9 1352.3,395.3 1353,394.7 1353.8,394.1 1354.6,393 1355.4,392 1356.2,391.4 1357,390.8 1357.8,389.8 1358.6,388.9 1359.4,388.5 1360.2,388.6 1361,389.4 1361.8,390.6 1362.6,391.5 1363.4,392.2 1364.2,393.4 1365,394.8 1365.8,396.6 1366.6,398.2 1367.4,400 1368.2,401.6 1369,402.7 1369.8,403.6 1370.6,404.1 1371.3,404.3 1372.1,404.9 1372.9,405.4 1373.7,405.4 1374.5,405.3 1375.3,405.4 1376.1,405.5 1376.9,405.9 1377.7,406.3 1378.5,406.3 1379.3,406.2 1380.1,406.6 1380.9,407 1381.7,406.7 1382.5,406.3 1383.3,406.4 1384.1,406.5 1384.9,406.4 1385.7,406.3 1386.5,406.4 1387.3,406.5 1388.1,406.5 1388.8,406.5 1389.6,406.6 1390.4,406.6 1391.2,406.6 1392,406.6 1392.8,406.3 1393.6,406 1394.4,406.1 1395.2,406.2 1396,406 1396.8,405.7 1397.6,405.9 1398.4,406.1 1399.2,406.3 1400,406.4 1400.8,406.4 1401.6,406.5 1402.4,406.2 1403.2,405.9 1404,406.3 1404.8,406.8 1405.6,406.6 1406.4,406.3 1407.1,406.3 1407.9,406.3 1408.7,406.6 1409.5,406.9 1410.3,406.4 1411.1,406 1411.9,406.1 1412.7,406.3 1413.5,406.3 1414.3,406.3 1415.1,406.4 1415.9,406.5 1416.7,406.4 1417.5,406.3 1418.3,406.3 1419.1,406.3 1419.9,406.1 1420.7,405.9 1421.5,406.1 1422.3,406.3 1423.1,405.9 1423.9,405.5 1424.6,406 1425.4,406.4 1426.2,406.3 1427,406.2 1427.8,406.3 1428.6,406.4 1429.4,406.1 1430.2,405.9 1431,406.1 1431.8,406.3 1432.6,406 1433.4,405.8 1434.2,405.8 1435,405.9 1435.8,405.9 1436.6,406 1437.4,406.3 1438.2,406.6 1439,406.3 1439.8,406.1 1440.6,406.1 1441.4,406.1 1442.2,406 1442.9,405.9 1443.7,406.2 1444.5,406.5 1445.3,406.2 1446.1,405.9 1446.9,405.9 1447.7,405.9 1448.5,406 1449.3,406.1 1450.1,406 1450.9,405.9 1451.7,406 1452.5,406.1 1453.3,405.9 1454.1,405.7 1454.9,406 1455.7,406.3 1456.5,406.2 1457.3,406.1 1458.1,405.6 1458.9,405.1 1459.7,405.5 1460.4,405.8 1461.2,405.8 1462,405.8 1462.8,405.9 1463.6,406 1464.4,405.9 1465.2,405.7 1466,405.7 1466.8,405.6 1467.6,405.7 1468.4,405.9 1469.2,405.9 1470,405.9 1470.8,405.8 1471.6,405.6 1472.4,405.3 1473.2,405 1474,405.2 1474.8,405.5 1475.6,405 1476.4,404.6 1477.2,404.8 1478,404.9 1478.7,405 1479.5,405 1480.3,405.1 1481.1,405.1 1481.9,404.7 1482.7,404.3 1483.5,403.6 1484.3,402.9 1485.1,402.9 1485.9,402.8 1486.7,401.6 1487.5,400.5 1488.3,399.3 1489.1,397.7 1489.9,395 1490.7,391.6 1491.5,388.7 1492.3,385.8 1493.1,382.6 1493.9,379.2 1494.7,375 1495.5,369.7 1496.3,363.8 1497,357 1497.8,348.7 1498.6,340.3 1499.4,332.7 1500.2,324.7 1501,316.1 1501.8,307.9 1502.6,299.1 1503.4,292.5 1504.2,290.1 1505,294.5 1505.8,302.3 1506.6,310.6 1507.4,318.7 1508.2,326.7 1509,333.6 1509.8,339.8 1510.6,346.2 1511.4,354.2 1512.2,363.3 1513,371.8 1513.8,376.8 1514.5,380.5 1515.3,383.7 1516.1,386.7 1516.9,389.4 1517.7,391.7 1518.5,393.1 1519.3,394.3 1520.1,395.4 1520.9,396.3 1521.7,397 1522.5,397.7 1523.3,398.2 1524.1,398.7 1524.9,399.2 1525.7,399.6 1526.5,399.9 1527.3,400.2 1528.1,400.6 1528.9,401 1529.7,401.5 1530.5,402.1 1531.3,402.1 1532.1,402.1 1532.8,402.4 1533.6,402.7 1534.4,403.1 1535.2,403.4 1536,403.5 1536.8,403.6 1537.6,403.8 1538.4,404 1539.2,404.1 1540,404.2 1540.8,404.6 1541.6,405.1 1542.4,405.2 1543.2,405.3 1544,405 1544.8,404.6 1545.6,404.8 1546.4,405 1547.2,404.7 1548,404.5 1548.8,404.5 1549.6,404.5 1550.3,404.6 1551.1,404.8 1551.9,404.5 1552.7,404.3 1553.5,404.6 1554.3,404.9 1555.1,404.7 1555.9,404.5 1556.7,404.6 1557.5,404.8 1558.3,404.6 1559.1,404.4 1559.9,404.3 1560.7,404.2 1561.5,404.5 1562.3,404.7 1563.1,404.8 1563.9,404.9 1564.7,405.2 1565.5,405.5 1566.3,405.4 1567.1,405.3 1567.9,405.5 1568.6,405.7 1569.4,405.6 1570.2,405.5 1571,405.6 1571.8,405.8 1572.6,405.6 1573.4,405.4 1574.2,405.4 1575,405.5 1575.8,405.6 1576.6,405.6 1577.4,405.6 1578.2,405.5 1579,405.5 1579.8,405.4 1580.6,405.6 1581.4,405.8 1582.2,405.9 1583,406 1583.8,406 1584.6,406 1585.4,405.7 1586.2,405.4 1586.9,405.6 1587.7,405.8 1588.5,406 1589.3,406.2 1590.1,406.2 1590.9,406.2 1591.7,405.9 1592.5,405.6 1593.3,405.8 1594.1,406 1594.9,405.7 1595.7,405.4 1596.5,405.4 1597.3,405.5 1598.1,405.7 1598.9,406 1599.7,406 1600.5,406 1601.3,406.1 1602.1,406.2 1602.9,405.9 1603.7,405.7 1604.4,406 1605.2,406.3 1606,406.1 1606.8,405.8 1607.6,405.9 1608.4,406 1609.2,405.8 1610,405.5 1610.8,405.7 1611.6,406 1612.4,406 1613.2,406.1 1614,405.8 1614.8,405.6 1615.6,405.8 1616.4,406 1617.2,405.7 1618,405.5 1618.8,405.5 1619.6,405.6 1620.4,405.5 1621.2,405.5 1622,405.3 1622.7,405.1 1623.5,404.9 1624.3,404.7 1625.1,404.7 1625.9,404.7 1626.7,404.4 1627.5,404.2 1628.3,404.2 1629.1,404.3 1629.9,404.4 1630.7,404.4 1631.5,404 1632.3,403.6 1633.1,403.6 1633.9,403.5 1634.7,403.1 1635.5,402.6 1636.3,402.8 1637.1,403.1 1637.9,402.4 1638.7,401.7 1639.5,401.7 1640.2,401.6 1641,401.2 1641.8,400.8 1642.6,400.8 1643.4,400.9 1644.2,400.8 1645,400.8 1645.8,400.7 1646.6,400.6 1647.4,400.5 1648.2,400.4 1649,400.8 1649.8,401.2 1650.6,401.3 1651.4,401.3 1652.2,401.7 1653,402.2 1653.8,402.2 1654.6,402.3 1655.4,403 1656.2,403.7 1657,404.2 1657.8,404.6 1658.5,405.2 1659.3,405.8 1660.1,405.6 1660.9,405.3 1661.7,405.5 1662.5,405.6 1663.3,405.6 1664.1,405.6 1664.9,405.6 1665.7,405.7 1666.5,405.8 1667.3,405.9 1668.1,406 1668.9,406.1 1669.7,406 1670.5,405.9 1671.3,405.9 1672.1,405.9 1672.9,405.9 1673.7,405.9 1674.5,405.9 1675.3,405.9 1676,405.8 1676.8,405.8 1677.6,406 1678.4,406.2 1679.2,405.9 1680,405.7 1680.8,405.9 1681.6,406.1 1682.4,406 1683.2,405.9 1684,406 1684.8,406.1 1685.6,406 1686.4,405.9 1687.2,405.7 1688,405.5 1688.8,405.7 1689.6,405.8 1690.4,405.9 1691.2,405.9 1692,405.9 1692.8,406 1693.6,406.1 1694.3,406.2 1695.1,406.3 1695.9,406.4 1696.7,406.5 1697.5,406.7 1698.3,406.3 1699.1,406 1699.9,405.9 1700.7,405.8 1701.5,405.8 1702.3,405.8 1703.1,406.2 1703.9,406.7 1704.7,406.5 1705.5,406.4 1706.3,406.1 1707.1,405.9 1707.9,406 1708.7,406.2 1709.5,406 1710.3,405.7 1711.1,405.7 1711.9,405.6 1712.6,406.1 1713.4,406.7 1714.2,406.2 1715,405.6 1715.8,405.9 1716.6,406.1 1717.4,406.2 1718.2,406.4 1719,406.1 1719.8,405.9 1720.6,406.2 1721.4,406.5 1722.2,406.8 1723,407.1 1723.8,406.3 1724.6,405.6 1725.4,405.7 1726.2,405.8 1727,405.8 1727.8,405.8 1728.6,405.9 1729.4,406 1730.1,406.5 1730.9,407.1 1731.7,406.6 1732.5,406.1 1733.3,405.5 1734.1,404.9 1734.9,405.4 1735.7,405.8 1736.5,406 1737.3,406.1 1738.1,406 1738.9,405.9 1739.7,406.1 1740.5,406.2 1741.3,405.9 1742.1,405.7 1742.9,405.5 1743.7,405.4 1744.5,405.4 1745.3,405.2 1746.1,404.4 1746.9,403.5 1747.7,402.6 1748.4,401.4 1749.2,400 1750,398.1 1750.8,394.3 1751.6,389.5 1752.4,386.6 1753.2,381.9 1754,375.7 1754.8,369.1 1755.6,361.2 1756.4,352.6 1757.2,345.5 1758,340 1758.8,332.5 1759.6,329.8 1760.4,336.1 1761.2,343.7 1762,351.3 1762.8,359.2 1763.6,366.4 1764.4,373.3 1765.2,379.6 1765.9,385.5 1766.7,391.2 1767.5,395.7 1768.3,397.9 1769.1,399.2 1769.9,401 1770.7,402.5 1771.5,403.2 1772.3,403.7 1773.1,403.7 1773.9,403.5 1774.7,404.5 1775.5,405.3 1776.3,403.6 1777.1,401.8 1777.9,402.8 1778.7,403.8 1779.5,403 1780.3,402.3 1781.1,403.5 1781.9,404.7 1782.7,404.3 1783.5,403.8 1784.2,404.3 1785,404.8 1785.8,403.3 1786.6,401.9 1787.4,402.3 1788.2,402.9 1789,403.4 1789.8,404.1 1790.6,404.7 1791.4,405.3 1792.2,402.5 1793,399.6 1793.8,401.2 1794.6,402.8 1795.4,402.6 1796.2,402.4 1797,402 1797.8,401.6 1798.6,402.4 1799.4,403.3 1800.2,402.7 1801,402 1801.7,403.5 1802.5,405.1 1803.3,404.8 1804.1,404.6 1804.9,403.2 1805.7,401.8 1806.5,405 1807.3,408.2 1808.1,406.9 1808.9,405.5 1809.7,406.4 1810.5,407.4 1811.3,405 1812.1,402.6 1812.9,404.8 1813.7,407 1814.5,406.5 1815.3,406 1816.1,406.2 1816.9,406.3 1817.7,407.6 1818.5,408.8 1819.3,408.3 1820,407.8 1820.8,408.3 1821.6,408.7 1822.4,406.8 1823.2,404.9 1824,407 1824.8,409 1825.6,406.8 1826.4,404.5 1827.2,405.5 1828,406.6 1828.8,406 1829.6,405.3 1830.4,404.6 1831.2,404 1832,404.5 1832.8,405.1 1833.6,405.7 1834.4,406.4 1835.2,407.9 1836,409.5 1836.8,408.8 1837.6,408.1 1838.3,407.8 1839.1,407.4 1839.9,406.4 1840.7,405.5 1841.5,406.5 1842.3,407.6 1843.1,408 1843.9,408.4 1844.7,405.2 1845.5,402 1846.3,404.1 1847.1,406.3 1847.9,406.2 1848.7,406 1849.5,408 1850.3,409.9 1851.1,409.7 1851.9,409.4 1852.7,409.4 1853.5,409.3 1854.3,410.1 1855.1,411 1855.8,409.4 1856.6,407.9 1857.4,407.4 1858.2,407 1859,408.7 1859.8,410.4 1860.6,410 1861.4,409.7 1862.2,407.1 1863,404.5 1863.8,409 1864.6,413.5" clip-path="url(#clipC)"/>
<polyline fill="none" stroke="#808000" stroke-width="2.1" stroke-linejoin="round" points="1307.7,404.6 1308.5,404.7 1309.3,404.7 1310.1,404.8 1310.9,404.8 1311.7,404.6 1312.5,404.5 1313.3,404.5 1314.1,404.6 1314.9,404.7 1315.7,404.7 1316.5,404.9 1317.2,405.1 1318,405.1 1318.8,405.2 1319.6,405.2 1320.4,405.1 1321.2,404.9 1322,404.6 1322.8,404.9 1323.6,405.1 1324.4,405.1 1325.2,405.1 1326,404.9 1326.8,404.8 1327.6,404.9 1328.4,405.1 1329.2,405 1330,405 1330.8,405.2 1331.6,405.4 1332.4,405.3 1333.2,405.3 1334,405.3 1334.7,405.3 1335.5,405.3 1336.3,405.3 1337.1,405.4 1337.9,405.5 1338.7,405.4 1339.5,405.2 1340.3,404.8 1341.1,404.3 1341.9,404 1342.7,403.5 1343.5,402.8 1344.3,402.3 1345.1,401.9 1345.9,401.8 1346.7,401.3 1347.5,401 1348.3,401.2 1349.1,401.5 1349.9,401.1 1350.7,400.7 1351.5,400.2 1352.3,399.7 1353,399.5 1353.8,399.2 1354.6,398.7 1355.4,398.2 1356.2,397.6 1357,397.1 1357.8,396.8 1358.6,396.6 1359.4,396.4 1360.2,396.5 1361,396.6 1361.8,396.9 1362.6,397.7 1363.4,398.5 1364.2,399 1365,399.7 1365.8,400.5 1366.6,401.2 1367.4,402 1368.2,402.7 1369,403.6 1369.8,404.3 1370.6,404.4 1371.3,404.4 1372.1,404.7 1372.9,405 1373.7,405.2 1374.5,405.3 1375.3,405.4 1376.1,405.4 1376.9,405.5 1377.7,405.5 1378.5,405.6 1379.3,405.6 1380.1,405.4 1380.9,405.1 1381.7,405 1382.5,405 1383.3,405.2 1384.1,405.4 1384.9,405.4 1385.7,405.4 1386.5,405.4 1387.3,405.4 1388.1,405.2 1388.8,405.1 1389.6,405.2 1390.4,405.3 1391.2,405.1 1392,404.9 1392.8,405.1 1393.6,405.2 1394.4,405.1 1395.2,405 1396,405.3 1396.8,405.7 1397.6,405.6 1398.4,405.6 1399.2,405.4 1400,405.3 1400.8,405.3 1401.6,405.4 1402.4,405.5 1403.2,405.5 1404,405.6 1404.8,405.6 1405.6,405.6 1406.4,405.7 1407.1,405.5 1407.9,405.3 1408.7,405.4 1409.5,405.4 1410.3,405.3 1411.1,405.1 1411.9,405.3 1412.7,405.4 1413.5,405.4 1414.3,405.3 1415.1,405.2 1415.9,405.2 1416.7,405.1 1417.5,405.1 1418.3,405.2 1419.1,405.4 1419.9,405.3 1420.7,405.3 1421.5,405.1 1422.3,404.8 1423.1,405.3 1423.9,405.8 1424.6,405.5 1425.4,405.2 1426.2,405.2 1427,405.2 1427.8,405.2 1428.6,405.3 1429.4,405.5 1430.2,405.7 1431,405.5 1431.8,405.2 1432.6,405.3 1433.4,405.4 1434.2,405.4 1435,405.3 1435.8,405.4 1436.6,405.4 1437.4,405.5 1438.2,405.5 1439,405.4 1439.8,405.2 1440.6,405.4 1441.4,405.5 1442.2,405.3 1442.9,405 1443.7,405.1 1444.5,405.2 1445.3,405.2 1446.1,405.3 1446.9,405.2 1447.7,405.2 1448.5,405.1 1449.3,405 1450.1,405.1 1450.9,405.2 1451.7,405.1 1452.5,404.9 1453.3,404.7 1454.1,404.5 1454.9,404.8 1455.7,405 1456.5,405 1457.3,404.9 1458.1,405 1458.9,405.2 1459.7,405.1 1460.4,405 1461.2,405.1 1462,405.2 1462.8,404.9 1463.6,404.6 1464.4,404.8 1465.2,405.1 1466,404.9 1466.8,404.8 1467.6,404.9 1468.4,405.1 1469.2,405 1470,404.9 1470.8,405 1471.6,405.1 1472.4,405.1 1473.2,405.1 1474,404.8 1474.8,404.5 1475.6,404.5 1476.4,404.5 1477.2,404.6 1478,404.7 1478.7,404.7 1479.5,404.8 1480.3,404.7 1481.1,404.6 1481.9,404.6 1482.7,404.5 1483.5,404.2 1484.3,403.8 1485.1,403.4 1485.9,402.8 1486.7,402.5 1487.5,402.3 1488.3,401.3 1489.1,400.2 1489.9,398.8 1490.7,397.1 1491.5,395.2 1492.3,393.3 1493.1,391.6 1493.9,389.7 1494.7,387.6 1495.5,385 1496.3,381.4 1497,377.3 1497.8,372.5 1498.6,367.7 1499.4,363.2 1500.2,358.5 1501,353.8 1501.8,349.2 1502.6,344 1503.4,340 1504.2,338.9 1505,341.7 1505.8,345.7 1506.6,350 1507.4,355 1508.2,359.9 1509,363.7 1509.8,367.1 1510.6,371 1511.4,375.8 1512.2,381 1513,385.9 1513.8,388.7 1514.5,390.7 1515.3,392.6 1516.1,394.4 1516.9,395.9 1517.7,397.1 1518.5,397.9 1519.3,398.5 1520.1,399.3 1520.9,400 1521.7,400.5 1522.5,400.8 1523.3,401 1524.1,401.2 1524.9,401.4 1525.7,401.5 1526.5,401.7 1527.3,401.8 1528.1,402 1528.9,402.1 1529.7,402.5 1530.5,402.9 1531.3,402.8 1532.1,402.7 1532.8,403 1533.6,403.3 1534.4,403.5 1535.2,403.7 1536,403.6 1536.8,403.6 1537.6,403.6 1538.4,403.7 1539.2,403.9 1540,404.2 1540.8,404.3 1541.6,404.5 1542.4,404.4 1543.2,404.4 1544,404.5 1544.8,404.5 1545.6,404.7 1546.4,404.9 1547.2,404.7 1548,404.5 1548.8,404.6 1549.6,404.6 1550.3,404.5 1551.1,404.5 1551.9,404.5 1552.7,404.4 1553.5,404.2 1554.3,404.1 1555.1,404.3 1555.9,404.5 1556.7,404.4 1557.5,404.3 1558.3,404.2 1559.1,404.1 1559.9,404.5 1560.7,405 1561.5,404.6 1562.3,404.2 1563.1,404.3 1563.9,404.5 1564.7,404.3 1565.5,404 1566.3,404.3 1567.1,404.6 1567.9,404.8 1568.6,405.1 1569.4,405 1570.2,404.9 1571,404.9 1571.8,405 1572.6,404.9 1573.4,404.8 1574.2,405.1 1575,405.3 1575.8,405.1 1576.6,404.9 1577.4,405 1578.2,405.1 1579,405.1 1579.8,405.1 1580.6,405 1581.4,404.9 1582.2,405 1583,405 1583.8,404.8 1584.6,404.6 1585.4,404.8 1586.2,405 1586.9,405 1587.7,404.9 1588.5,405.1 1589.3,405.2 1590.1,405.3 1590.9,405.3 1591.7,405 1592.5,404.7 1593.3,405 1594.1,405.2 1594.9,405.3 1595.7,405.4 1596.5,405.4 1597.3,405.4 1598.1,405.4 1598.9,405.3 1599.7,405.4 1600.5,405.4 1601.3,405.4 1602.1,405.3 1602.9,405.1 1603.7,404.8 1604.4,405 1605.2,405.2 1606,405.1 1606.8,405 1607.6,404.8 1608.4,404.6 1609.2,404.9 1610,405.3 1610.8,405.3 1611.6,405.2 1612.4,405.4 1613.2,405.5 1614,405.1 1614.8,404.8 1615.6,404.9 1616.4,404.9 1617.2,405.2 1618,405.4 1618.8,405 1619.6,404.6 1620.4,404.6 1621.2,404.6 1622,405 1622.7,405.4 1623.5,405.1 1624.3,404.8 1625.1,404.5 1625.9,404.2 1626.7,404.4 1627.5,404.7 1628.3,404.6 1629.1,404.5 1629.9,404.4 1630.7,404.2 1631.5,404.2 1632.3,404.2 1633.1,404.2 1633.9,404.2 1634.7,403.9 1635.5,403.7 1636.3,403.5 1637.1,403.3 1637.9,403.4 1638.7,403.5 1639.5,403 1640.2,402.5 1641,402.7 1641.8,402.8 1642.6,402.8 1643.4,402.7 1644.2,402.8 1645,403 1645.8,402.9 1646.6,402.9 1647.4,402.8 1648.2,402.9 1649,402.7 1649.8,402.5 1650.6,402.9 1651.4,403.2 1652.2,403.1 1653,403 1653.8,403.2 1654.6,403.5 1655.4,403.9 1656.2,404.3 1657,404.4 1657.8,404.5 1658.5,404.4 1659.3,404.3 1660.1,404.7 1660.9,405 1661.7,405.2 1662.5,405.4 1663.3,405.3 1664.1,405.1 1664.9,405 1665.7,404.9 1666.5,404.8 1667.3,404.8 1668.1,404.8 1668.9,404.9 1669.7,404.6 1670.5,404.4 1671.3,404.6 1672.1,404.8 1672.9,404.9 1673.7,405 1674.5,404.9 1675.3,404.8 1676,404.8 1676.8,404.7 1677.6,404.9 1678.4,405 1679.2,404.9 1680,404.9 1680.8,404.9 1681.6,404.9 1682.4,405 1683.2,405 1684,405.1 1684.8,405.1 1685.6,405.2 1686.4,405.4 1687.2,405.3 1688,405.1 1688.8,405.2 1689.6,405.3 1690.4,405.1 1691.2,404.9 1692,405 1692.8,405.1 1693.6,405.3 1694.3,405.4 1695.1,405.3 1695.9,405.2 1696.7,405.2 1697.5,405.2 1698.3,405.4 1699.1,405.6 1699.9,405.4 1700.7,405.3 1701.5,405.2 1702.3,405.1 1703.1,404.9 1703.9,404.6 1704.7,404.9 1705.5,405.1 1706.3,405 1707.1,404.9 1707.9,404.8 1708.7,404.6 1709.5,404.7 1710.3,404.7 1711.1,404.9 1711.9,405.1 1712.6,405 1713.4,404.9 1714.2,405.1 1715,405.2 1715.8,405.3 1716.6,405.3 1717.4,405.2 1718.2,405.2 1719,405.1 1719.8,405.1 1720.6,404.9 1721.4,404.7 1722.2,404.7 1723,404.8 1723.8,404.7 1724.6,404.7 1725.4,405.4 1726.2,406.1 1727,405.8 1727.8,405.4 1728.6,405.3 1729.4,405.3 1730.1,405.6 1730.9,406 1731.7,406.3 1732.5,406.7 1733.3,405.8 1734.1,404.9 1734.9,404.4 1735.7,403.8 1736.5,404.9 1737.3,406 1738.1,405.6 1738.9,405.1 1739.7,404.5 1740.5,403.7 1741.3,404.4 1742.1,405 1742.9,404.9 1743.7,404.7 1744.5,404.8 1745.3,404.8 1746.1,403.9 1746.9,402.9 1747.7,401.8 1748.4,400.4 1749.2,399.1 1750,397.5 1750.8,395.8 1751.6,393.4 1752.4,389.1 1753.2,383.3 1754,378.5 1754.8,373.6 1755.6,367 1756.4,359.8 1757.2,352.6 1758,346.8 1758.8,342.1 1759.6,341.5 1760.4,345.3 1761.2,350.2 1762,357.5 1762.8,365.2 1763.6,372.5 1764.4,379.6 1765.2,383.6 1765.9,387.2 1766.7,390.7 1767.5,393.3 1768.3,396.6 1769.1,399 1769.9,400.7 1770.7,402.1 1771.5,403 1772.3,403.7 1773.1,403.8 1773.9,403.7 1774.7,404.7 1775.5,405.6 1776.3,404.6 1777.1,403.5 1777.9,403.7 1778.7,404 1779.5,404.8 1780.3,405.6 1781.1,404.6 1781.9,403.5 1782.7,403.2 1783.5,402.9 1784.2,401.9 1785,400.8 1785.8,402 1786.6,403.1 1787.4,401.8 1788.2,400.5 1789,402.1 1789.8,403.9 1790.6,403.9 1791.4,404 1792.2,403.5 1793,402.9 1793.8,403.9 1794.6,404.8 1795.4,404.2 1796.2,403.5 1797,404.4 1797.8,405.3 1798.6,405.5 1799.4,405.7 1800.2,405.6 1801,405.4 1801.7,404.5 1802.5,403.6 1803.3,404.3 1804.1,405.1 1804.9,405.6 1805.7,406.2 1806.5,404.4 1807.3,402.5 1808.1,404.1 1808.9,405.7 1809.7,405 1810.5,404.3 1811.3,404.7 1812.1,405.1 1812.9,404.6 1813.7,404.2 1814.5,405.1 1815.3,406 1816.1,406.6 1816.9,407.3 1817.7,406.4 1818.5,405.4 1819.3,405.4 1820,405.4 1820.8,405.2 1821.6,405 1822.4,405.1 1823.2,405.3 1824,405.4 1824.8,405.5 1825.6,407.1 1826.4,408.7 1827.2,406.5 1828,404.3 1828.8,404.3 1829.6,404.3 1830.4,405.6 1831.2,406.8 1832,406.4 1832.8,405.9 1833.6,406.1 1834.4,406.3 1835.2,404.7 1836,403.2 1836.8,406.7 1837.6,410.2 1838.3,408.7 1839.1,407.1 1839.9,406 1840.7,404.9 1841.5,407.6 1842.3,410.4 1843.1,409.2 1843.9,408 1844.7,405 1845.5,402 1846.3,405.8 1847.1,409.8 1847.9,408.1 1848.7,406.5 1849.5,407.5 1850.3,408.6 1851.1,407.7 1851.9,406.7 1852.7,407.6 1853.5,408.5 1854.3,407.2 1855.1,406 1855.8,408.2 1856.6,410.4 1857.4,406 1858.2,401.6 1859,403.4 1859.8,405.2 1860.6,405.2 1861.4,405.2 1862.2,406.3 1863,407.5 1863.8,406.5 1864.6,405.5" clip-path="url(#clipC)"/>
<rect x="1307.7" y="18.1" width="556.9" height="409.7" fill="none" stroke="#000" stroke-width="2"/>
<line x1="1302.7" y1="427.8" x2="1307.7" y2="427.8" stroke="#000" stroke-width="2"/>
<line x1="1307.7" y1="427.8" x2="1307.7" y2="436.8" stroke="#000" stroke-width="2"/>
<text x="1310" y="465.6" font-size="28.6" text-anchor="middle">450</text>
<line x1="1347.5" y1="427.8" x2="1347.5" y2="433.2" stroke="#000" stroke-width="2"/>
<line x1="1387.3" y1="427.8" x2="1387.3" y2="436.8" stroke="#000" stroke-width="2"/>
<text x="1387.9" y="465.6" font-size="28.6" text-anchor="middle">500</text>
<line x1="1427" y1="427.8" x2="1427" y2="433.2" stroke="#000" stroke-width="2"/>
<line x1="1466.8" y1="427.8" x2="1466.8" y2="436.8" stroke="#000" stroke-width="2"/>
<text x="1469.3" y="465.6" font-size="28.6" text-anchor="middle">550</text>
<line x1="1506.6" y1="427.8" x2="1506.6" y2="433.2" stroke="#000" stroke-width="2"/>
<line x1="1546.4" y1="427.8" x2="1546.4" y2="436.8" stroke="#000" stroke-width="2"/>
<text x="1546.5" y="465.6" font-size="28.6" text-anchor="middle">600</text>
<line x1="1586.2" y1="427.8" x2="1586.2" y2="433.2" stroke="#000" stroke-width="2"/>
<line x1="1625.9" y1="427.8" x2="1625.9" y2="436.8" stroke="#000" stroke-width="2"/>
<text x="1627.3" y="465.6" font-size="28.6" text-anchor="middle">650</text>
<line x1="1665.7" y1="427.8" x2="1665.7" y2="433.2" stroke="#000" stroke-width="2"/>
<line x1="1705.5" y1="427.8" x2="1705.5" y2="436.8" stroke="#000" stroke-width="2"/>
<text x="1704.9" y="465.6" font-size="28.6" text-anchor="middle">700</text>
<line x1="1745.3" y1="427.8" x2="1745.3" y2="433.2" stroke="#000" stroke-width="2"/>
<line x1="1785" y1="427.8" x2="1785" y2="436.8" stroke="#000" stroke-width="2"/>
<text x="1786.5" y="465.6" font-size="28.6" text-anchor="middle">750</text>
<line x1="1824.8" y1="427.8" x2="1824.8" y2="433.2" stroke="#000" stroke-width="2"/>
<line x1="1864.6" y1="427.8" x2="1864.6" y2="436.8" stroke="#000" stroke-width="2"/>
<text x="1867.5" y="465.6" font-size="28.6" text-anchor="middle">800</text>
<text x="1598" y="501.3" font-size="33.1" text-anchor="middle">Wavelength (nm)</text>
<text x="0" y="0" font-size="32.2" text-anchor="middle" transform="translate(1291 201) rotate(-90)">Intensity</text>
<text x="1258.3" y="23.9" font-size="34" text-anchor="start">c)</text>
<text x="1070.6" y="45.6" font-size="27.8" text-anchor="start"><tspan font-family='"Liberation Serif", "DejaVu Serif", serif' font-size="27.8">λ</tspan><tspan font-size="17" dy="9.1" dx="0.5">ex</tspan><tspan font-size="27.8" dy="-9.1"> = 310 nm</tspan></text>
<line x1="1049.5" y1="81.8" x2="1100.5" y2="81.8" stroke="#000000" stroke-width="2"/>
<text x="1224.7" y="90.6" font-size="27.3" text-anchor="end">0.5 at.%</text>
<line x1="1049.5" y1="109.1" x2="1100.5" y2="109.1" stroke="#ff0000" stroke-width="2"/>
<text x="1222.1" y="116.1" font-size="27.3" text-anchor="end">1 at.%</text>
<line x1="1049.5" y1="136.4" x2="1100.5" y2="136.4" stroke="#0000ff" stroke-width="2"/>
<text x="1222.1" y="144" font-size="27.3" text-anchor="end">2 at.%</text>
<line x1="1049.5" y1="163.8" x2="1100.5" y2="163.8" stroke="#ff00ff" stroke-width="2"/>
<text x="1222.1" y="171.2" font-size="27.3" text-anchor="end">5 at.%</text>
<line x1="1049.5" y1="191.1" x2="1100.5" y2="191.1" stroke="#008000" stroke-width="2"/>
<text x="1223.8" y="198.3" font-size="27.3" text-anchor="end">10 at.%</text>
<line x1="1049.5" y1="218.4" x2="1100.5" y2="218.4" stroke="#808000" stroke-width="2"/>
<text x="1223.8" y="225.6" font-size="27.3" text-anchor="end">15 at.%</text>
<text x="1693.6" y="45.6" font-size="27.8" text-anchor="start"><tspan font-family='"Liberation Serif", "DejaVu Serif", serif' font-size="27.8">λ</tspan><tspan font-size="17" dy="9.1" dx="0.5">ex</tspan><tspan font-size="27.8" dy="-9.1"> = 365 nm</tspan></text>
<line x1="1672.5" y1="81.8" x2="1723.5" y2="81.8" stroke="#000000" stroke-width="2"/>
<text x="1847.7" y="90.6" font-size="27.3" text-anchor="end">0.5 at.%</text>
<line x1="1672.5" y1="109.1" x2="1723.5" y2="109.1" stroke="#ff0000" stroke-width="2"/>
<text x="1845.1" y="116.1" font-size="27.3" text-anchor="end">1 at.%</text>
<line x1="1672.5" y1="136.4" x2="1723.5" y2="136.4" stroke="#0000ff" stroke-width="2"/>
<text x="1845.1" y="144" font-size="27.3" text-anchor="end">2 at.%</text>
<line x1="1672.5" y1="163.8" x2="1723.5" y2="163.8" stroke="#ff00ff" stroke-width="2"/>
<text x="1845.1" y="171.2" font-size="27.3" text-anchor="end">5 at.%</text>
<line x1="1672.5" y1="191.1" x2="1723.5" y2="191.1" stroke="#008000" stroke-width="2"/>
<text x="1846.8" y="198.3" font-size="27.3" text-anchor="end">10 at.%</text>
<line x1="1672.5" y1="218.4" x2="1723.5" y2="218.4" stroke="#808000" stroke-width="2"/>
<text x="1846.8" y="225.6" font-size="27.3" text-anchor="end">15 at.%</text>
<text x="0" y="0" font-size="29.2" text-anchor="start" transform="translate(741.2 333) rotate(-90)"><tspan font-size="18" dy="-15.3">4</tspan><tspan font-size="29.2" dy="15.3" dx="0">F</tspan><tspan font-size="17.3" dy="9.6">9/2</tspan><tspan font-size="29.2" dy="-9.6">​</tspan><tspan font-size="29.2">-</tspan><tspan font-size="18" dy="-15.3">6</tspan><tspan font-size="29.2" dy="15.3" dx="0">H</tspan><tspan font-size="17.3" dy="9.6">15/2</tspan><tspan font-size="29.2" dy="-9.6">​</tspan></text>
<text x="0" y="0" font-size="29.2" text-anchor="start" transform="translate(918.5 155.5) rotate(-90)"><tspan font-size="18" dy="-15.3">4</tspan><tspan font-size="29.2" dy="15.3" dx="0">F</tspan><tspan font-size="17.3" dy="9.6">9/2</tspan><tspan font-size="29.2" dy="-9.6">​</tspan><tspan font-size="29.2">-</tspan><tspan font-size="18" dy="-15.3">6</tspan><tspan font-size="29.2" dy="15.3" dx="0">H</tspan><tspan font-size="17.3" dy="9.6">13/2</tspan><tspan font-size="29.2" dy="-9.6">​</tspan></text>
<text x="0" y="0" font-size="29.2" text-anchor="start" transform="translate(1028.3 382.6) rotate(-90)"><tspan font-size="18" dy="-15.3">4</tspan><tspan font-size="29.2" dy="15.3" dx="0">F</tspan><tspan font-size="17.3" dy="9.6">9/2</tspan><tspan font-size="29.2" dy="-9.6">​</tspan><tspan font-size="29.2">-</tspan><tspan font-size="18" dy="-15.3">6</tspan><tspan font-size="29.2" dy="15.3" dx="0">H</tspan><tspan font-size="17.3" dy="9.6">11/2</tspan><tspan font-size="29.2" dy="-9.6">​</tspan></text>
<text x="0" y="0" font-size="29.2" text-anchor="start" transform="translate(1169.8 389.4) rotate(-90)"><tspan font-size="18" dy="-15.3">4</tspan><tspan font-size="29.2" dy="15.3" dx="0">F</tspan><tspan font-size="17.3" dy="9.6">9/2</tspan><tspan font-size="29.2" dy="-9.6">​</tspan><tspan font-size="29.2">-</tspan><tspan font-size="18" dy="-15.3">6</tspan><tspan font-size="29.2" dy="15.3" dx="0">H</tspan><tspan font-size="17.3" dy="9.6">9/2</tspan><tspan font-size="29.2" dy="-9.6">​</tspan></text>
<text x="0" y="0" font-size="29.2" text-anchor="start" transform="translate(1365.6 335.3) rotate(-90)"><tspan font-size="18" dy="-15.3">4</tspan><tspan font-size="29.2" dy="15.3" dx="0">F</tspan><tspan font-size="17.3" dy="9.6">9/2</tspan><tspan font-size="29.2" dy="-9.6">​</tspan><tspan font-size="29.2">-</tspan><tspan font-size="18" dy="-15.3">6</tspan><tspan font-size="29.2" dy="15.3" dx="0">H</tspan><tspan font-size="17.3" dy="9.6">15/2</tspan><tspan font-size="29.2" dy="-9.6">​</tspan></text>
<text x="0" y="0" font-size="29.2" text-anchor="start" transform="translate(1542.1 149) rotate(-90)"><tspan font-size="18" dy="-15.3">4</tspan><tspan font-size="29.2" dy="15.3" dx="0">F</tspan><tspan font-size="17.3" dy="9.6">9/2</tspan><tspan font-size="29.2" dy="-9.6">​</tspan><tspan font-size="29.2">-</tspan><tspan font-size="18" dy="-15.3">6</tspan><tspan font-size="29.2" dy="15.3" dx="0">H</tspan><tspan font-size="17.3" dy="9.6">13/2</tspan><tspan font-size="29.2" dy="-9.6">​</tspan></text>
<text x="0" y="0" font-size="29.2" text-anchor="start" transform="translate(1655 375.7) rotate(-90)"><tspan font-size="18" dy="-15.3">4</tspan><tspan font-size="29.2" dy="15.3" dx="0">F</tspan><tspan font-size="17.3" dy="9.6">9/2</tspan><tspan font-size="29.2" dy="-9.6">​</tspan><tspan font-size="29.2">-</tspan><tspan font-size="18" dy="-15.3">6</tspan><tspan font-size="29.2" dy="15.3" dx="0">H</tspan><tspan font-size="17.3" dy="9.6">11/2</tspan><tspan font-size="29.2" dy="-9.6">​</tspan></text>
<text x="0" y="0" font-size="29.2" text-anchor="start" transform="translate(1799.4 382.8) rotate(-90)"><tspan font-size="18" dy="-15.3">4</tspan><tspan font-size="29.2" dy="15.3" dx="0">F</tspan><tspan font-size="17.3" dy="9.6">9/2</tspan><tspan font-size="29.2" dy="-9.6">​</tspan><tspan font-size="29.2">-</tspan><tspan font-size="18" dy="-15.3">6</tspan><tspan font-size="29.2" dy="15.3" dx="0">H</tspan><tspan font-size="17.3" dy="9.6">9/2</tspan><tspan font-size="29.2" dy="-9.6">​</tspan></text>
<text x="1760.3" y="299" font-size="30" text-anchor="middle" font-weight="bold">*</text>
</svg>
</body>
</html>
